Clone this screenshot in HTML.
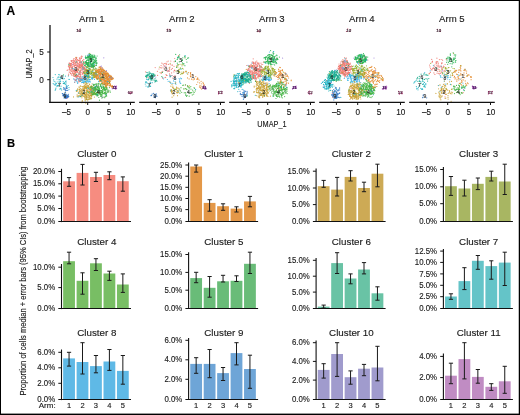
<!DOCTYPE html>
<html><head><meta charset="utf-8"><style>
html,body{margin:0;padding:0;background:#fff;}
svg{display:block;font-family:"Liberation Sans", sans-serif;will-change:transform;}
</style></head><body>
<svg width="520" height="415" viewBox="0 0 520 415">
<rect width="520" height="415" fill="#fff"/>

<text x="6.40" y="14.80" font-size="12" text-anchor="start" font-weight="bold" fill="#000" stroke="#000" stroke-width="0.13" >A</text>
<text x="6.90" y="147.10" font-size="11.2" text-anchor="start" font-weight="bold" fill="#000" stroke="#000" stroke-width="0.13" >B</text>
<path d="M78.2 67.1h0M69.2 72.1h0M73.7 63.4h0M71.1 63.4h0M75.3 59.7h0M76.8 57.7h0M81.7 64.4h0M70.0 72.2h0M79.1 63.1h0M73.1 70.4h0M75.6 73.2h0M73.2 60.4h0M82.9 69.6h0M78.9 67.0h0M79.2 66.4h0M84.1 67.8h0M75.5 75.4h0M80.2 66.1h0M75.1 72.2h0M77.7 75.7h0M78.0 60.3h0M74.2 70.0h0M79.3 64.2h0M73.3 62.4h0M76.3 71.3h0M81.0 62.9h0M82.0 66.7h0M77.4 59.8h0M81.7 62.8h0M82.1 64.0h0M68.0 69.8h0M74.2 63.4h0M79.1 60.8h0M67.1 70.3h0M85.7 69.2h0M70.1 63.5h0M86.4 71.5h0M76.3 70.0h0M68.4 66.5h0M79.6 64.9h0M82.3 65.8h0M76.0 64.2h0M74.8 71.4h0M82.5 65.0h0M80.0 66.7h0M76.1 59.3h0M74.0 63.7h0M72.8 66.4h0M83.3 68.1h0M69.1 67.1h0M76.1 69.0h0M69.9 67.4h0M69.1 63.2h0M69.9 68.0h0M82.0 65.3h0M79.3 65.5h0M84.4 67.9h0M82.0 56.4h0M71.4 63.4h0M75.2 75.7h0M82.6 63.8h0M82.9 68.9h0M74.7 71.2h0M81.3 62.8h0M72.2 64.6h0M81.8 65.3h0M71.9 68.1h0M82.2 66.6h0M73.2 66.1h0M77.1 76.3h0M68.5 65.3h0M82.5 60.3h0M75.5 65.3h0M74.0 61.5h0M76.7 71.8h0M74.0 62.7h0M80.2 62.6h0M68.7 74.1h0M79.5 79.8h0M70.5 73.4h0M75.9 57.4h0M74.9 74.5h0M80.2 65.3h0M75.8 62.5h0M76.2 57.3h0M83.7 71.3h0M76.0 59.0h0M77.8 72.1h0M70.5 66.3h0M83.9 68.7h0M75.6 75.4h0M75.9 72.9h0M77.2 70.5h0M73.5 58.8h0M79.6 62.3h0M79.7 58.4h0M68.5 75.2h0M82.2 73.2h0M79.9 58.5h0M73.0 68.9h0M76.2 64.6h0M71.8 63.9h0M76.9 62.0h0M82.6 78.6h0M86.8 77.9h0M80.3 74.9h0M84.5 76.2h0M83.3 76.0h0M74.4 76.5h0M75.4 80.6h0M75.2 76.6h0M81.7 79.8h0M76.1 77.0h0M81.0 76.8h0M96.0 68.9h0M108.4 91.9h0M92.5 88.8h0M67.7 95.7h0M74.5 65.7h0M101.3 70.4h0M108.7 75.8h0" stroke="#EF776F" stroke-width="1.2" stroke-linecap="round" fill="none" opacity="0.88"/>
<path d="M96.6 78.0h0M99.2 72.2h0M106.9 73.9h0M99.4 69.3h0M107.7 73.9h0M112.9 79.0h0M101.6 68.1h0M102.7 82.5h0M104.3 81.8h0M109.5 75.9h0M96.1 75.7h0M102.3 78.8h0M112.2 79.2h0M105.6 78.5h0M97.5 77.9h0M102.1 73.1h0M99.9 73.7h0M100.9 80.5h0M106.6 82.7h0M107.2 73.2h0M102.3 70.0h0M99.8 70.6h0M96.6 72.0h0M104.6 74.3h0M96.0 76.0h0M108.5 78.9h0M97.1 75.2h0M104.8 78.0h0M108.5 85.0h0M103.1 77.5h0M108.1 78.1h0M96.4 73.0h0M100.1 66.8h0M95.2 76.3h0M101.2 74.2h0M109.1 80.6h0M104.5 73.1h0M95.4 75.5h0M106.9 82.9h0M98.2 78.0h0M99.1 67.4h0M102.1 83.4h0M105.9 71.4h0M100.6 77.3h0M111.0 79.1h0M97.4 70.0h0M99.8 81.4h0M102.2 74.3h0M106.6 75.6h0M104.5 80.2h0M99.2 81.0h0M102.0 78.4h0M106.8 83.5h0M100.8 79.6h0M112.0 77.3h0M95.2 74.3h0M99.9 78.5h0M102.2 73.9h0M102.0 71.5h0M108.2 73.9h0M108.2 79.3h0M108.7 74.7h0M96.8 70.3h0M100.3 79.3h0M109.7 76.4h0M95.2 72.9h0M109.4 79.6h0M107.8 81.0h0M99.6 71.4h0M112.3 77.7h0M105.4 82.0h0M95.9 72.3h0M103.8 77.2h0M111.9 78.1h0M111.3 78.4h0M103.6 78.0h0M113.3 78.3h0M105.1 72.2h0M98.2 76.1h0M105.4 75.0h0M99.6 76.0h0M110.3 76.2h0M106.1 73.4h0M106.3 84.9h0M106.0 73.1h0M104.6 72.0h0M105.5 81.7h0M103.5 70.3h0M95.7 77.6h0M106.4 71.7h0M106.7 77.3h0M107.0 80.1h0M111.0 77.2h0M94.5 75.9h0M104.5 83.8h0M104.2 83.0h0M106.4 77.8h0M94.7 74.4h0M98.3 71.0h0M107.9 74.3h0M108.3 76.2h0M108.4 81.3h0M99.8 80.8h0M108.9 79.9h0M108.0 83.5h0M104.7 70.9h0M109.8 75.2h0M102.1 79.7h0M107.1 85.1h0M95.8 75.2h0M107.7 77.8h0M102.8 71.5h0M111.7 79.6h0M98.5 72.0h0M102.4 78.0h0M111.0 79.6h0M96.5 73.0h0M107.2 78.5h0M108.2 75.3h0M103.5 73.3h0M99.8 80.0h0M107.6 77.0h0M93.7 75.7h0M99.1 67.2h0M100.5 71.7h0M110.9 76.2h0M104.1 77.7h0M104.1 70.6h0M101.6 73.7h0M107.6 76.9h0M109.5 75.4h0M94.5 76.7h0M100.3 68.6h0M110.5 77.0h0M109.6 81.4h0M100.1 71.9h0M96.2 72.3h0M100.7 75.9h0M105.6 71.7h0M108.5 75.7h0M108.1 83.4h0M103.4 79.7h0M105.7 80.9h0M105.5 80.4h0M111.4 86.0h0M106.6 83.3h0M105.7 80.7h0M110.8 85.7h0M103.2 79.3h0M110.7 85.0h0M111.5 86.7h0M106.8 81.6h0M113.5 86.5h0" stroke="#E4892A" stroke-width="1.2" stroke-linecap="round" fill="none" opacity="0.88"/>
<path d="M76.7 91.3h0M76.4 91.3h0M82.2 101.4h0M84.1 86.1h0M81.7 89.6h0M85.8 94.8h0M80.9 95.0h0M85.8 103.2h0M81.5 91.2h0M85.3 99.3h0M84.2 95.8h0M85.0 97.8h0M89.4 84.2h0M85.5 95.3h0M91.3 96.2h0M81.6 92.4h0M89.1 95.3h0M87.6 100.1h0M78.3 92.9h0M90.4 88.5h0M84.2 87.0h0M89.5 91.1h0M85.4 100.8h0M86.5 88.5h0M86.4 94.9h0M80.9 90.8h0M80.7 95.1h0M77.2 96.7h0M80.8 90.8h0M84.1 96.3h0M85.9 87.5h0M85.1 100.7h0M81.7 95.9h0M82.6 93.7h0M78.9 93.5h0M79.3 87.3h0M88.5 86.9h0M86.2 96.6h0M86.9 92.3h0M86.5 96.5h0M86.0 97.2h0M86.2 86.3h0M79.5 90.8h0M80.2 92.0h0M86.0 98.9h0M91.3 91.0h0M85.3 94.3h0M79.4 91.9h0M80.4 93.4h0M79.1 86.9h0M85.0 86.8h0M85.8 95.5h0M89.4 91.9h0M82.3 100.5h0M82.8 95.1h0M82.4 95.7h0M89.9 88.7h0M80.6 96.3h0M90.4 89.4h0M87.7 87.3h0M89.0 98.6h0M85.3 87.5h0M85.1 99.2h0M78.9 87.0h0M88.0 85.9h0M88.9 91.6h0M87.1 86.8h0M77.3 95.9h0M77.6 90.8h0M90.3 89.0h0M85.2 92.1h0M78.5 95.8h0M83.6 90.0h0M77.6 88.9h0M73.5 96.9h0M85.1 84.8h0M87.0 94.5h0M91.7 90.1h0M78.7 96.7h0M91.7 93.1h0M79.2 91.1h0M81.0 86.4h0M91.8 94.1h0M80.4 88.3h0M81.0 96.6h0M91.1 95.5h0M76.9 90.4h0M84.4 85.6h0M87.1 99.1h0M84.8 97.9h0M88.7 94.6h0M79.8 89.6h0M80.6 81.2h0M98.4 69.0h0M103.4 87.5h0M89.7 53.4h0M98.4 74.1h0M94.8 94.1h0M84.5 68.6h0M87.3 79.6h0" stroke="#C9A031" stroke-width="1.2" stroke-linecap="round" fill="none" opacity="0.88"/>
<path d="M96.1 75.4h0M90.8 79.6h0M96.6 74.9h0M94.7 69.2h0M93.4 74.6h0M92.5 72.0h0M86.4 66.7h0M97.0 71.3h0M86.1 80.5h0M93.1 75.9h0M92.4 77.7h0M90.1 69.0h0M90.3 74.0h0M95.1 74.0h0M89.6 68.7h0M86.4 72.9h0M91.6 75.1h0M97.0 75.4h0M94.2 77.4h0M86.8 73.3h0M92.6 70.3h0M85.4 76.5h0M91.3 72.7h0M88.8 69.7h0M90.1 77.5h0M87.7 73.2h0M92.1 72.4h0M86.2 74.7h0M91.5 73.4h0M96.4 75.9h0M93.2 73.4h0M85.0 73.3h0M100.2 74.1h0M86.5 70.7h0M88.9 77.7h0M88.9 72.8h0M93.6 72.5h0M84.5 73.2h0M95.5 76.6h0M87.8 71.0h0M84.5 73.4h0M90.0 77.4h0M88.5 71.3h0M87.9 72.2h0M86.7 72.0h0M93.2 69.0h0M86.7 71.7h0M86.3 70.0h0M87.1 91.4h0M84.2 93.7h0M105.6 83.4h0M107.9 74.6h0M106.4 93.8h0M98.8 72.8h0" stroke="#9DAF2E" stroke-width="1.2" stroke-linecap="round" fill="none" opacity="0.88"/>
<path d="M102.8 85.0h0M105.7 90.9h0M103.8 87.0h0M97.5 92.2h0M106.6 89.0h0M95.0 93.7h0M100.1 94.8h0M93.7 93.5h0M91.1 90.1h0M107.0 88.2h0M105.8 96.5h0M100.7 96.3h0M104.6 88.1h0M106.1 91.0h0M97.7 92.1h0M108.1 90.6h0M101.7 92.7h0M93.1 90.4h0M104.4 93.2h0M107.4 91.8h0M105.2 92.2h0M99.5 100.2h0M102.8 91.8h0M108.6 91.8h0M105.5 96.6h0M94.9 90.8h0M97.0 94.5h0M96.2 89.3h0M104.9 90.7h0M105.8 93.2h0M105.3 94.7h0M110.3 92.2h0M98.5 88.9h0M105.9 89.8h0M107.4 89.8h0M106.6 93.3h0M97.5 94.7h0M104.9 96.8h0M101.9 91.1h0M108.3 90.0h0M101.7 96.4h0M101.5 87.5h0M96.7 94.2h0M97.6 94.9h0M98.4 87.2h0M101.7 98.0h0M105.2 89.4h0M100.0 94.6h0M98.2 93.9h0M99.9 92.6h0M97.1 89.7h0M106.7 93.1h0M105.0 89.7h0M103.3 87.1h0M104.2 87.9h0M105.2 94.2h0M99.0 87.8h0M106.1 88.0h0M106.7 96.0h0M97.4 95.1h0M96.9 92.8h0M94.0 92.1h0M104.7 97.7h0M99.4 90.0h0M100.9 86.4h0M109.9 90.8h0M99.8 92.3h0M105.7 93.7h0M106.0 87.7h0M106.5 94.9h0M103.1 97.2h0M101.8 95.8h0M102.6 97.6h0M93.0 91.8h0M96.5 92.4h0M94.8 88.7h0M97.3 87.1h0M97.8 93.9h0M103.5 88.5h0M101.9 87.6h0M98.0 86.7h0M102.3 92.7h0M106.1 95.6h0M96.4 94.1h0M101.3 87.9h0" stroke="#3DB23D" stroke-width="1.2" stroke-linecap="round" fill="none" opacity="0.88"/>
<path d="M89.3 68.5h0M92.1 65.9h0M92.5 63.2h0M85.2 63.4h0M88.7 68.2h0M93.7 57.6h0M87.5 65.4h0M87.9 57.7h0M93.6 68.1h0M88.8 56.8h0M90.6 61.2h0M85.9 58.2h0M89.0 63.0h0M83.8 64.5h0M90.1 63.8h0M83.7 62.3h0M93.2 65.6h0M92.2 59.4h0M92.5 58.9h0M91.3 65.3h0M93.6 57.9h0M88.1 64.4h0M90.8 63.3h0M85.1 65.9h0M84.7 65.4h0M91.4 59.9h0M92.0 64.2h0M85.7 64.5h0M93.4 63.2h0M88.3 57.1h0M87.0 64.0h0M88.6 62.4h0M90.6 57.5h0M89.9 66.6h0M91.6 64.6h0M93.3 62.1h0M86.0 66.1h0M87.7 60.2h0M92.4 66.9h0M90.4 56.8h0M88.7 68.3h0M93.8 62.3h0M92.8 64.0h0M85.7 61.8h0M83.6 63.1h0M91.9 56.7h0M87.0 67.5h0M94.5 62.3h0M85.8 58.3h0M95.0 63.5h0M87.7 66.8h0M91.0 57.1h0M83.3 63.1h0M91.1 63.3h0M88.9 60.6h0M95.0 60.6h0M86.7 62.3h0M85.8 57.4h0M93.5 63.9h0M87.2 67.7h0M94.8 62.1h0M93.0 57.6h0M90.6 57.3h0M89.1 66.6h0M91.6 60.1h0M87.5 64.2h0M88.2 56.3h0M85.6 56.1h0M90.7 57.5h0M89.6 56.2h0M90.0 56.5h0M87.1 58.0h0M107.7 92.1h0M80.0 81.3h0M76.1 69.6h0M103.1 87.2h0M106.0 86.8h0M110.9 77.0h0M90.8 98.7h0M86.7 99.6h0" stroke="#21B24E" stroke-width="1.2" stroke-linecap="round" fill="none" opacity="0.88"/>
<path d="M87.9 72.3h0M87.4 76.1h0M89.3 73.6h0M86.2 75.0h0M88.3 74.7h0M86.7 72.7h0M94.1 92.8h0M91.1 94.1h0M68.9 64.4h0M88.5 75.9h0M104.2 88.5h0M82.1 93.9h0M94.0 72.6h0" stroke="#12AA8A" stroke-width="1.2" stroke-linecap="round" fill="none" opacity="0.88"/>
<path d="M56.0 84.0h0M55.3 74.6h0M60.1 79.3h0M63.6 76.0h0M55.2 90.2h0M55.1 85.5h0M67.1 86.9h0M58.0 81.9h0M63.2 81.6h0M66.1 82.9h0M59.7 82.1h0M63.3 83.4h0M61.0 88.5h0M65.4 84.6h0M56.5 86.0h0M59.0 79.7h0M61.6 89.9h0M60.0 77.2h0M58.3 76.9h0M55.4 83.9h0M84.9 81.6h0M101.3 80.6h0M85.3 57.3h0M65.5 97.5h0M93.9 92.4h0M89.8 71.2h0M76.3 90.4h0M104.2 84.0h0" stroke="#1DB3C3" stroke-width="1.2" stroke-linecap="round" fill="none" opacity="0.88"/>
<path d="M83.7 82.6h0M73.5 78.9h0M88.1 78.2h0M85.2 81.7h0M90.3 81.9h0M88.9 77.7h0M88.6 82.1h0M80.7 79.3h0M82.3 82.5h0M91.6 78.4h0M81.8 80.2h0M82.3 80.1h0M89.1 79.5h0M87.1 80.9h0M81.5 82.6h0M81.1 79.1h0M85.9 81.3h0M88.2 79.8h0M88.5 79.9h0M85.0 78.3h0M86.2 78.7h0M87.8 77.8h0M75.1 79.8h0M89.7 80.9h0M82.6 82.5h0M88.7 82.2h0M89.6 79.5h0M82.5 79.3h0M86.4 97.7h0M89.0 65.4h0M94.6 73.9h0M103.3 76.4h0M82.1 95.3h0M87.1 76.1h0M85.9 62.6h0M92.6 87.5h0M77.4 65.1h0M93.1 84.2h0M69.0 89.5h0M91.3 90.1h0M66.5 85.2h0M109.7 80.3h0M90.1 66.9h0M102.1 72.5h0" stroke="#36B3E6" stroke-width="1.2" stroke-linecap="round" fill="none" opacity="0.88"/>
<path d="M66.2 87.4h0M67.0 95.4h0M64.7 94.1h0M65.2 92.4h0M65.6 95.8h0M67.0 86.1h0M65.0 88.9h0M67.8 90.3h0M62.4 93.6h0M66.8 90.4h0M66.9 96.0h0M65.0 97.0h0M67.9 96.8h0M66.1 98.0h0M64.3 95.6h0M65.8 98.0h0M65.1 95.8h0M63.0 95.7h0M68.7 96.5h0M66.5 97.2h0M66.3 97.9h0M68.8 96.6h0M68.2 96.9h0M65.3 96.4h0M67.2 95.4h0M67.7 95.9h0M67.2 97.1h0M65.4 97.8h0" stroke="#3478C4" stroke-width="1.2" stroke-linecap="round" fill="none" opacity="0.88"/>
<path d="M109.2 77.9h0M104.9 74.4h0M91.1 93.2h0M91.4 66.0h0M106.4 70.7h0M90.2 65.1h0M80.5 74.0h0M102.4 68.3h0M72.9 64.4h0M83.2 89.4h0" stroke="#9A7ED6" stroke-width="1.2" stroke-linecap="round" fill="none" opacity="0.88"/>
<path d="M116.4 87.2h0M115.6 87.8h0M113.3 87.0h0M114.2 86.4h0M113.8 88.1h0M114.7 86.0h0" stroke="#A345B0" stroke-width="1.2" stroke-linecap="round" fill="none" opacity="0.88"/>
<path d="M129.9 92.8h0M129.1 93.1h0" stroke="#C03A7E" stroke-width="1.2" stroke-linecap="round" fill="none" opacity="0.88"/>
<path d="M78.4 30.8h0M79.7 31.2h0" stroke="#C45A78" stroke-width="1.2" stroke-linecap="round" fill="none" opacity="0.88"/>
<path d="M130.2 93.7h0" stroke="#8A8AA0" stroke-width="1.2" stroke-linecap="round" fill="none" opacity="0.88"/>
<path d="M72.4 69.1h0M74.7 79.1h0M82.8 68.3h0M79.4 59.9h0M81.3 69.6h0M75.2 72.7h0M83.4 68.5h0M82.2 74.4h0M75.4 65.3h0M82.6 73.4h0M77.4 66.6h0M78.2 63.9h0M79.0 68.2h0M82.7 73.3h0M83.0 69.4h0M83.0 73.5h0M78.5 60.4h0M81.2 58.1h0M82.1 64.8h0M79.0 70.5h0M80.0 64.6h0M71.5 71.3h0M88.9 64.6h0M71.9 68.9h0M71.9 69.7h0M72.0 66.0h0M70.0 67.5h0M77.8 69.2h0M71.9 65.9h0M84.7 63.3h0M79.9 67.2h0M81.1 65.4h0M74.2 65.7h0M76.9 65.2h0M83.2 72.2h0M74.9 58.5h0M73.4 73.6h0M80.6 67.1h0M81.5 66.6h0M75.2 67.4h0M76.4 60.7h0M81.6 68.5h0M72.1 68.3h0M82.7 66.1h0M83.1 67.6h0M83.0 60.8h0M79.2 64.9h0M81.5 58.4h0M80.3 68.2h0M77.8 65.6h0M77.5 63.5h0M72.4 60.8h0M77.3 65.0h0M78.7 69.2h0M79.3 72.3h0M74.6 65.9h0M77.3 66.3h0M77.1 62.9h0M76.9 71.8h0M73.4 71.0h0M84.0 68.3h0M71.9 75.5h0M81.1 72.3h0M83.4 73.4h0M70.7 70.8h0M75.6 63.6h0M83.8 59.4h0M80.3 60.8h0M76.5 58.4h0M75.0 74.7h0M78.9 73.3h0M77.9 72.7h0M74.9 60.7h0M77.5 61.9h0M76.6 70.4h0M80.2 76.9h0M84.7 62.7h0M80.4 71.2h0M80.1 61.0h0M81.6 56.0h0M76.6 75.0h0M78.3 65.8h0M77.7 75.4h0M71.5 60.7h0M73.6 64.5h0M77.1 63.2h0M83.7 72.1h0M80.3 70.0h0M75.4 62.3h0M83.0 65.2h0M83.9 71.3h0M79.8 73.2h0M85.1 69.4h0M75.8 71.8h0M80.7 75.1h0M72.3 67.6h0M70.7 65.1h0M69.2 67.1h0M78.4 69.9h0M82.3 70.9h0M79.1 67.4h0M72.3 68.1h0M71.9 67.2h0M80.1 74.4h0M80.7 80.7h0M79.2 74.2h0M76.4 77.9h0M80.7 78.9h0M73.6 74.6h0M81.2 80.6h0M83.6 78.0h0M81.6 78.2h0M75.9 76.2h0M78.6 81.0h0M92.7 57.2h0M74.7 82.4h0M86.0 62.9h0M107.7 81.1h0M71.3 64.0h0M67.4 98.0h0M95.4 70.4h0" stroke="#EF776F" stroke-width="1.2" stroke-linecap="round" fill="none" opacity="0.88"/>
<path d="M104.3 74.5h0M98.4 70.3h0M98.3 73.0h0M105.0 74.0h0M101.8 76.2h0M110.1 77.7h0M103.3 69.0h0M104.2 78.5h0M108.5 75.4h0M106.7 73.7h0M107.9 73.3h0M98.4 78.3h0M100.6 79.2h0M99.2 71.4h0M105.4 76.4h0M92.6 74.9h0M99.5 73.8h0M105.7 81.1h0M98.4 76.2h0M96.9 78.8h0M96.6 70.0h0M102.6 83.1h0M107.5 84.9h0M101.5 71.4h0M103.2 80.4h0M97.7 72.4h0M103.6 79.9h0M104.6 77.4h0M103.5 71.2h0M106.5 76.9h0M107.1 79.4h0M102.9 84.2h0M105.6 73.7h0M99.9 69.6h0M103.7 70.9h0M107.7 82.8h0M108.1 77.9h0M97.3 76.5h0M103.7 78.4h0M94.7 77.0h0M104.9 81.1h0M94.3 73.3h0M106.7 85.9h0M98.2 72.2h0M107.5 84.3h0M107.7 72.9h0M108.9 80.2h0M102.1 67.7h0M96.2 75.8h0M99.9 81.3h0M97.4 75.4h0M100.2 74.7h0M105.5 74.3h0M96.9 76.1h0M98.9 77.8h0M106.6 73.1h0M105.1 81.3h0M95.9 71.2h0M105.1 84.2h0M100.5 77.7h0M106.5 74.7h0M106.3 79.9h0M103.2 75.3h0M106.1 77.7h0M101.9 69.1h0M103.4 75.5h0M105.1 74.8h0M98.9 78.7h0M101.8 76.8h0M101.2 73.4h0M107.5 79.8h0M100.2 67.2h0M107.0 76.8h0M93.9 75.5h0M100.6 67.0h0M99.7 70.7h0M103.6 72.6h0M104.1 84.3h0M106.2 72.9h0M110.5 78.9h0M97.3 70.5h0M101.6 79.8h0M105.1 76.4h0M110.9 78.0h0M102.3 76.4h0M99.4 73.3h0M102.1 70.1h0M103.3 78.3h0M95.2 72.6h0M109.7 81.1h0M100.3 69.6h0M104.8 82.2h0M108.7 76.2h0M105.9 84.4h0M100.0 74.3h0M99.7 72.8h0M105.4 81.6h0M98.1 77.5h0M105.7 76.3h0M100.3 73.2h0M101.0 72.5h0M105.3 86.4h0M104.4 73.7h0M107.5 83.2h0M104.6 78.3h0M107.1 81.1h0M97.0 78.3h0M102.8 80.6h0M101.7 82.8h0M109.9 76.9h0M97.8 70.0h0M103.7 70.8h0M105.9 84.5h0M101.8 79.5h0M103.4 69.5h0M95.1 73.5h0M107.9 83.9h0M109.7 77.5h0M100.6 74.4h0M105.0 83.7h0M105.1 80.8h0M94.5 74.0h0M105.5 82.0h0M99.3 74.0h0M102.9 71.9h0M107.7 79.5h0M101.3 80.8h0M103.1 75.8h0M98.2 75.9h0M100.1 81.4h0M96.7 74.4h0M101.4 72.8h0M102.9 84.2h0M106.2 74.7h0M103.7 82.1h0M94.0 73.0h0M107.2 82.5h0M98.2 71.5h0M101.2 77.7h0M112.4 85.5h0M110.2 83.5h0M111.8 86.9h0M110.0 86.2h0M111.9 86.3h0M110.0 83.3h0M104.9 80.8h0M112.9 86.5h0M107.2 81.4h0M110.4 84.9h0M112.0 86.3h0M106.5 81.1h0M108.9 83.4h0M106.1 80.8h0" stroke="#E4892A" stroke-width="1.2" stroke-linecap="round" fill="none" opacity="0.88"/>
<path d="M86.5 92.6h0M93.5 87.7h0M85.6 81.7h0M87.2 97.2h0M82.4 86.6h0M90.2 89.7h0M86.6 83.5h0M83.9 83.6h0M91.6 95.3h0M89.5 92.3h0M91.2 93.3h0M84.8 92.6h0M91.1 93.4h0M90.4 92.8h0M84.0 88.7h0M90.1 87.2h0M89.0 95.4h0M86.7 90.1h0M91.4 95.2h0M84.7 88.2h0M82.5 93.8h0M83.4 86.3h0M80.9 94.6h0M87.5 90.3h0M79.1 89.0h0M91.7 86.7h0M89.0 91.3h0M89.6 84.7h0M94.5 88.5h0M83.6 89.6h0M87.2 89.5h0M88.9 95.3h0M92.1 94.9h0M89.6 89.4h0M88.1 91.1h0M89.8 96.6h0M89.9 97.4h0M86.8 97.7h0M84.4 89.7h0M86.7 87.9h0M94.9 92.7h0M90.9 98.9h0M84.9 88.7h0M89.2 99.4h0M87.2 94.7h0M84.6 96.8h0M79.9 92.0h0M81.9 95.0h0M82.8 95.1h0M92.9 86.8h0M92.8 93.8h0M90.4 95.3h0M87.3 87.4h0M86.9 84.7h0M83.5 91.0h0M89.0 87.0h0M92.1 83.8h0M89.8 88.7h0M86.5 83.0h0M86.0 92.7h0M84.0 83.2h0M89.1 97.2h0M88.4 93.0h0M93.7 85.7h0M82.5 93.1h0M97.1 92.3h0M88.7 97.3h0M92.0 88.1h0M91.1 94.7h0M91.6 85.8h0M79.8 89.7h0M86.5 96.4h0M87.3 97.2h0M85.9 83.5h0M86.0 87.2h0M89.6 93.6h0M83.9 90.1h0M82.8 87.1h0M84.6 94.0h0M83.0 96.1h0M93.8 88.1h0M83.0 88.7h0M82.9 90.3h0M83.3 93.8h0M86.3 97.8h0M95.1 93.0h0M77.1 94.8h0M93.6 91.7h0M93.7 89.0h0M85.3 82.5h0M93.3 91.4h0M91.9 88.5h0M87.9 66.6h0M76.0 57.6h0M84.5 68.7h0M95.5 65.6h0M86.2 88.7h0M76.0 75.2h0M88.7 88.1h0M64.9 92.8h0" stroke="#C9A031" stroke-width="1.2" stroke-linecap="round" fill="none" opacity="0.88"/>
<path d="M93.2 70.2h0M92.0 72.7h0M96.7 68.8h0M88.0 74.8h0M94.3 74.8h0M87.0 71.2h0M90.1 73.5h0M92.5 69.9h0M87.3 70.5h0M90.1 68.6h0M92.8 66.8h0M90.0 72.1h0M93.3 75.9h0M86.0 70.6h0M94.6 72.3h0M91.0 71.8h0M90.0 70.6h0M88.5 71.0h0M93.4 74.7h0M91.5 67.4h0M94.5 66.5h0M85.6 70.1h0M93.2 65.8h0M93.9 69.6h0M93.5 73.1h0M90.1 73.2h0M87.8 67.4h0M91.5 74.1h0M87.6 71.1h0M96.6 73.0h0M87.8 75.2h0M91.2 66.1h0M85.0 71.0h0M86.9 71.9h0M84.9 71.0h0M89.9 72.5h0M89.9 71.0h0M87.4 74.7h0M87.0 69.7h0M84.3 69.9h0M90.0 69.2h0M92.6 74.8h0M91.1 69.8h0M85.4 71.0h0M91.1 67.0h0M89.8 72.7h0M87.9 73.2h0M93.8 67.7h0M82.8 67.6h0M91.5 59.6h0M104.4 77.2h0M88.4 66.1h0M78.3 70.0h0M88.5 63.6h0" stroke="#9DAF2E" stroke-width="1.2" stroke-linecap="round" fill="none" opacity="0.88"/>
<path d="M92.3 92.4h0M96.1 94.7h0M95.9 94.8h0M103.0 90.8h0M105.0 87.3h0M98.4 84.0h0M103.9 87.9h0M106.4 87.4h0M92.7 94.1h0M97.8 89.4h0M91.3 89.2h0M105.7 85.9h0M102.0 83.6h0M96.2 83.8h0M95.3 88.1h0M109.4 87.6h0M95.3 87.9h0M94.5 93.6h0M99.5 89.8h0M106.0 89.3h0M94.9 87.1h0M95.9 94.4h0M98.9 91.2h0M102.7 93.3h0M100.6 86.2h0M99.4 90.1h0M100.1 92.7h0M97.5 91.6h0M97.9 92.1h0M97.6 87.5h0M92.3 88.8h0M100.5 92.0h0M97.8 86.5h0M96.7 89.3h0M103.9 93.5h0M104.5 92.6h0M106.1 88.5h0M105.0 93.0h0M106.1 85.9h0M93.2 88.7h0M95.0 89.1h0M92.5 88.6h0M92.5 89.8h0M101.1 94.4h0M104.2 90.0h0M98.8 84.2h0M92.4 91.3h0M95.5 94.4h0M96.7 90.0h0M99.3 88.5h0M102.0 86.6h0M95.6 87.1h0M99.5 91.3h0M95.1 89.6h0M101.1 84.8h0M104.8 89.3h0M102.1 93.1h0M95.7 86.8h0M96.2 93.6h0M96.6 85.9h0M98.5 83.6h0M101.9 93.0h0M93.8 87.8h0M100.4 84.7h0M104.1 88.5h0M103.2 84.8h0M92.1 88.0h0M100.9 90.3h0M101.6 83.3h0M93.4 85.3h0M99.0 83.2h0M91.4 88.8h0M96.7 86.1h0M98.1 83.8h0M100.3 92.9h0M97.0 95.8h0M105.7 92.8h0M96.5 88.1h0M99.6 90.0h0M99.9 92.6h0M99.0 86.8h0M99.3 93.1h0M102.8 91.3h0M96.3 94.7h0" stroke="#3DB23D" stroke-width="1.2" stroke-linecap="round" fill="none" opacity="0.88"/>
<path d="M85.0 65.4h0M88.5 60.8h0M90.0 54.8h0M94.4 61.8h0M92.3 56.1h0M91.3 61.7h0M89.2 58.5h0M90.3 54.8h0M90.4 62.2h0M90.2 62.2h0M96.3 65.5h0M91.4 57.2h0M89.0 66.0h0M89.7 55.3h0M91.2 60.7h0M91.0 64.8h0M89.0 53.9h0M93.0 61.2h0M88.3 60.3h0M90.9 54.8h0M90.3 64.0h0M89.1 65.2h0M92.3 56.9h0M91.5 59.7h0M86.4 63.4h0M94.5 56.2h0M90.3 56.7h0M93.3 65.9h0M92.1 56.1h0M93.3 56.7h0M86.3 67.8h0M90.7 66.5h0M93.9 63.9h0M87.3 55.9h0M94.6 56.0h0M91.4 66.6h0M96.8 63.2h0M90.6 59.9h0M94.1 66.4h0M89.2 55.2h0M94.7 62.4h0M86.0 58.6h0M96.1 61.9h0M95.4 61.9h0M92.3 65.6h0M90.7 65.1h0M89.0 58.2h0M89.1 59.1h0M89.1 55.9h0M88.2 56.0h0M87.6 62.7h0M86.8 62.6h0M92.5 66.4h0M90.1 54.8h0M96.2 64.0h0M88.1 56.3h0M89.9 60.2h0M87.5 64.4h0M94.1 55.1h0M88.3 64.0h0M88.5 59.1h0M94.0 56.9h0M93.7 59.7h0M86.0 62.4h0M85.5 61.8h0M86.6 60.4h0M87.4 57.7h0M86.7 57.5h0M89.1 57.5h0M87.4 57.3h0M85.8 57.6h0M64.0 83.6h0M102.0 73.3h0M91.3 73.5h0M90.4 56.3h0M83.9 72.4h0M91.4 95.5h0M63.4 74.8h0M95.5 68.1h0M84.2 78.0h0" stroke="#21B24E" stroke-width="1.2" stroke-linecap="round" fill="none" opacity="0.88"/>
<path d="M89.1 73.5h0M84.8 74.2h0M88.6 75.2h0M86.6 75.6h0M88.4 75.3h0M78.9 74.1h0M104.5 84.5h0M90.5 62.4h0M88.3 88.3h0M58.2 85.5h0M76.3 75.9h0M101.9 81.3h0M79.9 71.7h0" stroke="#12AA8A" stroke-width="1.2" stroke-linecap="round" fill="none" opacity="0.88"/>
<path d="M53.7 79.9h0M63.8 87.5h0M55.6 89.2h0M60.6 77.9h0M55.8 82.0h0M57.5 85.5h0M60.2 80.9h0M63.0 78.9h0M58.0 77.7h0M64.8 82.7h0M56.6 83.5h0M53.0 77.5h0M54.1 84.3h0M60.0 89.2h0M66.2 81.1h0M57.0 79.1h0M53.2 83.5h0M60.6 81.6h0M54.2 81.6h0M58.7 74.6h0M56.0 88.0h0M85.3 74.4h0M72.3 68.2h0M92.5 78.2h0M96.4 71.6h0M95.6 86.4h0M79.8 96.6h0M97.6 90.5h0" stroke="#1DB3C3" stroke-width="1.2" stroke-linecap="round" fill="none" opacity="0.88"/>
<path d="M77.3 81.9h0M79.7 80.9h0M87.5 80.9h0M82.7 80.9h0M79.9 78.0h0M85.7 81.5h0M80.3 80.7h0M76.0 80.8h0M81.8 79.4h0M74.6 82.0h0M82.7 76.9h0M88.1 81.4h0M83.4 82.2h0M84.0 82.4h0M77.6 83.0h0M86.5 78.0h0M89.4 81.5h0M94.5 79.4h0M77.0 77.7h0M86.8 82.4h0M86.6 82.2h0M79.2 78.4h0M80.1 79.2h0M84.1 80.4h0M76.6 81.0h0M78.6 79.2h0M92.3 79.3h0M74.8 69.5h0M112.3 78.1h0M99.6 78.2h0M104.4 75.0h0M103.9 71.9h0M87.8 76.8h0M109.9 77.4h0M91.9 59.3h0M89.4 54.4h0M55.2 84.5h0M73.2 68.8h0M94.0 87.9h0M94.8 87.1h0M106.1 94.6h0M95.5 91.3h0M82.0 95.2h0M90.4 61.5h0" stroke="#36B3E6" stroke-width="1.2" stroke-linecap="round" fill="none" opacity="0.88"/>
<path d="M63.9 94.6h0M64.2 95.3h0M65.2 96.6h0M65.5 92.1h0M64.3 93.9h0M66.6 88.1h0M63.7 89.2h0M64.9 88.6h0M64.6 95.1h0M64.7 93.9h0M68.4 94.3h0M65.1 98.0h0M65.5 95.7h0M64.1 98.0h0M66.8 96.4h0M68.3 95.8h0M67.6 96.4h0M64.3 95.8h0M67.6 97.1h0M64.2 95.9h0M64.9 97.8h0M67.5 96.4h0M67.2 97.5h0M66.6 96.2h0M66.2 96.3h0M65.4 95.9h0M66.2 98.4h0" stroke="#3478C4" stroke-width="1.2" stroke-linecap="round" fill="none" opacity="0.88"/>
<path d="M100.9 66.9h0M89.8 89.8h0M85.2 69.9h0M66.7 98.4h0M92.6 66.4h0M81.1 63.1h0M100.0 72.2h0M102.0 96.9h0M89.1 70.5h0M103.8 57.8h0" stroke="#9A7ED6" stroke-width="1.2" stroke-linecap="round" fill="none" opacity="0.88"/>
<path d="M116.2 86.5h0M116.6 88.6h0M114.8 88.5h0M115.0 86.4h0M115.4 89.1h0" stroke="#A345B0" stroke-width="1.2" stroke-linecap="round" fill="none" opacity="0.88"/>
<path d="M128.2 92.6h0M130.9 92.4h0" stroke="#C03A7E" stroke-width="1.2" stroke-linecap="round" fill="none" opacity="0.88"/>
<path d="M80.2 28.8h0" stroke="#C45A78" stroke-width="1.2" stroke-linecap="round" fill="none" opacity="0.88"/>
<path d="M128.5 92.3h0" stroke="#8A8AA0" stroke-width="1.2" stroke-linecap="round" fill="none" opacity="0.88"/>
<path d="M71.0 60.8h0M78.8 63.9h0M76.3 65.6h0M70.6 64.2h0M80.5 72.8h0M70.7 63.9h0M84.6 67.4h0M80.1 71.0h0M82.6 61.0h0M77.6 71.7h0M74.8 61.1h0M70.7 73.3h0M80.2 72.3h0M74.3 71.4h0M76.9 70.8h0M85.4 66.6h0M74.1 73.8h0M69.6 66.8h0M83.1 67.3h0M81.0 61.4h0M69.4 68.9h0M76.3 61.8h0M70.3 65.4h0M79.2 76.4h0M75.2 70.5h0M83.6 68.6h0M73.7 74.9h0M72.5 67.5h0M71.1 69.8h0M81.4 66.1h0M83.0 63.1h0M73.9 70.4h0M75.0 72.8h0M79.4 57.9h0M79.6 62.1h0M71.6 60.9h0M76.4 74.8h0M75.8 71.8h0M71.4 65.7h0M72.3 71.9h0M73.1 74.0h0M73.3 60.1h0M81.7 66.9h0M71.7 67.6h0M77.3 69.2h0M82.7 67.2h0M79.9 60.8h0M74.4 61.1h0M71.6 61.5h0M73.8 62.1h0M81.2 67.1h0M77.0 75.9h0M75.3 75.4h0M85.9 68.8h0M69.7 63.2h0M78.2 76.7h0M74.9 73.4h0M71.3 74.3h0M76.6 70.6h0M80.5 59.1h0M77.3 59.6h0M82.0 67.0h0M80.1 65.6h0M81.0 70.4h0M73.1 72.0h0M76.1 76.5h0M78.6 66.6h0M77.3 76.6h0M70.3 69.8h0M75.1 65.2h0M69.5 69.8h0M74.1 76.5h0M85.5 69.7h0M83.4 66.5h0M80.5 76.3h0M85.5 71.3h0M81.9 65.6h0M76.9 68.2h0M72.2 73.3h0M84.5 71.0h0M76.5 77.0h0M84.2 68.9h0M82.4 65.0h0M73.9 71.9h0M80.9 64.1h0M72.1 70.9h0M69.8 64.2h0M73.3 75.7h0M81.8 57.1h0M72.5 73.0h0M78.6 74.9h0M76.8 66.8h0M74.5 66.8h0M69.3 64.0h0M84.7 68.0h0M74.3 64.0h0M80.8 57.0h0M75.6 69.2h0M79.9 62.4h0M80.7 64.9h0M72.4 62.5h0M69.5 68.3h0M80.9 78.7h0M75.4 80.1h0M84.3 77.1h0M78.7 79.3h0M80.8 79.8h0M76.4 79.9h0M78.7 80.1h0M78.8 82.1h0M77.8 78.3h0M79.2 78.1h0M79.2 81.4h0M83.4 67.1h0M90.2 59.7h0M75.4 76.6h0M100.5 72.8h0M84.1 74.9h0M79.9 77.3h0M96.0 90.1h0M88.7 72.6h0" stroke="#EF776F" stroke-width="1.2" stroke-linecap="round" fill="none" opacity="0.88"/>
<path d="M104.6 70.4h0M103.9 77.8h0M99.7 69.6h0M103.9 77.5h0M109.0 75.7h0M107.1 84.6h0M105.9 75.9h0M111.3 78.7h0M97.7 78.9h0M110.8 79.6h0M100.2 68.9h0M101.1 79.7h0M94.1 73.6h0M111.5 77.3h0M103.5 75.1h0M95.4 72.4h0M112.9 78.0h0M98.8 77.4h0M104.3 75.3h0M104.8 74.0h0M103.8 74.1h0M100.2 75.3h0M105.5 71.8h0M106.6 78.1h0M112.7 78.5h0M104.8 84.8h0M104.3 70.4h0M95.9 71.1h0M107.7 79.5h0M104.6 81.3h0M96.5 77.7h0M102.5 69.5h0M111.8 78.8h0M108.5 83.6h0M107.3 78.8h0M101.1 71.0h0M109.2 83.2h0M100.1 73.7h0M105.2 84.6h0M96.4 78.2h0M94.1 75.2h0M107.9 76.6h0M100.7 68.6h0M97.7 71.7h0M101.8 71.6h0M105.2 79.2h0M96.8 78.4h0M106.4 75.7h0M110.5 76.0h0M93.4 73.5h0M102.2 74.1h0M101.1 71.0h0M97.9 72.4h0M99.9 78.9h0M99.8 69.7h0M100.0 76.9h0M103.3 72.5h0M95.2 73.0h0M96.6 75.4h0M99.0 75.3h0M110.4 81.2h0M100.9 78.7h0M103.1 75.6h0M96.3 71.3h0M96.9 72.0h0M101.6 80.3h0M101.7 71.4h0M109.1 78.1h0M103.5 72.2h0M105.7 75.3h0M105.9 85.2h0M101.0 81.4h0M101.9 69.8h0M103.8 73.3h0M109.7 78.3h0M105.3 83.3h0M101.9 79.1h0M109.6 82.8h0M102.0 77.2h0M105.6 86.3h0M102.1 70.6h0M108.0 73.6h0M107.9 75.6h0M100.5 68.1h0M105.5 73.9h0M109.2 81.9h0M99.4 73.6h0M110.4 76.1h0M104.8 83.1h0M95.5 73.5h0M96.7 78.8h0M103.9 79.3h0M107.4 84.4h0M107.6 79.6h0M105.4 86.1h0M96.2 76.9h0M109.8 81.1h0M111.1 76.1h0M96.4 76.0h0M108.2 75.1h0M98.4 74.1h0M101.4 69.7h0M100.6 75.1h0M97.7 70.8h0M105.4 78.7h0M99.2 79.3h0M107.6 82.1h0M100.8 73.2h0M107.6 77.1h0M105.9 73.7h0M111.9 79.5h0M100.6 72.5h0M106.3 76.6h0M96.6 77.4h0M108.6 79.2h0M103.0 81.4h0M103.3 83.8h0M107.9 81.3h0M107.2 81.5h0M96.2 74.5h0M106.5 83.0h0M102.1 71.3h0M98.5 69.7h0M110.8 77.3h0M104.3 83.1h0M95.3 73.1h0M106.1 86.7h0M105.9 78.3h0M105.6 74.0h0M103.0 83.2h0M105.9 76.8h0M108.8 81.0h0M108.8 81.4h0M97.5 74.9h0M111.5 76.4h0M102.2 76.3h0M95.8 76.5h0M102.5 79.4h0M104.7 80.4h0M107.1 81.1h0M105.8 81.3h0M112.7 87.4h0M109.8 85.6h0M104.7 80.1h0M104.6 80.0h0M107.4 83.5h0M105.3 81.4h0M110.4 84.8h0M107.9 83.4h0M109.5 85.4h0M109.9 84.5h0M112.9 87.2h0" stroke="#E4892A" stroke-width="1.2" stroke-linecap="round" fill="none" opacity="0.88"/>
<path d="M80.6 90.8h0M84.9 87.5h0M79.3 95.4h0M87.1 93.6h0M93.0 94.9h0M87.6 85.6h0M85.4 94.4h0M90.6 89.7h0M84.9 94.0h0M85.4 84.5h0M85.9 96.2h0M82.0 93.2h0M91.4 95.4h0M84.7 92.7h0M91.5 86.4h0M90.5 90.4h0M91.6 96.8h0M86.7 91.0h0M86.3 85.1h0M95.1 94.2h0M87.8 102.1h0M87.9 95.9h0M91.5 93.0h0M85.5 87.0h0M92.6 94.5h0M93.1 90.5h0M86.5 93.3h0M91.7 96.7h0M82.1 90.1h0M80.3 85.9h0M89.7 98.5h0M91.0 89.3h0M86.4 96.1h0M85.1 86.4h0M87.3 87.4h0M86.5 99.4h0M86.6 91.3h0M93.6 93.1h0M82.2 92.9h0M86.2 88.2h0M84.4 94.4h0M88.5 85.7h0M86.9 95.0h0M85.2 88.2h0M87.2 89.1h0M94.4 97.1h0M82.3 91.7h0M84.0 87.4h0M91.7 90.1h0M84.7 90.3h0M87.8 83.3h0M83.8 93.8h0M79.3 93.6h0M89.6 91.6h0M81.8 102.7h0M94.3 92.8h0M81.9 97.8h0M90.7 88.9h0M86.6 99.3h0M90.9 86.2h0M77.8 89.5h0M90.6 95.1h0M88.6 87.1h0M91.7 87.4h0M88.8 99.6h0M85.5 86.2h0M88.1 99.2h0M85.1 95.5h0M79.4 89.3h0M88.1 97.0h0M91.6 98.4h0M81.6 93.3h0M82.1 88.8h0M90.4 86.5h0M84.8 90.0h0M85.1 97.2h0M83.6 93.6h0M89.5 93.7h0M90.7 97.8h0M81.6 96.0h0M88.6 89.8h0M90.6 95.7h0M83.9 96.3h0M86.4 98.6h0M89.3 96.3h0M86.0 88.2h0M89.0 89.6h0M86.3 90.4h0M82.3 94.3h0M88.7 95.1h0M82.0 89.9h0M98.5 92.6h0M65.0 97.4h0M92.9 93.6h0M103.5 78.5h0M100.5 69.6h0M85.8 73.8h0M87.1 79.8h0M107.1 87.8h0" stroke="#C9A031" stroke-width="1.2" stroke-linecap="round" fill="none" opacity="0.88"/>
<path d="M86.0 70.6h0M95.0 73.5h0M94.6 77.3h0M86.4 69.5h0M85.3 76.0h0M93.5 75.3h0M88.4 75.4h0M90.2 74.5h0M93.1 71.9h0M88.2 71.5h0M95.3 75.0h0M84.5 73.4h0M93.8 77.7h0M91.6 71.4h0M84.4 73.4h0M91.9 70.7h0M94.5 75.7h0M93.4 76.0h0M86.0 76.5h0M88.6 76.1h0M92.1 72.9h0M88.9 73.2h0M96.7 74.4h0M85.4 72.6h0M85.5 72.8h0M90.8 76.8h0M87.7 73.8h0M86.5 71.1h0M89.6 76.1h0M90.2 69.7h0M87.7 70.9h0M89.4 69.4h0M84.9 76.0h0M86.2 76.3h0M89.1 76.8h0M96.5 71.9h0M84.4 71.9h0M95.5 71.8h0M95.5 72.2h0M88.1 77.9h0M95.2 69.9h0M88.4 71.7h0M94.3 73.3h0M87.6 69.8h0M88.3 72.9h0M93.4 77.4h0M89.3 72.5h0M74.1 73.8h0M93.0 94.6h0M87.4 77.2h0M80.0 67.3h0M100.8 83.8h0M69.7 65.4h0M96.1 74.4h0" stroke="#9DAF2E" stroke-width="1.2" stroke-linecap="round" fill="none" opacity="0.88"/>
<path d="M96.6 85.1h0M101.5 87.9h0M92.1 86.6h0M102.1 94.9h0M99.4 91.2h0M96.0 84.0h0M90.2 87.4h0M102.1 94.7h0M101.4 90.7h0M93.7 94.4h0M101.7 88.5h0M98.3 85.3h0M98.2 95.2h0M100.4 94.1h0M101.2 94.7h0M95.5 93.6h0M92.3 94.7h0M103.6 89.2h0M93.5 84.6h0M99.2 89.8h0M100.9 95.7h0M94.9 84.3h0M95.8 88.1h0M93.1 94.2h0M94.6 89.0h0M100.6 85.3h0M91.1 91.6h0M95.3 90.9h0M96.2 86.7h0M100.4 91.0h0M94.4 91.1h0M99.8 90.0h0M102.3 91.8h0M93.9 90.2h0M95.0 84.6h0M96.5 85.6h0M96.6 85.8h0M102.4 90.2h0M91.4 87.2h0M93.5 93.1h0M99.5 93.8h0M93.4 89.9h0M90.8 91.6h0M95.2 87.6h0M93.6 84.8h0M96.7 94.4h0M102.6 89.4h0M90.8 92.6h0M97.3 94.0h0M94.1 87.6h0M90.8 87.0h0M95.0 94.6h0M91.1 87.1h0M98.8 97.3h0M97.5 88.1h0M94.8 91.0h0M93.4 93.3h0M102.7 92.4h0M95.0 93.1h0M92.0 92.9h0M98.8 89.8h0M97.1 95.0h0M95.3 88.6h0M91.7 91.7h0M103.2 93.6h0M94.1 89.7h0M103.5 86.7h0M96.9 92.5h0M99.0 87.0h0M87.6 91.8h0M95.0 84.8h0M97.2 84.0h0M100.4 93.3h0M101.4 92.1h0M97.3 95.8h0M94.2 84.9h0M100.5 93.3h0M94.0 89.4h0M96.0 89.6h0M93.2 93.5h0M99.2 88.6h0M94.4 92.5h0M104.2 89.9h0M95.3 89.9h0" stroke="#3DB23D" stroke-width="1.2" stroke-linecap="round" fill="none" opacity="0.88"/>
<path d="M95.7 61.6h0M93.8 66.0h0M91.5 60.7h0M90.3 57.6h0M88.7 57.5h0M91.4 55.5h0M96.6 60.6h0M92.6 66.2h0M90.7 58.9h0M95.9 57.5h0M92.0 60.1h0M89.0 62.7h0M95.1 56.0h0M94.5 57.6h0M83.9 61.7h0M92.9 67.6h0M88.1 65.9h0M93.8 59.5h0M88.3 56.7h0M91.9 58.6h0M94.5 65.9h0M91.2 58.4h0M93.3 66.7h0M88.1 57.2h0M87.4 63.7h0M86.6 62.8h0M87.2 63.7h0M87.7 64.7h0M96.4 65.1h0M95.8 59.7h0M90.3 62.2h0M94.3 60.1h0M87.9 56.9h0M86.0 62.5h0M91.5 64.7h0M88.5 62.9h0M92.7 55.4h0M91.9 64.8h0M92.7 55.1h0M87.4 63.1h0M86.3 61.3h0M88.0 65.1h0M95.9 59.1h0M88.8 66.1h0M87.7 59.8h0M89.0 57.4h0M97.1 56.0h0M95.8 58.4h0M88.8 62.1h0M92.4 57.3h0M96.2 63.1h0M90.9 60.8h0M90.6 58.9h0M92.7 64.3h0M86.8 62.6h0M90.7 54.4h0M94.0 64.8h0M92.7 55.5h0M95.1 60.7h0M95.6 57.9h0M96.9 62.9h0M96.3 58.2h0M90.2 58.4h0M91.8 59.3h0M93.2 66.1h0M89.0 64.0h0M90.0 56.9h0M89.1 55.0h0M88.4 56.6h0M88.0 57.8h0M89.1 57.0h0M97.6 79.1h0M109.6 82.7h0M98.0 90.4h0M75.2 75.3h0M88.4 92.6h0M101.0 77.9h0M94.9 87.1h0M86.6 64.5h0" stroke="#21B24E" stroke-width="1.2" stroke-linecap="round" fill="none" opacity="0.88"/>
<path d="M87.1 76.4h0M88.6 76.7h0M84.6 75.4h0M85.6 75.8h0M87.9 71.9h0M76.2 61.9h0M86.7 76.1h0M99.8 90.5h0M100.6 80.4h0M80.5 96.6h0M81.2 61.9h0M102.0 77.4h0M76.7 74.3h0" stroke="#12AA8A" stroke-width="1.2" stroke-linecap="round" fill="none" opacity="0.88"/>
<path d="M68.4 76.0h0M61.7 77.7h0M66.3 86.6h0M64.6 83.2h0M60.3 88.3h0M57.5 86.1h0M62.5 78.4h0M59.0 84.0h0M63.7 83.3h0M64.8 83.6h0M64.3 78.6h0M59.7 74.8h0M61.0 86.2h0M59.7 82.0h0M69.0 79.4h0M68.3 85.5h0M69.0 87.6h0M58.9 85.6h0M65.5 81.3h0M65.5 76.1h0M101.1 86.8h0M87.7 72.6h0M97.2 94.7h0M107.9 81.7h0M95.9 73.3h0M83.9 92.5h0M69.4 79.5h0" stroke="#1DB3C3" stroke-width="1.2" stroke-linecap="round" fill="none" opacity="0.88"/>
<path d="M86.1 80.0h0M82.1 80.8h0M77.9 78.5h0M86.0 76.6h0M82.0 77.0h0M84.7 77.5h0M83.8 78.1h0M92.9 78.5h0M86.6 78.9h0M83.4 81.1h0M76.7 79.3h0M88.9 75.1h0M83.1 78.9h0M80.6 79.0h0M85.6 75.8h0M83.0 79.3h0M81.5 79.8h0M76.9 79.7h0M84.9 81.5h0M91.8 77.4h0M79.2 80.5h0M92.2 77.0h0M86.4 79.3h0M92.1 75.6h0M82.2 77.0h0M89.9 79.4h0M88.5 75.7h0M82.7 69.1h0M97.0 74.9h0M94.2 64.6h0M87.9 55.2h0M83.4 69.0h0M92.5 71.3h0M78.5 92.9h0M104.1 78.9h0M82.8 67.2h0M99.6 76.2h0M107.2 81.6h0M78.1 97.0h0M87.8 88.1h0M77.7 83.3h0M98.6 81.4h0M89.3 70.2h0" stroke="#36B3E6" stroke-width="1.2" stroke-linecap="round" fill="none" opacity="0.88"/>
<path d="M67.2 88.3h0M65.3 90.4h0M63.6 94.6h0M65.1 89.4h0M67.9 95.5h0M65.4 94.0h0M66.5 88.4h0M63.8 87.9h0M65.9 90.4h0M62.4 93.6h0M63.1 94.2h0M66.3 97.5h0M63.2 95.4h0M67.2 97.0h0M68.4 96.7h0M64.6 96.8h0M63.7 95.7h0M63.7 96.0h0M66.7 94.3h0M67.2 96.0h0M63.3 95.7h0M64.7 96.7h0M64.3 95.8h0M66.1 95.5h0M67.9 96.1h0M65.2 97.8h0M67.4 97.2h0" stroke="#3478C4" stroke-width="1.2" stroke-linecap="round" fill="none" opacity="0.88"/>
<path d="M111.6 77.9h0M92.6 89.6h0M95.4 73.9h0M97.0 85.9h0M88.5 55.6h0M90.7 91.1h0M109.7 76.3h0M101.3 66.1h0M74.9 79.8h0" stroke="#9A7ED6" stroke-width="1.2" stroke-linecap="round" fill="none" opacity="0.88"/>
<path d="M116.0 88.7h0M112.3 88.7h0M116.4 86.1h0M114.9 88.1h0M115.4 87.8h0" stroke="#A345B0" stroke-width="1.2" stroke-linecap="round" fill="none" opacity="0.88"/>
<path d="M132.1 92.5h0M130.5 93.7h0" stroke="#C03A7E" stroke-width="1.2" stroke-linecap="round" fill="none" opacity="0.88"/>
<path d="M77.5 29.5h0" stroke="#C45A78" stroke-width="1.2" stroke-linecap="round" fill="none" opacity="0.88"/>
<text x="76.0" y="71.0" font-size="5" text-anchor="middle" fill="#222" fill-opacity="0.85" stroke="#222" stroke-width="0.2" stroke-opacity="0.7">0</text>
<text x="91.0" y="61.5" font-size="5" text-anchor="middle" fill="#222" fill-opacity="0.85" stroke="#222" stroke-width="0.2" stroke-opacity="0.7">5</text>
<text x="103.0" y="78.0" font-size="5" text-anchor="middle" fill="#222" fill-opacity="0.85" stroke="#222" stroke-width="0.2" stroke-opacity="0.7">1</text>
<text x="84.0" y="94.0" font-size="5" text-anchor="middle" fill="#222" fill-opacity="0.85" stroke="#222" stroke-width="0.2" stroke-opacity="0.7">2</text>
<text x="98.5" y="93.5" font-size="5" text-anchor="middle" fill="#222" fill-opacity="0.85" stroke="#222" stroke-width="0.2" stroke-opacity="0.7">4</text>
<text x="88.0" y="74.0" font-size="5" text-anchor="middle" fill="#222" fill-opacity="0.85" stroke="#222" stroke-width="0.2" stroke-opacity="0.7">3</text>
<text x="59.5" y="86.5" font-size="5" text-anchor="middle" fill="#222" fill-opacity="0.85" stroke="#222" stroke-width="0.2" stroke-opacity="0.7">7</text>
<text x="65.0" y="97.5" font-size="5" text-anchor="middle" fill="#222" fill-opacity="0.85" stroke="#222" stroke-width="0.2" stroke-opacity="0.7">9</text>
<text x="62.0" y="79.0" font-size="5" text-anchor="middle" fill="#222" fill-opacity="0.85" stroke="#222" stroke-width="0.2" stroke-opacity="0.7">6</text>
<text x="85.0" y="80.0" font-size="5" text-anchor="middle" fill="#222" fill-opacity="0.85" stroke="#222" stroke-width="0.2" stroke-opacity="0.7">8</text>
<text x="78.7" y="31.9" font-size="4.4" text-anchor="middle" fill="#3A2030" stroke="#3A2030" stroke-width="0.2">10</text>
<text x="114.5" y="89.1" font-size="4.4" text-anchor="middle" fill="#3A1850" stroke="#3A1850" stroke-width="0.2">11</text>
<text x="130.3" y="94.1" font-size="4.4" text-anchor="middle" fill="#4A1A35" stroke="#4A1A35" stroke-width="0.2">12</text>
<path d="M161.2 73.4h0M169.5 73.8h0M168.2 61.1h0M165.6 77.4h0M166.0 66.5h0M165.0 77.6h0M166.9 75.4h0M173.9 71.9h0M174.0 66.3h0M162.8 71.3h0M161.7 72.1h0M170.8 61.0h0M174.7 58.5h0M175.0 75.7h0M168.7 70.9h0M170.2 77.0h0M173.7 76.5h0M170.0 67.0h0M176.9 65.7h0M161.6 72.3h0M148.2 77.5h0M185.6 85.0h0" stroke="#EF776F" stroke-width="1.2" stroke-linecap="round" fill="none" opacity="0.88"/>
<path d="M191.6 79.2h0M191.8 79.2h0M188.6 72.6h0M191.1 76.2h0M197.6 78.7h0M197.7 77.8h0M201.6 89.1h0M194.4 79.2h0M202.4 87.8h0M199.5 86.9h0M197.0 79.3h0M190.9 74.4h0M203.5 83.6h0M185.7 71.7h0M190.5 73.4h0" stroke="#E4892A" stroke-width="1.2" stroke-linecap="round" fill="none" opacity="0.88"/>
<path d="M178.2 92.0h0M178.1 88.2h0M177.7 92.9h0M173.3 90.7h0M176.4 89.6h0M175.9 91.3h0M177.3 90.6h0M170.8 90.1h0M171.1 91.5h0M171.3 89.5h0M174.2 93.9h0M172.1 97.2h0M176.6 92.7h0M178.3 90.2h0M172.7 91.6h0M160.1 72.6h0M189.4 85.8h0" stroke="#C9A031" stroke-width="1.2" stroke-linecap="round" fill="none" opacity="0.88"/>
<path d="M178.4 64.6h0M182.4 68.4h0M178.8 69.7h0M180.7 74.3h0M183.2 64.8h0M178.2 65.1h0M182.4 73.7h0M183.0 73.3h0M183.7 71.9h0M202.9 86.9h0M159.4 67.0h0M184.9 88.8h0" stroke="#9DAF2E" stroke-width="1.2" stroke-linecap="round" fill="none" opacity="0.88"/>
<path d="M191.6 92.7h0M188.4 92.2h0M183.7 85.1h0M194.4 88.5h0M189.2 96.2h0M188.6 87.1h0M191.0 89.1h0M194.3 92.5h0M179.9 93.2h0M190.8 86.5h0M180.4 90.9h0M189.8 87.6h0M181.7 92.3h0" stroke="#3DB23D" stroke-width="1.2" stroke-linecap="round" fill="none" opacity="0.88"/>
<path d="M182.8 57.8h0M177.5 57.8h0M179.2 56.9h0M186.9 62.1h0M177.7 64.8h0M175.5 61.4h0M182.3 60.4h0M180.5 68.8h0M179.0 58.0h0M178.3 56.3h0M146.4 76.9h0M162.4 72.4h0" stroke="#21B24E" stroke-width="1.2" stroke-linecap="round" fill="none" opacity="0.88"/>
<path d="M149.0 74.0h0M149.5 76.5h0M150.2 78.3h0M147.6 74.6h0M150.9 79.9h0M151.3 79.2h0M149.4 74.2h0M152.7 75.1h0M152.9 75.2h0M153.3 74.7h0M150.9 73.5h0M150.6 73.2h0M146.8 72.5h0M146.7 75.5h0M145.7 76.0h0M149.2 71.9h0M153.5 75.0h0M151.5 78.4h0M147.9 72.8h0M153.2 76.1h0M146.8 77.5h0M146.3 75.0h0M156.2 80.6h0M153.9 80.0h0M155.3 81.5h0M178.1 57.3h0" stroke="#12AA8A" stroke-width="1.2" stroke-linecap="round" fill="none" opacity="0.88"/>
<path d="M150.2 82.2h0M146.0 86.1h0M148.7 87.0h0M147.7 86.9h0M150.6 86.2h0M148.1 79.9h0" stroke="#1DB3C3" stroke-width="1.2" stroke-linecap="round" fill="none" opacity="0.88"/>
<path d="M163.6 78.8h0M171.0 83.2h0M175.9 84.2h0M175.1 81.5h0M169.8 81.3h0M162.7 77.4h0M171.9 75.6h0M180.6 78.1h0M185.2 55.7h0M151.1 95.3h0M173.8 90.2h0" stroke="#36B3E6" stroke-width="1.2" stroke-linecap="round" fill="none" opacity="0.88"/>
<path d="M155.1 96.2h0M152.1 94.1h0M155.2 96.8h0M154.9 95.1h0M153.9 96.9h0M156.0 94.8h0" stroke="#3478C4" stroke-width="1.2" stroke-linecap="round" fill="none" opacity="0.88"/>
<path d="M168.6 71.1h0M155.7 77.0h0" stroke="#9A7ED6" stroke-width="1.2" stroke-linecap="round" fill="none" opacity="0.88"/>
<path d="M204.6 88.9h0M203.6 87.5h0M202.9 87.6h0M203.8 86.0h0M205.9 87.8h0M206.0 88.9h0" stroke="#A345B0" stroke-width="1.2" stroke-linecap="round" fill="none" opacity="0.88"/>
<path d="M218.5 91.8h0M218.5 93.9h0" stroke="#C03A7E" stroke-width="1.2" stroke-linecap="round" fill="none" opacity="0.88"/>
<path d="M170.7 30.4h0M169.3 29.4h0" stroke="#C45A78" stroke-width="1.2" stroke-linecap="round" fill="none" opacity="0.88"/>
<path d="M221.3 91.1h0" stroke="#8A8AA0" stroke-width="1.2" stroke-linecap="round" fill="none" opacity="0.88"/>
<path d="M165.8 63.3h0M166.0 74.6h0M161.8 63.1h0M174.3 70.5h0M161.1 65.6h0M172.0 75.5h0M171.4 69.3h0M163.0 63.8h0M174.9 70.5h0M160.3 67.7h0M166.2 64.7h0M163.1 67.1h0M170.2 64.6h0M164.6 63.5h0M167.3 71.6h0M169.3 71.2h0M161.7 67.9h0M157.6 75.4h0M172.2 65.2h0M159.0 69.0h0M145.7 71.9h0M178.5 55.7h0" stroke="#EF776F" stroke-width="1.2" stroke-linecap="round" fill="none" opacity="0.88"/>
<path d="M186.3 71.7h0M203.0 82.3h0M194.1 78.5h0M198.1 79.2h0M204.1 84.9h0M197.0 79.0h0M190.4 75.9h0M187.7 74.2h0M190.7 72.5h0M200.3 87.3h0M183.7 72.4h0M200.0 85.3h0M183.4 72.8h0M190.5 72.8h0M201.8 83.8h0" stroke="#E4892A" stroke-width="1.2" stroke-linecap="round" fill="none" opacity="0.88"/>
<path d="M174.3 90.3h0M175.7 82.3h0M171.6 92.7h0M175.4 83.5h0M172.8 86.1h0M176.5 88.1h0M175.1 89.2h0M174.4 89.1h0M172.5 87.7h0M177.6 92.2h0M172.0 84.3h0M172.3 93.9h0M172.3 93.4h0M176.5 87.1h0M171.5 90.8h0M187.8 86.4h0" stroke="#C9A031" stroke-width="1.2" stroke-linecap="round" fill="none" opacity="0.88"/>
<path d="M181.5 73.6h0M178.6 71.7h0M186.0 71.0h0M179.1 72.6h0M179.8 72.2h0M180.0 64.3h0M179.3 71.3h0M181.9 72.0h0M182.0 65.8h0M154.7 75.4h0M170.2 63.3h0M203.1 88.3h0" stroke="#9DAF2E" stroke-width="1.2" stroke-linecap="round" fill="none" opacity="0.88"/>
<path d="M179.7 89.8h0M194.1 87.6h0M185.2 92.5h0M187.6 85.7h0M183.7 88.9h0M192.3 94.9h0M190.0 93.4h0M193.7 94.1h0M181.0 87.7h0M182.8 85.4h0M190.6 92.5h0M195.2 90.9h0M193.2 91.9h0" stroke="#3DB23D" stroke-width="1.2" stroke-linecap="round" fill="none" opacity="0.88"/>
<path d="M183.2 63.7h0M186.3 59.5h0M182.4 62.8h0M188.6 57.8h0M175.7 54.4h0M184.8 56.2h0M177.1 59.3h0M177.4 59.2h0M179.6 54.8h0M181.6 60.6h0M170.6 76.3h0M161.8 76.6h0" stroke="#21B24E" stroke-width="1.2" stroke-linecap="round" fill="none" opacity="0.88"/>
<path d="M150.1 78.5h0M152.2 73.6h0M146.5 79.1h0M145.7 76.5h0M147.0 76.1h0M152.3 75.9h0M147.5 76.0h0M151.6 74.7h0M151.1 77.3h0M146.2 76.3h0M149.1 75.5h0M151.0 75.6h0M147.3 75.3h0M151.3 74.9h0M149.5 73.2h0M153.0 75.0h0M155.0 78.5h0M150.4 78.7h0M148.8 79.0h0M150.0 77.2h0M152.3 77.2h0M148.7 74.3h0M154.8 80.2h0M155.6 81.1h0M154.9 82.0h0M187.0 73.0h0" stroke="#12AA8A" stroke-width="1.2" stroke-linecap="round" fill="none" opacity="0.88"/>
<path d="M152.2 82.7h0M145.6 82.5h0M150.3 86.3h0M146.6 82.2h0M149.1 84.4h0M181.4 69.0h0" stroke="#1DB3C3" stroke-width="1.2" stroke-linecap="round" fill="none" opacity="0.88"/>
<path d="M174.4 78.2h0M180.7 83.4h0M172.9 83.4h0M169.6 75.2h0M170.4 82.8h0M179.9 82.7h0M179.7 79.9h0M173.5 80.9h0M147.2 79.4h0M152.3 75.6h0M170.5 75.8h0" stroke="#36B3E6" stroke-width="1.2" stroke-linecap="round" fill="none" opacity="0.88"/>
<path d="M154.9 94.1h0M153.4 93.4h0M154.7 97.5h0M156.3 93.9h0M156.0 95.9h0" stroke="#3478C4" stroke-width="1.2" stroke-linecap="round" fill="none" opacity="0.88"/>
<path d="M154.4 76.3h0" stroke="#9A7ED6" stroke-width="1.2" stroke-linecap="round" fill="none" opacity="0.88"/>
<path d="M203.6 87.4h0M203.0 87.0h0M204.2 87.7h0M202.7 88.3h0M205.1 88.5h0" stroke="#A345B0" stroke-width="1.2" stroke-linecap="round" fill="none" opacity="0.88"/>
<path d="M221.9 91.7h0M218.5 92.8h0" stroke="#C03A7E" stroke-width="1.2" stroke-linecap="round" fill="none" opacity="0.88"/>
<path d="M167.2 29.9h0" stroke="#C45A78" stroke-width="1.2" stroke-linecap="round" fill="none" opacity="0.88"/>
<path d="M220.0 91.6h0" stroke="#8A8AA0" stroke-width="1.2" stroke-linecap="round" fill="none" opacity="0.88"/>
<path d="M163.6 64.9h0M167.9 70.4h0M169.2 67.9h0M172.1 65.0h0M167.0 61.8h0M174.2 61.7h0M166.7 75.4h0M166.3 68.5h0M171.6 72.9h0M166.6 63.9h0M162.6 78.2h0M155.2 67.6h0M164.9 66.2h0M174.5 70.2h0M169.6 69.7h0M172.4 68.4h0M157.4 71.3h0M172.8 78.1h0M164.0 68.8h0M168.4 64.4h0M170.1 75.1h0" stroke="#EF776F" stroke-width="1.2" stroke-linecap="round" fill="none" opacity="0.88"/>
<path d="M187.5 77.9h0M193.2 79.8h0M203.9 85.2h0M199.7 82.9h0M190.5 76.7h0M199.2 80.0h0M193.0 75.4h0M200.8 88.1h0M195.8 76.6h0M197.8 82.1h0M196.7 84.5h0M201.2 86.2h0M189.1 78.9h0M201.1 81.3h0" stroke="#E4892A" stroke-width="1.2" stroke-linecap="round" fill="none" opacity="0.88"/>
<path d="M173.7 95.7h0M174.1 90.0h0M173.5 88.4h0M170.8 90.1h0M170.9 86.2h0M177.5 95.7h0M175.4 83.5h0M171.3 91.0h0M176.3 89.0h0M177.1 87.8h0M173.2 87.3h0M178.6 91.9h0M171.7 90.1h0M179.1 88.5h0M171.9 91.9h0M170.0 82.4h0" stroke="#C9A031" stroke-width="1.2" stroke-linecap="round" fill="none" opacity="0.88"/>
<path d="M183.2 69.0h0M178.9 71.5h0M179.3 69.2h0M177.6 70.8h0M176.8 66.7h0M180.4 67.8h0M182.1 64.4h0M177.9 67.0h0M176.1 71.3h0M185.0 58.0h0M169.6 68.0h0" stroke="#9DAF2E" stroke-width="1.2" stroke-linecap="round" fill="none" opacity="0.88"/>
<path d="M186.9 89.6h0M186.5 96.5h0M189.1 88.8h0M185.5 84.8h0M192.7 90.2h0M185.6 94.8h0M184.2 92.8h0M185.8 93.1h0M186.3 89.1h0M187.2 95.6h0M185.6 88.5h0M187.9 86.8h0" stroke="#3DB23D" stroke-width="1.2" stroke-linecap="round" fill="none" opacity="0.88"/>
<path d="M184.8 56.9h0M176.5 67.5h0M187.6 58.2h0M182.5 59.8h0M184.0 63.8h0M185.1 57.1h0M175.3 60.8h0M177.3 63.2h0M184.9 65.7h0M179.3 61.8h0M186.1 95.4h0M175.2 89.4h0" stroke="#21B24E" stroke-width="1.2" stroke-linecap="round" fill="none" opacity="0.88"/>
<path d="M150.1 76.4h0M151.5 79.9h0M147.7 75.7h0M149.5 76.7h0M150.3 77.7h0M153.9 74.2h0M151.2 75.8h0M148.4 75.8h0M154.1 75.0h0M151.0 75.5h0M152.7 79.8h0M152.8 77.9h0M153.9 76.3h0M153.4 73.9h0M152.4 75.7h0M153.0 77.3h0M148.5 79.2h0M151.0 79.0h0M151.7 74.2h0M155.1 75.2h0M153.8 76.4h0M150.6 76.4h0M156.9 81.2h0M156.0 80.2h0M178.0 57.5h0" stroke="#12AA8A" stroke-width="1.2" stroke-linecap="round" fill="none" opacity="0.88"/>
<path d="M147.2 83.2h0M145.3 84.0h0M145.9 81.5h0M148.6 85.8h0M150.6 82.9h0M195.6 89.4h0" stroke="#1DB3C3" stroke-width="1.2" stroke-linecap="round" fill="none" opacity="0.88"/>
<path d="M175.2 83.1h0M179.1 78.6h0M167.4 79.5h0M181.5 78.7h0M179.7 81.4h0M168.2 81.3h0M169.9 76.6h0M176.0 79.0h0M177.8 91.3h0M170.5 90.8h0" stroke="#36B3E6" stroke-width="1.2" stroke-linecap="round" fill="none" opacity="0.88"/>
<path d="M157.0 96.3h0M151.1 95.7h0M151.6 95.3h0M155.4 97.7h0M156.8 96.2h0" stroke="#3478C4" stroke-width="1.2" stroke-linecap="round" fill="none" opacity="0.88"/>
<path d="M164.7 66.1h0" stroke="#9A7ED6" stroke-width="1.2" stroke-linecap="round" fill="none" opacity="0.88"/>
<path d="M203.8 86.2h0M204.9 87.3h0M205.2 89.1h0M204.1 86.2h0M205.6 88.3h0" stroke="#A345B0" stroke-width="1.2" stroke-linecap="round" fill="none" opacity="0.88"/>
<path d="M221.9 93.6h0M218.6 93.1h0" stroke="#C03A7E" stroke-width="1.2" stroke-linecap="round" fill="none" opacity="0.88"/>
<path d="M167.7 29.0h0" stroke="#C45A78" stroke-width="1.2" stroke-linecap="round" fill="none" opacity="0.88"/>
<text x="166.0" y="71.0" font-size="5" text-anchor="middle" fill="#222" fill-opacity="0.85" stroke="#222" stroke-width="0.2" stroke-opacity="0.7">0</text>
<text x="181.0" y="61.5" font-size="5" text-anchor="middle" fill="#222" fill-opacity="0.85" stroke="#222" stroke-width="0.2" stroke-opacity="0.7">5</text>
<text x="193.0" y="78.0" font-size="5" text-anchor="middle" fill="#222" fill-opacity="0.85" stroke="#222" stroke-width="0.2" stroke-opacity="0.7">1</text>
<text x="174.0" y="94.0" font-size="5" text-anchor="middle" fill="#222" fill-opacity="0.85" stroke="#222" stroke-width="0.2" stroke-opacity="0.7">2</text>
<text x="188.5" y="93.5" font-size="5" text-anchor="middle" fill="#222" fill-opacity="0.85" stroke="#222" stroke-width="0.2" stroke-opacity="0.7">4</text>
<text x="178.0" y="74.0" font-size="5" text-anchor="middle" fill="#222" fill-opacity="0.85" stroke="#222" stroke-width="0.2" stroke-opacity="0.7">3</text>
<text x="149.5" y="86.5" font-size="5" text-anchor="middle" fill="#222" fill-opacity="0.85" stroke="#222" stroke-width="0.2" stroke-opacity="0.7">7</text>
<text x="155.0" y="97.5" font-size="5" text-anchor="middle" fill="#222" fill-opacity="0.85" stroke="#222" stroke-width="0.2" stroke-opacity="0.7">9</text>
<text x="152.0" y="79.0" font-size="5" text-anchor="middle" fill="#222" fill-opacity="0.85" stroke="#222" stroke-width="0.2" stroke-opacity="0.7">6</text>
<text x="175.0" y="80.0" font-size="5" text-anchor="middle" fill="#222" fill-opacity="0.85" stroke="#222" stroke-width="0.2" stroke-opacity="0.7">8</text>
<text x="168.7" y="31.9" font-size="4.4" text-anchor="middle" fill="#3A2030" stroke="#3A2030" stroke-width="0.2">10</text>
<text x="204.5" y="89.1" font-size="4.4" text-anchor="middle" fill="#3A1850" stroke="#3A1850" stroke-width="0.2">11</text>
<text x="220.3" y="94.1" font-size="4.4" text-anchor="middle" fill="#4A1A35" stroke="#4A1A35" stroke-width="0.2">12</text>
<path d="M247.7 69.7h0M259.4 75.8h0M251.8 74.3h0M248.5 72.9h0M253.6 70.0h0M249.4 67.6h0M249.0 65.6h0M256.3 72.4h0M251.4 73.0h0M258.6 69.4h0M249.5 75.1h0M256.2 69.7h0M258.2 69.1h0M257.6 63.7h0M250.8 72.9h0M247.7 70.6h0M254.6 66.3h0M251.2 65.9h0M254.5 78.8h0M261.5 74.0h0M260.1 77.0h0M251.7 68.1h0M256.7 74.7h0M260.7 69.9h0M255.9 78.0h0M260.4 66.2h0M250.1 67.3h0M249.4 65.9h0M253.8 72.1h0M250.9 65.3h0M257.2 69.8h0M261.4 69.8h0M254.2 68.6h0M254.6 71.7h0M258.2 71.9h0M258.3 70.6h0M257.4 73.5h0M255.5 68.4h0M253.7 70.1h0M260.4 67.8h0M249.6 70.9h0M258.7 63.9h0M257.3 74.7h0M259.0 71.5h0M250.6 75.8h0M258.7 74.1h0M257.3 77.6h0M259.3 75.4h0M259.6 67.6h0M252.6 74.5h0M254.8 66.0h0M257.4 69.3h0M257.4 65.6h0M260.1 71.3h0M253.5 78.4h0M256.9 74.3h0M254.6 65.1h0M252.3 65.6h0M253.5 63.2h0M256.7 72.2h0M254.5 73.5h0M250.0 74.2h0M258.1 76.5h0M253.4 68.8h0M253.0 65.8h0M250.1 71.2h0M253.1 76.9h0M256.3 72.7h0M250.0 69.0h0M250.2 67.1h0M251.7 67.1h0M256.9 65.8h0M251.9 71.0h0M257.3 68.4h0M256.8 69.8h0M251.9 72.8h0M255.0 73.5h0M253.2 58.8h0M254.2 71.9h0M253.5 67.1h0M248.7 66.2h0M246.4 73.5h0M271.2 59.5h0M259.5 71.5h0M268.4 79.4h0M253.4 72.5h0M272.8 56.3h0M256.2 81.5h0" stroke="#EF776F" stroke-width="1.2" stroke-linecap="round" fill="none" opacity="0.88"/>
<path d="M281.7 75.2h0M275.8 73.4h0M282.5 69.9h0M280.0 78.6h0M283.6 82.4h0M275.8 72.3h0M278.8 76.9h0M276.7 72.5h0M286.2 83.5h0M286.2 80.8h0M288.5 83.2h0M282.0 82.1h0M280.5 75.0h0M286.2 74.2h0M287.2 75.7h0M282.5 75.4h0M285.2 85.8h0M276.5 76.4h0M276.1 76.6h0M278.4 76.3h0M282.2 84.0h0M285.4 73.1h0M280.5 82.6h0M281.4 83.9h0M286.7 80.1h0M278.7 69.2h0M275.0 71.4h0M280.2 67.6h0M281.0 80.7h0M285.9 79.7h0M286.4 79.2h0M285.0 81.6h0M287.3 75.1h0" stroke="#E4892A" stroke-width="1.2" stroke-linecap="round" fill="none" opacity="0.88"/>
<path d="M264.0 82.0h0M257.7 83.6h0M262.7 81.7h0M259.5 88.9h0M259.2 95.9h0M260.0 89.7h0M263.1 93.4h0M262.5 97.1h0M265.5 89.3h0M265.0 89.0h0M265.9 82.9h0M256.2 89.6h0M264.8 94.0h0M262.6 93.7h0M257.6 88.6h0M259.3 97.1h0M267.0 86.3h0M263.5 85.4h0M267.1 89.7h0M262.6 84.8h0M260.9 90.0h0M259.5 89.3h0M263.9 88.8h0M256.2 86.2h0M259.1 87.5h0M257.1 89.8h0M267.0 87.2h0M259.1 84.1h0M265.9 92.8h0M260.6 81.9h0M257.4 92.6h0M258.8 97.5h0M262.5 92.8h0M258.3 96.2h0M256.9 84.4h0M267.4 92.8h0M260.7 87.6h0M262.4 95.6h0M265.3 85.3h0M263.9 87.5h0M266.2 87.9h0M266.8 96.0h0M256.7 95.6h0M266.9 93.8h0M258.7 87.1h0M264.5 96.0h0M264.9 93.8h0M259.8 89.2h0M253.7 92.2h0M260.5 94.9h0M258.5 86.4h0M261.0 94.2h0M264.1 96.1h0M268.2 89.2h0M259.7 97.8h0M256.5 88.5h0M266.4 90.7h0M257.4 85.1h0M258.8 85.8h0M261.6 90.6h0M258.9 86.1h0M261.9 87.6h0M266.8 93.9h0M266.9 95.2h0M268.3 86.5h0M256.3 83.9h0M269.9 85.9h0M256.5 92.3h0M267.0 85.3h0M261.8 84.0h0M258.8 90.6h0M260.2 87.7h0M259.5 94.1h0M261.9 82.7h0M261.1 74.7h0M247.3 76.4h0M234.2 74.7h0M266.8 61.4h0" stroke="#C9A031" stroke-width="1.2" stroke-linecap="round" fill="none" opacity="0.88"/>
<path d="M268.8 69.0h0M270.7 70.3h0M265.6 66.3h0M265.4 66.5h0M270.7 72.5h0M261.8 70.9h0M264.2 74.1h0M265.1 72.7h0M265.8 69.0h0M270.7 72.9h0M272.5 68.2h0M268.5 67.0h0M274.6 71.6h0M270.8 65.8h0M264.3 69.3h0M262.6 71.7h0M263.0 71.0h0M272.6 69.2h0M263.3 68.9h0M262.0 72.2h0M268.5 70.3h0M268.7 72.1h0M265.2 66.6h0M262.9 71.9h0M272.8 70.4h0M269.3 75.2h0M262.2 70.4h0M264.4 73.5h0M266.8 73.8h0M273.3 68.7h0M266.6 74.1h0M266.9 75.2h0M263.3 70.1h0M270.2 70.8h0M271.0 74.9h0M271.5 74.7h0M266.9 66.1h0M268.6 66.1h0M269.8 70.0h0M275.0 69.5h0M270.5 73.8h0M266.5 73.7h0M264.1 71.7h0M268.6 75.5h0M254.9 70.9h0M241.4 80.9h0M237.8 80.8h0M271.8 58.2h0M286.2 81.0h0M284.7 78.1h0" stroke="#9DAF2E" stroke-width="1.2" stroke-linecap="round" fill="none" opacity="0.88"/>
<path d="M280.5 82.1h0M284.6 89.7h0M284.6 96.6h0M272.5 86.1h0M277.8 81.9h0M287.1 91.1h0M272.5 89.1h0M277.5 88.3h0M286.3 89.7h0M273.0 85.1h0M276.5 84.1h0M283.9 93.8h0M276.0 94.8h0M276.4 85.9h0M273.6 86.1h0M281.3 90.0h0M285.4 90.6h0M284.2 85.8h0M274.6 85.8h0M274.0 92.7h0M281.0 81.4h0M280.0 90.6h0M279.5 92.0h0M279.1 91.7h0M275.5 91.2h0M278.6 85.7h0M284.0 86.3h0M272.5 86.4h0M285.4 89.0h0M281.8 88.9h0M279.7 97.2h0M281.5 85.9h0M276.1 95.2h0M284.9 88.6h0M276.2 86.7h0M285.0 84.6h0M280.4 86.9h0M269.1 87.1h0M286.8 87.4h0M283.2 89.7h0M280.4 92.8h0M273.4 88.1h0M279.4 85.3h0M279.0 93.2h0M282.6 89.5h0M276.9 83.5h0M275.1 86.2h0M279.5 83.9h0M277.0 91.5h0M274.7 92.8h0M278.6 93.2h0M276.2 90.8h0M284.1 87.2h0M283.5 87.7h0M280.9 88.8h0M279.2 91.2h0M281.5 82.3h0M279.5 83.6h0M283.1 89.4h0M279.9 83.7h0M282.1 90.4h0M282.4 82.5h0M281.9 95.6h0M282.2 93.3h0M276.5 89.7h0M285.9 93.0h0" stroke="#3DB23D" stroke-width="1.2" stroke-linecap="round" fill="none" opacity="0.88"/>
<path d="M269.5 54.7h0M266.1 56.8h0M271.2 54.7h0M269.4 58.5h0M272.8 62.1h0M265.8 62.3h0M268.2 57.8h0M270.5 55.0h0M268.4 64.1h0M265.4 57.4h0M265.6 57.9h0M272.5 55.3h0M268.1 56.9h0M272.3 61.7h0M272.6 58.2h0M272.3 58.5h0M271.6 57.4h0M266.2 56.8h0M272.5 55.4h0M265.4 59.0h0M265.7 59.6h0M271.8 58.3h0M274.3 59.1h0M267.6 60.1h0M271.0 61.0h0M272.2 61.5h0M271.5 55.5h0M266.4 57.0h0M264.0 57.9h0M267.9 59.5h0M268.5 63.3h0M266.1 63.0h0M271.0 58.6h0M265.5 62.9h0M265.9 57.2h0M268.9 61.6h0M264.8 62.3h0M270.9 64.4h0M274.9 60.0h0M269.7 54.7h0M268.3 57.9h0M265.5 61.9h0M269.2 58.6h0M265.4 62.4h0M273.5 59.3h0M266.4 61.6h0M267.5 63.0h0M269.6 55.1h0M276.7 55.0h0M234.6 81.5h0M252.4 66.6h0M248.8 72.6h0M255.5 81.4h0M285.0 78.4h0M247.4 95.8h0" stroke="#21B24E" stroke-width="1.2" stroke-linecap="round" fill="none" opacity="0.88"/>
<path d="M242.5 82.4h0M247.7 74.4h0M246.4 80.3h0M247.4 79.9h0M242.3 80.2h0M240.9 78.5h0M249.4 79.6h0M244.0 79.5h0M246.4 75.1h0M250.4 82.0h0M247.0 80.4h0M245.9 82.9h0M241.8 78.5h0M246.3 74.4h0M248.1 78.9h0M241.6 80.8h0M246.7 73.7h0M243.9 83.4h0M241.1 79.3h0M240.5 77.0h0M245.2 78.8h0M242.6 77.1h0M248.9 78.3h0M248.9 75.9h0M241.7 78.0h0M241.1 77.9h0M243.4 82.2h0M245.4 78.9h0M244.5 74.3h0M243.0 80.5h0M248.6 80.1h0M247.9 75.5h0M241.5 82.2h0M245.4 75.0h0M248.3 74.7h0M240.1 80.1h0M242.0 74.8h0M242.3 75.3h0M246.1 79.8h0M250.2 77.6h0M248.9 78.9h0M242.8 76.9h0M249.0 76.3h0M240.7 80.8h0M248.5 82.2h0M240.9 82.6h0M245.4 80.7h0M245.1 74.7h0M242.6 81.2h0M244.6 78.9h0M247.9 75.0h0M244.0 76.6h0M279.2 78.0h0M253.7 78.0h0M253.2 77.2h0M259.8 82.9h0M259.7 81.8h0" stroke="#12AA8A" stroke-width="1.2" stroke-linecap="round" fill="none" opacity="0.88"/>
<path d="M236.3 85.6h0M236.5 78.9h0M233.4 81.7h0M236.9 85.3h0M243.8 77.3h0M239.4 81.3h0M233.8 77.8h0M240.8 79.4h0M238.4 76.4h0M239.0 78.0h0M239.4 73.5h0M239.9 80.0h0M237.8 77.4h0M240.8 77.5h0M238.0 75.0h0M236.8 84.8h0M242.3 75.0h0M240.1 75.3h0M244.0 81.7h0M240.1 82.0h0M238.3 73.6h0M237.8 75.6h0M243.4 75.7h0M235.8 80.4h0M234.5 83.1h0M234.6 84.0h0M239.6 84.8h0M241.7 83.5h0M241.4 78.9h0M239.1 82.3h0M236.4 80.5h0M239.1 81.4h0M235.5 77.7h0M238.3 86.9h0M234.8 80.9h0M234.0 82.0h0M234.5 75.5h0M239.5 73.3h0M241.7 81.4h0M236.4 83.1h0M241.3 81.2h0M236.3 75.3h0M237.3 73.6h0M238.3 79.1h0M237.0 83.4h0M233.9 81.0h0M238.2 76.2h0M242.3 77.2h0M282.2 75.5h0M264.6 93.1h0M282.1 83.6h0M270.0 76.8h0M242.9 74.4h0" stroke="#1DB3C3" stroke-width="1.2" stroke-linecap="round" fill="none" opacity="0.88"/>
<path d="M270.7 80.3h0M267.0 77.1h0M263.7 79.3h0M263.4 79.5h0M264.8 78.7h0M269.7 77.1h0M269.8 77.8h0M269.1 80.3h0M266.4 77.4h0M268.1 79.1h0M264.6 76.6h0M269.5 80.6h0M262.7 80.5h0M271.2 79.6h0M267.6 77.5h0M265.0 76.9h0M270.2 77.2h0M266.5 70.0h0M260.0 84.7h0M269.1 83.6h0M268.4 80.5h0M265.3 63.0h0M251.4 67.3h0M261.6 94.6h0M254.0 74.9h0M269.3 85.5h0M248.0 65.3h0M263.8 85.2h0M237.7 85.0h0" stroke="#36B3E6" stroke-width="1.2" stroke-linecap="round" fill="none" opacity="0.88"/>
<path d="M244.6 92.7h0M242.0 96.5h0M245.0 96.7h0M245.4 91.4h0M243.4 92.0h0M241.6 94.6h0M243.4 90.0h0M242.6 94.3h0M243.1 93.5h0M243.4 99.3h0M243.8 96.2h0" stroke="#3478C4" stroke-width="1.2" stroke-linecap="round" fill="none" opacity="0.88"/>
<path d="M245.4 79.3h0M265.3 67.8h0M272.8 89.3h0M285.4 91.8h0M241.7 77.6h0M285.9 73.5h0" stroke="#9A7ED6" stroke-width="1.2" stroke-linecap="round" fill="none" opacity="0.88"/>
<path d="M295.7 86.7h0M295.8 86.6h0M296.1 86.2h0M292.6 88.8h0M294.9 86.8h0M294.7 86.9h0" stroke="#A345B0" stroke-width="1.2" stroke-linecap="round" fill="none" opacity="0.88"/>
<path d="M309.3 94.0h0M309.6 94.2h0" stroke="#C03A7E" stroke-width="1.2" stroke-linecap="round" fill="none" opacity="0.88"/>
<path d="M257.6 31.6h0M258.8 30.7h0" stroke="#C45A78" stroke-width="1.2" stroke-linecap="round" fill="none" opacity="0.88"/>
<path d="M308.6 93.2h0" stroke="#8A8AA0" stroke-width="1.2" stroke-linecap="round" fill="none" opacity="0.88"/>
<path d="M260.4 70.2h0M249.8 66.5h0M246.7 65.5h0M252.4 66.8h0M250.8 70.2h0M248.6 69.8h0M251.0 66.3h0M249.3 66.3h0M261.8 69.7h0M254.7 66.3h0M258.3 75.9h0M259.5 71.8h0M253.0 75.6h0M252.3 61.9h0M252.0 74.3h0M255.8 77.4h0M249.2 74.8h0M251.1 64.4h0M254.5 67.9h0M252.4 78.9h0M250.5 75.4h0M248.9 68.5h0M259.5 65.0h0M247.8 70.4h0M249.0 69.6h0M259.9 74.2h0M258.2 75.4h0M252.5 78.0h0M253.7 62.2h0M248.7 69.0h0M254.6 66.6h0M255.2 76.7h0M249.8 65.6h0M254.8 76.4h0M257.9 74.2h0M254.9 72.3h0M260.3 74.9h0M254.1 69.0h0M252.2 74.7h0M255.5 78.5h0M259.9 66.4h0M254.5 75.6h0M261.1 67.8h0M253.2 66.8h0M249.4 66.0h0M252.9 63.1h0M252.6 73.4h0M254.8 63.4h0M251.7 74.4h0M250.5 80.3h0M250.5 72.2h0M248.3 72.9h0M259.2 68.4h0M255.4 72.2h0M253.8 65.4h0M249.6 71.5h0M253.5 64.1h0M254.3 74.0h0M259.6 76.3h0M260.2 66.4h0M258.5 69.3h0M255.5 76.6h0M252.7 71.7h0M258.8 71.2h0M254.3 69.4h0M258.3 73.0h0M253.5 73.8h0M252.0 77.7h0M252.4 66.5h0M259.5 74.9h0M250.6 67.0h0M260.3 70.0h0M260.3 73.3h0M257.5 71.1h0M258.2 72.9h0M253.5 62.8h0M254.4 67.6h0M251.0 77.2h0M260.8 70.6h0M249.3 73.6h0M256.3 66.7h0M269.1 81.1h0M266.2 90.0h0M256.5 78.5h0M244.8 97.6h0M277.5 77.4h0M270.1 58.1h0M259.7 92.9h0" stroke="#EF776F" stroke-width="1.2" stroke-linecap="round" fill="none" opacity="0.88"/>
<path d="M285.2 78.1h0M280.5 79.4h0M280.4 81.5h0M274.9 73.7h0M285.3 79.2h0M291.2 80.0h0M283.7 75.4h0M282.5 74.1h0M285.8 84.9h0M286.0 76.3h0M278.9 77.7h0M279.9 82.2h0M278.1 79.5h0M286.2 79.1h0M282.6 84.8h0M282.4 70.8h0M281.6 73.7h0M278.6 69.8h0M284.0 75.8h0M283.5 86.3h0M281.0 70.4h0M291.2 80.7h0M279.9 71.6h0M280.4 72.9h0M284.8 72.9h0M274.6 73.0h0M287.2 76.2h0M286.8 82.8h0M274.4 74.9h0M287.6 80.5h0M285.4 74.8h0M275.5 74.7h0M280.7 80.1h0" stroke="#E4892A" stroke-width="1.2" stroke-linecap="round" fill="none" opacity="0.88"/>
<path d="M261.0 90.5h0M268.0 93.2h0M269.8 89.2h0M261.9 82.5h0M266.6 87.5h0M264.6 83.6h0M265.1 84.0h0M259.6 93.0h0M263.4 86.1h0M258.5 87.0h0M268.3 87.2h0M260.6 83.7h0M266.7 94.2h0M269.9 85.9h0M266.4 84.9h0M264.2 91.2h0M263.6 94.7h0M268.0 92.4h0M254.2 86.2h0M260.6 83.9h0M260.4 95.3h0M264.9 94.6h0M259.4 82.2h0M265.3 92.6h0M260.1 93.2h0M254.2 87.1h0M259.7 84.6h0M257.9 81.9h0M269.1 87.0h0M258.7 93.8h0M262.8 86.8h0M261.2 86.5h0M258.3 83.0h0M261.3 95.3h0M265.9 92.0h0M262.3 89.2h0M256.8 90.9h0M256.9 81.4h0M269.3 86.5h0M261.9 93.6h0M258.4 92.4h0M256.3 91.1h0M262.6 84.4h0M266.4 85.6h0M267.0 84.1h0M266.4 88.8h0M261.8 79.4h0M260.2 81.3h0M261.3 90.7h0M263.3 90.4h0M260.9 90.1h0M263.5 83.7h0M263.8 86.7h0M269.8 85.3h0M258.4 88.6h0M259.2 81.3h0M266.7 86.8h0M261.8 82.5h0M262.2 90.6h0M257.3 87.5h0M264.6 95.5h0M264.8 85.7h0M262.9 89.4h0M264.8 93.1h0M263.1 87.3h0M264.6 86.8h0M263.4 89.1h0M256.6 82.5h0M262.4 93.8h0M255.6 80.6h0M267.8 84.7h0M266.9 84.9h0M267.8 83.0h0M240.0 82.1h0M244.1 77.3h0M278.3 87.9h0M236.1 78.4h0M258.3 77.9h0" stroke="#C9A031" stroke-width="1.2" stroke-linecap="round" fill="none" opacity="0.88"/>
<path d="M271.9 69.8h0M261.3 74.1h0M269.9 72.4h0M261.5 66.6h0M269.1 70.0h0M264.9 67.9h0M264.5 71.9h0M261.1 70.7h0M272.9 74.7h0M267.6 73.6h0M270.1 75.8h0M268.7 74.2h0M268.6 73.2h0M268.3 69.5h0M265.2 76.0h0M260.8 72.5h0M264.6 74.6h0M266.8 72.5h0M271.2 74.0h0M273.7 72.1h0M269.0 68.8h0M267.3 69.3h0M265.1 68.6h0M264.3 71.4h0M270.4 75.7h0M264.4 69.0h0M276.2 73.8h0M265.0 70.0h0M273.1 71.8h0M267.5 67.3h0M270.7 71.7h0M270.7 76.3h0M266.1 73.3h0M264.3 72.3h0M262.0 67.6h0M268.2 70.3h0M267.9 69.3h0M268.5 72.7h0M260.9 69.7h0M268.7 71.6h0M265.7 76.3h0M262.9 75.7h0M272.7 70.2h0M263.3 75.9h0M283.4 72.2h0M256.7 70.5h0M233.6 76.2h0M252.3 65.5h0M265.0 74.7h0" stroke="#9DAF2E" stroke-width="1.2" stroke-linecap="round" fill="none" opacity="0.88"/>
<path d="M276.4 92.3h0M283.8 84.2h0M275.0 85.8h0M278.0 94.3h0M273.1 91.0h0M273.3 94.9h0M282.5 93.8h0M274.0 89.2h0M274.8 87.3h0M282.3 91.9h0M275.7 92.8h0M280.6 90.3h0M271.3 86.8h0M281.4 89.1h0M273.9 85.8h0M278.8 88.8h0M274.6 85.5h0M269.3 88.6h0M269.7 88.8h0M281.4 87.7h0M275.9 88.3h0M276.5 83.4h0M277.9 88.4h0M276.8 86.0h0M279.5 91.2h0M277.1 92.6h0M282.9 84.3h0M280.6 87.1h0M270.5 90.2h0M270.9 87.8h0M267.9 90.2h0M277.1 91.6h0M276.0 86.7h0M278.7 83.1h0M280.2 89.9h0M277.8 85.2h0M273.8 95.1h0M271.5 92.8h0M283.9 88.8h0M271.8 89.5h0M278.4 92.3h0M272.4 88.3h0M276.2 94.7h0M277.2 92.1h0M276.2 95.2h0M272.3 87.9h0M281.1 88.2h0M280.2 94.4h0M276.2 84.6h0M279.0 85.7h0M277.9 83.7h0M278.8 87.6h0M281.6 89.1h0M270.1 86.0h0M280.9 84.1h0M277.9 92.7h0M273.7 91.1h0M278.3 86.1h0M282.8 92.5h0M281.2 86.8h0M276.0 88.1h0M277.2 95.8h0M268.4 86.3h0M272.8 86.7h0M278.9 82.1h0M270.5 84.9h0" stroke="#3DB23D" stroke-width="1.2" stroke-linecap="round" fill="none" opacity="0.88"/>
<path d="M274.5 56.5h0M273.2 59.7h0M272.1 61.2h0M268.1 55.3h0M274.5 58.1h0M271.9 61.3h0M268.4 57.6h0M265.5 57.8h0M270.5 56.9h0M270.5 58.5h0M269.0 59.5h0M273.2 61.2h0M270.2 61.1h0M269.1 61.9h0M277.0 58.8h0M273.3 52.8h0M270.6 50.6h0M268.8 54.7h0M276.9 55.7h0M266.9 57.1h0M270.7 62.6h0M276.8 60.1h0M272.3 59.4h0M272.6 56.8h0M269.6 56.5h0M269.7 62.2h0M272.2 57.7h0M275.3 61.7h0M273.0 56.4h0M273.2 62.7h0M264.6 57.6h0M270.6 63.0h0M274.2 62.1h0M273.5 56.0h0M271.4 58.9h0M273.3 54.2h0M276.0 59.1h0M275.5 56.0h0M275.0 59.3h0M268.7 61.2h0M270.7 62.1h0M274.4 57.1h0M272.6 59.7h0M273.8 53.3h0M272.9 52.8h0M273.9 60.1h0M267.7 55.4h0M268.8 57.7h0M247.0 80.1h0M243.8 74.2h0M246.3 79.3h0M244.7 75.4h0M272.7 59.7h0M273.4 51.5h0" stroke="#21B24E" stroke-width="1.2" stroke-linecap="round" fill="none" opacity="0.88"/>
<path d="M249.0 76.8h0M250.7 80.5h0M247.7 74.7h0M246.7 76.9h0M253.2 76.8h0M244.1 74.2h0M251.5 82.0h0M248.8 72.6h0M247.8 81.7h0M243.5 74.7h0M243.1 80.2h0M244.4 81.9h0M242.6 79.7h0M242.5 74.1h0M250.1 80.5h0M245.5 74.0h0M245.4 79.4h0M243.9 79.3h0M247.4 81.7h0M245.3 72.3h0M241.9 76.7h0M247.3 77.7h0M251.5 76.0h0M243.6 78.6h0M250.0 75.4h0M245.1 78.5h0M251.4 78.7h0M245.2 75.2h0M241.7 75.8h0M249.4 76.3h0M246.4 82.0h0M243.0 78.8h0M243.2 74.4h0M242.9 77.1h0M244.7 74.7h0M246.6 76.6h0M245.9 82.2h0M242.4 76.3h0M242.4 76.0h0M249.6 78.9h0M248.5 81.7h0M247.2 79.7h0M244.2 78.3h0M249.4 82.7h0M247.7 76.4h0M244.9 73.1h0M240.8 77.0h0M247.1 80.4h0M248.9 81.0h0M246.2 81.5h0M248.5 79.0h0M264.5 95.5h0M259.7 65.8h0M270.7 75.0h0M263.7 80.0h0M274.1 58.8h0M235.4 83.8h0" stroke="#12AA8A" stroke-width="1.2" stroke-linecap="round" fill="none" opacity="0.88"/>
<path d="M240.8 85.4h0M241.3 83.4h0M232.6 85.0h0M241.8 84.0h0M234.5 88.7h0M234.4 78.2h0M239.2 85.6h0M239.0 80.7h0M231.8 86.8h0M233.0 83.5h0M234.7 88.6h0M236.3 77.2h0M240.0 83.2h0M233.9 88.7h0M238.6 84.3h0M238.8 89.3h0M233.6 85.6h0M240.0 85.0h0M235.1 81.6h0M231.6 84.8h0M238.5 77.3h0M234.8 87.0h0M233.8 88.6h0M234.6 81.5h0M241.4 81.7h0M242.1 84.1h0M235.0 85.4h0M231.1 81.4h0M234.0 84.8h0M233.9 79.2h0M239.4 85.4h0M236.3 87.2h0M233.5 83.7h0M236.2 84.4h0M233.5 81.0h0M236.9 81.1h0M231.8 85.5h0M235.5 78.4h0M233.8 82.4h0M237.8 91.6h0M240.6 82.9h0M236.7 83.6h0M236.2 81.7h0M231.9 86.0h0M241.3 84.2h0M234.2 76.9h0M233.9 83.1h0M234.0 85.0h0M260.6 76.0h0M253.0 69.0h0M234.5 85.6h0M255.3 95.3h0M231.7 85.5h0" stroke="#1DB3C3" stroke-width="1.2" stroke-linecap="round" fill="none" opacity="0.88"/>
<path d="M271.1 79.4h0M263.0 76.8h0M267.7 79.5h0M267.9 79.3h0M265.8 78.0h0M265.6 75.3h0M266.5 76.1h0M268.4 79.4h0M266.7 78.8h0M266.9 79.6h0M264.1 79.8h0M270.4 77.9h0M264.4 79.5h0M265.5 80.1h0M270.8 78.0h0M268.6 77.1h0M238.8 79.5h0M273.7 51.6h0M249.7 76.7h0M245.2 82.6h0M263.4 93.7h0M247.2 94.8h0M255.3 79.0h0M286.5 87.5h0M260.9 67.0h0M274.8 74.5h0M260.0 92.8h0M287.2 80.1h0M256.3 74.7h0" stroke="#36B3E6" stroke-width="1.2" stroke-linecap="round" fill="none" opacity="0.88"/>
<path d="M247.0 91.3h0M247.2 92.2h0M247.0 93.5h0M240.0 91.3h0M246.1 95.0h0M240.3 94.6h0M240.4 93.4h0M243.8 98.1h0M246.4 94.9h0M246.9 93.7h0M241.3 94.6h0" stroke="#3478C4" stroke-width="1.2" stroke-linecap="round" fill="none" opacity="0.88"/>
<path d="M265.5 83.7h0M255.9 64.1h0M235.5 84.1h0M241.5 79.3h0M259.0 71.0h0M235.6 81.6h0" stroke="#9A7ED6" stroke-width="1.2" stroke-linecap="round" fill="none" opacity="0.88"/>
<path d="M292.5 88.6h0M296.2 88.0h0M293.0 87.8h0M292.6 88.8h0M293.7 86.8h0" stroke="#A345B0" stroke-width="1.2" stroke-linecap="round" fill="none" opacity="0.88"/>
<path d="M309.9 91.8h0M309.4 91.1h0" stroke="#C03A7E" stroke-width="1.2" stroke-linecap="round" fill="none" opacity="0.88"/>
<path d="M258.5 31.3h0" stroke="#C45A78" stroke-width="1.2" stroke-linecap="round" fill="none" opacity="0.88"/>
<path d="M309.7 93.3h0" stroke="#8A8AA0" stroke-width="1.2" stroke-linecap="round" fill="none" opacity="0.88"/>
<path d="M262.7 69.1h0M255.3 78.4h0M261.7 76.4h0M255.3 63.5h0M263.5 69.7h0M263.4 62.2h0M254.7 70.8h0M257.0 64.7h0M259.7 76.4h0M258.1 76.5h0M255.7 64.2h0M253.0 73.3h0M254.9 76.0h0M252.4 72.5h0M254.2 77.9h0M259.2 65.5h0M257.3 70.3h0M258.4 63.0h0M260.2 71.2h0M262.7 64.5h0M255.3 63.5h0M249.3 71.8h0M259.5 69.9h0M260.2 71.0h0M258.7 71.7h0M261.0 63.2h0M256.2 79.7h0M255.6 75.4h0M258.6 68.8h0M261.5 64.8h0M261.9 75.5h0M258.8 76.1h0M255.1 69.5h0M256.7 69.0h0M254.9 69.0h0M260.3 69.3h0M261.1 69.4h0M261.1 70.6h0M255.3 73.7h0M261.8 67.4h0M263.6 70.5h0M248.3 68.5h0M257.2 62.7h0M258.9 69.2h0M257.9 66.3h0M258.6 75.4h0M250.8 74.4h0M252.5 77.0h0M257.6 66.7h0M257.3 66.5h0M253.0 67.5h0M255.0 77.0h0M257.4 70.6h0M263.9 70.2h0M255.2 70.1h0M256.5 71.1h0M260.2 71.8h0M259.6 71.6h0M253.1 63.2h0M254.9 71.1h0M252.1 70.8h0M260.9 76.3h0M255.8 61.9h0M255.2 62.6h0M257.1 65.0h0M256.7 73.6h0M258.7 69.5h0M255.7 67.5h0M256.2 69.5h0M254.6 75.4h0M255.1 72.8h0M249.9 71.2h0M251.1 71.5h0M255.1 77.9h0M251.9 66.5h0M258.9 64.1h0M252.4 75.9h0M259.2 74.2h0M259.0 63.0h0M255.3 65.9h0M256.8 61.0h0M255.5 68.6h0M257.9 88.5h0M270.7 58.3h0M279.5 88.4h0M276.9 58.4h0M249.4 83.5h0M242.7 76.0h0" stroke="#EF776F" stroke-width="1.2" stroke-linecap="round" fill="none" opacity="0.88"/>
<path d="M279.4 73.3h0M278.9 75.7h0M280.3 70.9h0M280.4 72.2h0M282.3 75.9h0M280.1 83.2h0M280.7 73.9h0M288.6 78.0h0M283.5 77.3h0M279.7 74.9h0M278.1 77.4h0M279.6 75.7h0M279.9 67.4h0M277.6 75.5h0M274.8 71.5h0M273.9 75.2h0M278.6 74.5h0M282.9 77.2h0M283.2 82.0h0M286.4 83.0h0M279.9 74.4h0M282.4 70.2h0M285.7 84.9h0M278.6 71.5h0M281.0 76.1h0M281.4 77.4h0M288.0 76.6h0M280.9 72.3h0M280.9 74.8h0M284.4 79.6h0M279.4 71.2h0M282.2 78.9h0M285.3 73.9h0" stroke="#E4892A" stroke-width="1.2" stroke-linecap="round" fill="none" opacity="0.88"/>
<path d="M263.6 95.7h0M268.3 92.8h0M267.8 86.7h0M261.4 84.2h0M264.7 92.4h0M269.4 91.0h0M256.7 88.3h0M261.2 86.1h0M264.4 86.6h0M257.6 88.8h0M265.9 90.5h0M256.4 88.2h0M267.1 91.2h0M256.8 88.4h0M261.6 93.4h0M257.1 85.4h0M261.0 83.7h0M259.2 90.1h0M260.8 88.3h0M259.6 95.9h0M266.4 95.6h0M260.7 90.4h0M257.1 92.8h0M261.5 85.0h0M259.8 81.7h0M260.7 93.8h0M258.9 91.3h0M267.4 89.2h0M263.9 83.0h0M267.4 91.1h0M260.2 92.0h0M258.4 88.6h0M260.2 88.4h0M256.5 82.4h0M267.9 96.4h0M266.2 94.1h0M264.5 88.4h0M261.0 95.4h0M261.8 94.7h0M264.6 96.3h0M266.6 89.0h0M258.5 92.0h0M263.0 91.2h0M262.6 86.9h0M260.9 80.7h0M264.6 90.3h0M266.4 87.3h0M263.7 85.5h0M264.4 91.2h0M263.2 92.9h0M262.5 84.9h0M259.9 86.7h0M267.9 92.1h0M266.7 87.9h0M254.2 91.6h0M261.1 88.9h0M262.8 96.9h0M263.9 94.6h0M263.7 93.7h0M262.2 91.1h0M263.0 92.3h0M258.9 88.1h0M266.9 95.7h0M257.1 88.5h0M263.5 82.8h0M270.4 96.2h0M266.7 91.4h0M259.0 85.7h0M263.1 89.7h0M266.7 83.1h0M260.2 87.9h0M263.4 81.0h0M261.3 83.2h0M246.3 69.4h0M238.7 82.5h0M272.2 68.6h0M276.8 89.8h0M254.6 91.8h0" stroke="#C9A031" stroke-width="1.2" stroke-linecap="round" fill="none" opacity="0.88"/>
<path d="M263.2 69.2h0M271.9 68.5h0M272.8 68.4h0M265.5 75.2h0M275.4 71.9h0M274.5 69.7h0M271.0 77.5h0M265.1 69.8h0M274.5 70.0h0M270.3 73.5h0M265.1 68.3h0M271.2 72.1h0M269.6 69.0h0M265.0 67.8h0M267.7 68.2h0M266.7 72.1h0M265.5 72.3h0M261.2 71.3h0M268.2 66.6h0M273.0 71.7h0M267.7 66.9h0M274.3 76.0h0M268.8 74.8h0M265.0 67.7h0M272.1 73.2h0M269.1 76.6h0M266.2 68.2h0M274.0 70.8h0M265.8 71.8h0M273.0 72.8h0M269.0 76.0h0M274.2 73.0h0M273.5 68.9h0M271.0 67.1h0M274.1 70.7h0M271.2 67.0h0M272.0 73.7h0M262.5 73.5h0M268.4 68.0h0M262.5 70.2h0M269.5 74.8h0M265.7 66.7h0M268.5 76.2h0M261.6 72.5h0M271.3 78.5h0M242.7 82.6h0M281.7 88.7h0M244.5 80.6h0M250.1 76.9h0" stroke="#9DAF2E" stroke-width="1.2" stroke-linecap="round" fill="none" opacity="0.88"/>
<path d="M271.9 91.2h0M278.3 96.3h0M277.3 94.0h0M287.1 87.8h0M274.8 93.7h0M287.2 93.6h0M281.3 85.5h0M282.3 93.0h0M278.7 89.6h0M278.4 85.1h0M279.0 91.6h0M272.7 87.9h0M273.9 94.1h0M281.6 87.3h0M279.6 89.9h0M281.2 95.0h0M286.1 91.1h0M275.4 91.5h0M284.5 90.0h0M281.8 93.9h0M277.6 96.7h0M280.8 94.0h0M273.0 93.7h0M283.5 92.3h0M278.5 94.8h0M283.6 87.7h0M285.3 92.8h0M283.7 89.0h0M278.3 92.6h0M271.1 88.1h0M283.4 93.9h0M281.4 87.6h0M284.3 89.8h0M277.7 88.4h0M280.4 86.8h0M276.7 90.8h0M276.3 85.7h0M279.5 96.1h0M274.2 86.6h0M276.4 95.7h0M281.5 85.9h0M284.6 91.7h0M281.9 95.2h0M281.5 95.6h0M281.6 90.9h0M275.4 84.9h0M282.3 97.8h0M278.6 87.0h0M274.4 91.7h0M273.6 96.2h0M285.7 88.4h0M277.6 88.3h0M279.7 87.0h0M286.9 89.1h0M287.0 89.4h0M286.1 92.7h0M273.4 89.5h0M273.8 90.4h0M285.0 89.2h0M273.1 88.1h0M281.5 96.8h0M277.5 96.8h0M277.9 86.4h0M275.2 92.8h0M276.5 96.5h0M276.0 98.5h0" stroke="#3DB23D" stroke-width="1.2" stroke-linecap="round" fill="none" opacity="0.88"/>
<path d="M269.2 63.7h0M267.3 61.2h0M272.9 64.5h0M273.9 58.2h0M272.7 58.7h0M277.0 57.9h0M275.3 63.0h0M277.4 59.5h0M274.6 64.9h0M268.1 62.2h0M273.8 62.0h0M271.9 61.7h0M271.2 64.6h0M275.0 61.7h0M267.2 61.6h0M267.3 59.0h0M276.1 62.8h0M267.6 58.3h0M269.1 57.0h0M269.6 57.1h0M277.2 58.7h0M276.8 59.0h0M279.4 57.1h0M273.6 57.8h0M271.9 58.8h0M274.6 57.8h0M276.8 63.6h0M277.6 58.9h0M273.2 60.8h0M276.5 62.3h0M271.3 64.0h0M270.8 59.5h0M270.8 64.5h0M273.2 59.8h0M273.6 59.8h0M275.2 61.7h0M267.5 60.7h0M273.1 60.9h0M277.9 59.4h0M276.3 63.0h0M268.3 62.1h0M270.4 63.5h0M268.7 63.0h0M269.5 58.4h0M267.7 60.3h0M275.4 60.1h0M268.8 62.9h0M249.0 66.7h0M264.1 61.8h0M266.4 78.0h0M243.1 84.6h0M253.4 75.1h0M265.9 68.2h0M268.3 76.7h0" stroke="#21B24E" stroke-width="1.2" stroke-linecap="round" fill="none" opacity="0.88"/>
<path d="M240.9 76.7h0M243.4 77.1h0M245.7 74.2h0M244.2 73.3h0M243.6 79.2h0M248.5 80.9h0M245.7 78.6h0M244.0 75.0h0M241.9 75.2h0M247.0 71.9h0M241.1 76.3h0M246.0 80.8h0M246.6 73.8h0M245.5 74.2h0M245.6 81.6h0M250.4 79.2h0M240.9 78.1h0M250.4 77.8h0M243.9 75.3h0M249.4 73.8h0M246.1 73.4h0M247.5 80.9h0M241.7 73.8h0M243.6 73.8h0M246.2 78.0h0M243.4 79.9h0M241.7 79.6h0M246.5 80.9h0M250.5 75.5h0M247.0 77.9h0M250.8 78.0h0M242.7 76.6h0M245.9 80.1h0M247.5 76.8h0M245.2 76.0h0M250.5 78.1h0M247.3 72.5h0M251.6 79.6h0M250.5 76.6h0M241.8 78.9h0M244.5 74.6h0M243.5 81.1h0M247.7 72.3h0M250.0 74.9h0M246.5 79.5h0M249.2 79.5h0M245.7 80.1h0M248.7 80.9h0M241.4 76.5h0M246.7 72.3h0M244.8 72.8h0M245.8 77.8h0M248.9 81.0h0M273.8 60.4h0M272.8 96.0h0M259.9 70.7h0" stroke="#12AA8A" stroke-width="1.2" stroke-linecap="round" fill="none" opacity="0.88"/>
<path d="M235.3 76.1h0M242.3 84.9h0M234.7 83.5h0M240.8 82.7h0M236.4 81.7h0M236.3 86.6h0M242.7 78.1h0M244.7 79.1h0M236.3 77.8h0M237.0 82.0h0M242.8 82.0h0M243.6 81.0h0M239.8 79.8h0M235.7 75.1h0M236.1 85.5h0M236.3 75.3h0M236.4 75.2h0M233.2 80.6h0M234.3 79.1h0M238.3 81.5h0M241.5 82.1h0M241.1 83.6h0M235.3 85.1h0M236.6 80.0h0M241.1 78.1h0M241.5 85.8h0M237.0 87.3h0M234.8 81.3h0M239.4 80.5h0M241.1 87.2h0M238.8 86.4h0M240.4 86.6h0M238.0 80.0h0M245.1 76.3h0M234.5 81.4h0M242.4 82.0h0M235.4 76.8h0M239.1 75.4h0M238.8 74.6h0M242.8 77.8h0M234.2 75.2h0M242.2 89.4h0M241.3 85.0h0M243.3 76.8h0M240.9 85.6h0M240.0 81.6h0M239.5 83.8h0M268.8 72.7h0M281.7 87.2h0M285.9 86.1h0M260.6 76.0h0M245.0 79.5h0" stroke="#1DB3C3" stroke-width="1.2" stroke-linecap="round" fill="none" opacity="0.88"/>
<path d="M268.9 80.1h0M262.4 80.4h0M263.9 77.8h0M262.1 79.4h0M265.3 80.1h0M265.1 75.7h0M264.0 77.8h0M269.6 79.4h0M265.0 79.6h0M267.0 78.8h0M262.7 77.9h0M265.9 80.3h0M259.9 79.1h0M266.2 79.7h0M269.0 78.7h0M264.1 78.6h0M238.6 87.0h0M285.9 74.1h0M237.2 78.2h0M259.6 80.8h0M269.4 52.0h0M247.1 74.1h0M252.0 68.2h0M278.0 84.6h0M249.6 75.0h0M249.2 74.0h0M243.3 92.6h0M251.8 63.0h0" stroke="#36B3E6" stroke-width="1.2" stroke-linecap="round" fill="none" opacity="0.88"/>
<path d="M244.4 93.5h0M242.9 92.5h0M246.5 96.2h0M243.2 96.7h0M243.2 95.6h0M245.5 97.4h0M244.4 91.2h0M244.9 97.5h0M243.5 94.3h0M244.7 90.9h0M244.6 95.9h0" stroke="#3478C4" stroke-width="1.2" stroke-linecap="round" fill="none" opacity="0.88"/>
<path d="M286.2 84.7h0M248.8 70.6h0M281.1 75.1h0M274.7 59.7h0M272.1 58.6h0M282.6 58.1h0" stroke="#9A7ED6" stroke-width="1.2" stroke-linecap="round" fill="none" opacity="0.88"/>
<path d="M295.4 88.4h0M296.5 87.8h0M295.2 87.2h0M293.3 88.3h0M294.6 86.9h0" stroke="#A345B0" stroke-width="1.2" stroke-linecap="round" fill="none" opacity="0.88"/>
<path d="M311.3 93.9h0M308.1 92.7h0" stroke="#C03A7E" stroke-width="1.2" stroke-linecap="round" fill="none" opacity="0.88"/>
<path d="M259.7 31.9h0" stroke="#C45A78" stroke-width="1.2" stroke-linecap="round" fill="none" opacity="0.88"/>
<text x="256.0" y="71.0" font-size="5" text-anchor="middle" fill="#222" fill-opacity="0.85" stroke="#222" stroke-width="0.2" stroke-opacity="0.7">0</text>
<text x="271.0" y="61.5" font-size="5" text-anchor="middle" fill="#222" fill-opacity="0.85" stroke="#222" stroke-width="0.2" stroke-opacity="0.7">5</text>
<text x="283.0" y="78.0" font-size="5" text-anchor="middle" fill="#222" fill-opacity="0.85" stroke="#222" stroke-width="0.2" stroke-opacity="0.7">1</text>
<text x="264.0" y="94.0" font-size="5" text-anchor="middle" fill="#222" fill-opacity="0.85" stroke="#222" stroke-width="0.2" stroke-opacity="0.7">2</text>
<text x="278.5" y="93.5" font-size="5" text-anchor="middle" fill="#222" fill-opacity="0.85" stroke="#222" stroke-width="0.2" stroke-opacity="0.7">4</text>
<text x="268.0" y="74.0" font-size="5" text-anchor="middle" fill="#222" fill-opacity="0.85" stroke="#222" stroke-width="0.2" stroke-opacity="0.7">3</text>
<text x="239.5" y="86.5" font-size="5" text-anchor="middle" fill="#222" fill-opacity="0.85" stroke="#222" stroke-width="0.2" stroke-opacity="0.7">7</text>
<text x="245.0" y="97.5" font-size="5" text-anchor="middle" fill="#222" fill-opacity="0.85" stroke="#222" stroke-width="0.2" stroke-opacity="0.7">9</text>
<text x="242.0" y="79.0" font-size="5" text-anchor="middle" fill="#222" fill-opacity="0.85" stroke="#222" stroke-width="0.2" stroke-opacity="0.7">6</text>
<text x="265.0" y="80.0" font-size="5" text-anchor="middle" fill="#222" fill-opacity="0.85" stroke="#222" stroke-width="0.2" stroke-opacity="0.7">8</text>
<text x="258.7" y="31.9" font-size="4.4" text-anchor="middle" fill="#3A2030" stroke="#3A2030" stroke-width="0.2">10</text>
<text x="294.5" y="89.1" font-size="4.4" text-anchor="middle" fill="#3A1850" stroke="#3A1850" stroke-width="0.2">11</text>
<text x="310.3" y="94.1" font-size="4.4" text-anchor="middle" fill="#4A1A35" stroke="#4A1A35" stroke-width="0.2">12</text>
<path d="M350.0 69.0h0M340.7 67.7h0M349.5 72.7h0M343.6 74.7h0M340.0 68.9h0M347.8 72.9h0M351.4 68.2h0M343.8 61.2h0M351.0 68.4h0M348.6 68.2h0M347.3 69.5h0M343.5 63.4h0M342.5 70.3h0M351.1 67.9h0M343.8 65.9h0M347.9 68.8h0M344.6 76.9h0M346.9 63.1h0M345.4 72.8h0M343.9 62.8h0M351.3 69.5h0M347.5 75.2h0M343.1 70.3h0M344.3 60.4h0M342.2 68.4h0M346.5 61.0h0M340.3 67.1h0M345.6 75.1h0M351.4 65.8h0M347.5 65.1h0M343.7 69.5h0M345.4 67.8h0M340.5 65.0h0M345.2 72.7h0M348.3 65.3h0M341.1 72.0h0M343.8 65.0h0M345.2 68.1h0M342.4 73.7h0M343.1 60.8h0M346.9 73.2h0M339.9 70.7h0M339.4 67.4h0M339.5 68.6h0M343.6 68.3h0M345.2 66.7h0M341.3 71.8h0M344.4 71.7h0M344.6 62.5h0M350.6 66.6h0M342.7 68.0h0M351.8 68.9h0M344.8 75.1h0M343.1 69.0h0M347.8 68.2h0M344.4 75.4h0M348.6 64.9h0M342.9 59.6h0M344.8 68.5h0M347.4 61.8h0M348.9 74.2h0M350.4 66.7h0M343.7 61.8h0M347.4 64.7h0M344.9 64.9h0M345.7 60.0h0M342.4 68.0h0M350.2 63.2h0M347.2 60.5h0M344.6 62.5h0M342.4 62.2h0M346.0 61.1h0M341.4 72.7h0M339.8 69.5h0M345.0 70.6h0M346.0 70.8h0M344.2 66.4h0M343.9 67.6h0M351.5 66.3h0M351.0 68.1h0M350.1 63.8h0M347.7 70.4h0M345.9 59.0h0M349.6 70.5h0M345.5 71.8h0M343.8 73.0h0M348.5 63.6h0M350.7 71.8h0M332.8 97.5h0M336.8 72.3h0M332.7 93.4h0M346.9 64.2h0M355.2 94.8h0M339.9 75.2h0" stroke="#EF776F" stroke-width="1.2" stroke-linecap="round" fill="none" opacity="0.88"/>
<path d="M373.3 71.2h0M376.8 73.1h0M374.3 70.7h0M374.8 87.1h0M378.7 77.8h0M372.3 78.4h0M365.3 76.5h0M376.6 84.3h0M382.5 77.7h0M373.2 82.5h0M370.1 76.5h0M367.6 78.2h0M366.6 77.9h0M373.1 75.9h0M375.8 72.5h0M373.0 82.3h0M375.9 84.2h0M372.4 71.7h0M372.9 80.6h0M372.1 69.3h0M368.5 76.3h0M372.2 79.0h0M368.3 74.8h0M363.9 73.5h0M367.8 70.7h0M378.2 81.4h0M369.0 73.2h0M370.6 67.3h0M381.7 76.2h0M382.8 80.5h0M374.4 87.0h0M378.0 77.7h0M375.6 68.9h0M373.5 83.3h0M377.9 72.9h0M372.5 73.2h0M370.4 78.3h0M368.6 80.7h0M363.6 76.7h0M373.7 78.6h0M377.9 75.6h0M368.3 70.8h0M364.9 77.2h0M364.2 72.2h0M373.7 73.9h0M371.8 80.7h0M381.8 79.0h0M383.0 79.5h0M366.3 79.5h0M364.0 77.5h0M364.2 74.8h0M379.6 82.4h0" stroke="#E4892A" stroke-width="1.2" stroke-linecap="round" fill="none" opacity="0.88"/>
<path d="M354.2 85.8h0M357.9 95.3h0M352.7 94.0h0M351.2 86.7h0M360.1 91.9h0M356.6 99.1h0M357.7 86.0h0M357.0 97.5h0M354.3 84.7h0M354.1 97.2h0M350.0 93.7h0M350.4 96.7h0M352.8 88.2h0M357.1 87.9h0M355.9 99.0h0M359.3 85.9h0M349.4 92.2h0M350.6 92.2h0M350.8 86.2h0M356.1 97.3h0M348.2 94.4h0M359.3 95.4h0M357.4 96.5h0M352.8 95.8h0M358.9 90.4h0M360.7 89.6h0M350.3 90.4h0M356.2 99.1h0M352.7 98.9h0M359.0 95.9h0M354.0 93.0h0M349.0 89.1h0M352.1 91.6h0M348.9 90.5h0M349.0 94.3h0M359.3 89.9h0M360.1 95.2h0M353.7 88.9h0M351.1 94.5h0M356.6 87.4h0M357.0 85.6h0M357.6 85.8h0M359.7 95.3h0M360.0 95.0h0M357.2 86.8h0M353.9 92.3h0M349.5 92.2h0M356.0 93.7h0M360.0 97.6h0M355.8 87.6h0M358.3 90.9h0M355.7 95.7h0M358.7 93.9h0M357.5 86.4h0M350.9 85.6h0M361.3 95.6h0M355.9 87.4h0M353.4 96.3h0M352.3 87.4h0M353.9 96.8h0M357.2 84.1h0M353.0 85.8h0M351.2 98.1h0M358.4 97.9h0M351.8 97.1h0M361.3 95.7h0M354.5 91.2h0M358.4 98.2h0M355.0 92.8h0M354.9 92.7h0M350.3 92.1h0M353.3 92.6h0M352.4 85.0h0M359.1 92.9h0M361.8 89.8h0M351.4 97.8h0M357.2 84.9h0M361.2 88.8h0M350.0 99.5h0M354.4 96.4h0M354.8 89.7h0M351.9 85.1h0M352.6 95.2h0M354.2 98.6h0M353.7 86.9h0M356.3 98.7h0M357.7 93.3h0M355.7 93.8h0M351.4 92.6h0M373.0 87.1h0M359.4 58.9h0M350.0 86.5h0M332.7 91.3h0M340.3 73.0h0M362.6 65.9h0" stroke="#C9A031" stroke-width="1.2" stroke-linecap="round" fill="none" opacity="0.88"/>
<path d="M357.8 70.4h0M359.0 75.9h0M358.6 76.3h0M358.8 71.9h0M355.1 70.6h0M358.6 75.2h0M356.2 68.3h0M361.2 66.9h0M357.7 75.7h0M364.0 76.7h0M358.0 78.9h0M362.3 71.3h0M360.7 67.0h0M361.7 67.0h0M356.2 76.6h0M354.6 70.1h0M356.1 67.5h0M356.1 76.1h0M354.0 70.9h0M364.9 73.4h0M365.9 68.1h0M361.2 71.7h0M360.3 74.8h0M356.7 67.1h0M362.4 74.0h0M355.2 72.7h0M356.9 69.2h0M357.2 76.9h0M356.5 67.5h0M356.4 70.1h0M364.6 67.4h0M364.3 74.7h0M359.2 72.9h0M364.2 69.8h0M364.5 72.9h0M357.5 72.6h0M360.8 71.4h0M358.0 70.3h0M358.7 77.6h0M361.6 77.7h0M362.9 74.9h0M362.4 73.4h0M366.4 70.0h0M362.4 73.0h0M357.1 72.5h0M362.1 67.0h0M356.1 75.9h0M361.8 77.1h0M363.6 68.4h0M360.9 71.1h0M360.4 77.0h0M360.0 74.6h0M358.3 59.7h0M336.1 81.3h0M352.7 70.8h0M356.1 84.7h0M359.4 76.1h0" stroke="#9DAF2E" stroke-width="1.2" stroke-linecap="round" fill="none" opacity="0.88"/>
<path d="M368.8 95.2h0M374.2 90.6h0M368.2 85.4h0M372.5 93.6h0M360.6 94.5h0M363.7 95.8h0M366.7 85.2h0M371.1 97.6h0M370.0 86.3h0M371.0 90.8h0M364.0 90.5h0M368.0 95.6h0M366.8 90.3h0M364.8 85.9h0M367.7 85.1h0M362.9 87.8h0M363.9 96.0h0M373.1 87.9h0M366.0 88.9h0M373.9 93.4h0M363.8 95.1h0M370.4 89.5h0M369.8 88.2h0M372.6 92.8h0M361.3 94.7h0M372.3 91.2h0M371.1 89.3h0M374.0 93.1h0M367.8 93.7h0M369.9 90.8h0M361.9 93.0h0M370.1 91.9h0M362.6 95.9h0M365.3 89.9h0M370.5 93.5h0M369.9 97.2h0M362.6 86.3h0M367.9 96.6h0M362.6 89.9h0M361.8 90.0h0M368.1 89.4h0M368.9 86.3h0M373.9 92.8h0M370.1 92.7h0M362.8 86.2h0M371.0 90.4h0M372.2 88.5h0M362.8 93.9h0M360.7 89.1h0M373.4 92.2h0M363.6 91.2h0M369.3 93.6h0M361.4 93.4h0M365.1 86.8h0M364.1 92.5h0M367.0 91.4h0M365.3 96.1h0M367.7 84.7h0M365.1 95.6h0M372.2 96.6h0M360.9 93.6h0M370.4 86.5h0M362.2 93.6h0M361.6 93.1h0M366.3 93.7h0M371.8 89.0h0M361.5 90.7h0M366.1 89.2h0M364.1 85.6h0M365.0 91.7h0M371.4 90.7h0M371.7 91.9h0M362.0 93.5h0M366.4 86.6h0" stroke="#3DB23D" stroke-width="1.2" stroke-linecap="round" fill="none" opacity="0.88"/>
<path d="M360.3 63.6h0M362.4 60.7h0M364.5 60.1h0M360.4 56.9h0M366.6 59.9h0M359.2 61.7h0M365.0 60.6h0M360.0 62.5h0M359.0 61.2h0M362.9 56.0h0M364.6 57.8h0M357.4 58.2h0M355.1 58.1h0M363.1 59.4h0M355.1 56.8h0M360.7 57.3h0M354.5 59.5h0M364.3 60.9h0M362.1 57.1h0M362.6 61.1h0M360.4 62.8h0M360.1 56.1h0M361.0 60.2h0M365.2 57.7h0M362.0 62.8h0M365.4 59.4h0M365.0 59.0h0M363.4 60.0h0M366.0 57.2h0M355.8 58.0h0M355.5 59.3h0M360.3 56.2h0M362.2 58.0h0M365.5 59.7h0M355.6 57.2h0M362.7 56.3h0M364.6 62.0h0M365.2 61.6h0M361.2 63.4h0M358.9 55.9h0M356.9 62.0h0M362.2 63.3h0M358.1 62.1h0M364.3 56.1h0M365.5 61.2h0M361.9 63.7h0M362.8 57.6h0M358.4 55.1h0M354.6 90.9h0M335.7 80.1h0M371.1 76.6h0M338.1 80.6h0M367.0 69.4h0M358.0 66.9h0M368.7 96.1h0M362.4 75.7h0" stroke="#21B24E" stroke-width="1.2" stroke-linecap="round" fill="none" opacity="0.88"/>
<path d="M339.9 72.0h0M327.2 77.2h0M336.6 78.4h0M331.4 80.3h0M332.2 76.5h0M334.8 73.2h0M334.5 80.5h0M338.1 77.9h0M334.6 73.1h0M337.6 78.5h0M335.6 74.1h0M332.0 74.7h0M340.0 79.1h0M332.0 77.3h0M331.9 75.8h0M335.9 74.5h0M335.6 75.1h0M337.7 72.1h0M335.1 72.8h0M333.7 74.7h0M338.3 79.0h0M334.4 72.4h0M330.2 74.8h0M334.4 76.7h0M336.5 81.0h0M329.8 75.1h0M338.8 76.1h0M332.6 72.7h0M340.7 76.7h0M337.2 75.9h0M333.4 76.3h0M333.4 80.7h0M333.8 76.3h0M331.0 76.8h0M339.1 75.1h0M337.4 79.9h0M329.5 78.3h0M336.5 74.9h0M336.2 79.6h0M335.9 74.6h0M332.3 75.5h0M338.5 79.4h0M334.4 73.8h0M337.3 80.0h0M334.1 79.3h0M339.5 78.0h0M330.8 73.7h0M331.3 76.4h0M334.6 77.4h0M333.0 76.2h0M335.7 70.9h0M333.9 74.5h0M332.5 78.7h0M330.7 74.5h0M332.6 79.4h0M338.8 79.2h0M332.2 71.8h0M330.8 73.7h0M329.9 75.3h0M336.8 97.8h0M361.4 74.8h0M375.1 75.9h0M362.1 57.3h0M352.2 69.1h0M362.0 85.6h0M349.7 73.9h0M362.0 66.0h0M340.2 70.5h0M336.9 97.1h0" stroke="#12AA8A" stroke-width="1.2" stroke-linecap="round" fill="none" opacity="0.88"/>
<path d="M328.9 82.5h0M328.4 84.1h0M327.0 85.5h0M324.7 82.5h0M330.8 85.5h0M328.6 81.3h0M326.1 84.4h0M328.0 78.5h0M326.2 84.3h0M327.6 78.7h0M330.3 80.5h0M329.8 82.4h0M329.0 86.1h0M326.5 86.1h0M325.6 83.7h0M326.6 84.7h0M325.5 79.5h0M329.2 84.9h0M324.4 80.4h0M328.7 82.3h0M329.1 84.7h0M329.3 80.7h0M325.5 83.8h0M327.8 83.1h0M328.2 79.2h0M328.0 84.1h0M325.8 81.8h0M331.0 85.3h0M329.7 79.0h0M328.2 80.0h0M328.7 82.6h0M324.5 87.1h0M323.1 87.1h0M329.6 84.0h0M330.7 84.3h0M331.0 81.1h0M328.2 79.5h0M330.0 84.2h0M325.7 81.6h0M331.4 81.9h0M327.4 83.8h0M353.9 81.0h0M364.9 89.5h0M345.1 58.6h0M361.6 87.8h0M365.2 60.0h0M338.9 75.2h0M358.2 76.3h0M351.3 91.8h0" stroke="#1DB3C3" stroke-width="1.2" stroke-linecap="round" fill="none" opacity="0.88"/>
<path d="M358.6 76.4h0M349.4 75.3h0M355.7 74.2h0M354.4 76.6h0M355.9 75.8h0M356.4 75.0h0M354.2 82.4h0M361.2 78.7h0M351.2 78.8h0M351.3 79.7h0M348.0 78.5h0M351.4 75.3h0M356.1 82.1h0M355.9 79.1h0M360.9 77.8h0M359.5 81.3h0M361.6 78.2h0M353.0 76.9h0M346.7 76.8h0M350.8 78.9h0M355.8 75.5h0M346.6 76.9h0M356.8 77.4h0M356.3 81.4h0M353.8 80.6h0M360.7 82.5h0M354.3 79.6h0M357.7 75.1h0M347.8 78.2h0M354.5 76.3h0M364.5 60.9h0M365.5 92.8h0M370.6 86.9h0M334.6 70.4h0M330.9 86.2h0M321.4 83.4h0M348.9 91.6h0M342.6 73.4h0M338.3 89.4h0M345.0 61.3h0M366.9 59.8h0M343.4 62.7h0M361.9 69.3h0" stroke="#36B3E6" stroke-width="1.2" stroke-linecap="round" fill="none" opacity="0.88"/>
<path d="M337.2 93.7h0M334.7 90.8h0M334.6 91.0h0M331.8 94.4h0M332.4 92.3h0M337.6 90.3h0M333.7 89.5h0M333.8 99.9h0M336.5 89.3h0M336.1 97.5h0M333.0 96.9h0M337.0 91.8h0M332.7 95.9h0M331.9 95.4h0M333.9 92.1h0M336.7 98.3h0M333.8 94.9h0M333.3 93.8h0M335.1 98.4h0M336.9 96.9h0M336.9 94.5h0M334.8 96.4h0M336.8 96.5h0M335.6 94.4h0M336.7 96.7h0M336.1 96.6h0M336.1 98.1h0M332.9 94.3h0" stroke="#3478C4" stroke-width="1.2" stroke-linecap="round" fill="none" opacity="0.88"/>
<path d="M375.6 70.7h0M356.9 80.4h0M372.2 90.6h0M336.3 69.9h0M359.6 94.8h0M374.0 58.0h0" stroke="#9A7ED6" stroke-width="1.2" stroke-linecap="round" fill="none" opacity="0.88"/>
<path d="M383.0 89.1h0M384.0 86.4h0M385.6 88.1h0M386.4 88.9h0M385.6 89.1h0M386.2 87.6h0" stroke="#A345B0" stroke-width="1.2" stroke-linecap="round" fill="none" opacity="0.88"/>
<path d="M402.1 93.7h0M398.7 91.3h0" stroke="#C03A7E" stroke-width="1.2" stroke-linecap="round" fill="none" opacity="0.88"/>
<path d="M347.7 28.9h0M349.7 31.3h0" stroke="#C45A78" stroke-width="1.2" stroke-linecap="round" fill="none" opacity="0.88"/>
<path d="M401.3 92.6h0" stroke="#8A8AA0" stroke-width="1.2" stroke-linecap="round" fill="none" opacity="0.88"/>
<path d="M338.9 69.7h0M343.1 69.6h0M346.1 74.3h0M345.5 71.2h0M350.7 69.4h0M343.7 63.7h0M348.0 73.6h0M343.4 70.8h0M347.5 74.8h0M344.6 64.2h0M342.5 67.2h0M345.4 65.6h0M345.5 75.3h0M349.8 72.7h0M342.1 64.8h0M342.4 66.6h0M340.7 63.9h0M344.7 68.6h0M347.7 66.5h0M339.5 72.7h0M345.0 69.1h0M345.9 73.2h0M349.4 66.6h0M340.7 73.6h0M339.4 65.7h0M342.9 69.1h0M343.4 73.2h0M348.6 67.3h0M345.7 67.9h0M342.5 66.1h0M344.6 63.2h0M349.1 63.8h0M341.4 71.7h0M342.3 73.2h0M348.5 74.0h0M345.0 64.7h0M345.4 76.2h0M349.7 72.5h0M343.9 73.7h0M343.3 71.7h0M340.8 70.3h0M345.7 71.8h0M340.8 64.8h0M347.9 69.8h0M348.5 72.4h0M348.3 70.8h0M348.0 70.8h0M347.1 62.9h0M343.2 73.9h0M348.5 62.9h0M346.2 72.5h0M350.0 66.6h0M344.2 74.6h0M342.7 63.0h0M339.7 72.7h0M340.8 69.6h0M338.7 68.7h0M342.5 69.4h0M343.4 72.4h0M349.9 69.6h0M341.3 73.6h0M339.8 68.7h0M342.8 61.5h0M340.9 65.2h0M341.7 61.2h0M342.9 62.5h0M345.9 70.5h0M343.3 73.3h0M347.2 63.9h0M345.4 71.6h0M342.9 65.5h0M343.9 61.4h0M346.4 74.7h0M338.7 66.5h0M345.9 70.2h0M342.8 63.9h0M343.3 73.0h0M341.4 66.0h0M349.0 65.2h0M351.8 73.0h0M341.1 70.2h0M343.5 64.8h0M340.0 67.3h0M346.5 67.6h0M342.8 72.1h0M347.4 67.4h0M352.7 69.6h0M348.8 74.2h0M354.2 76.2h0M341.7 71.9h0M370.5 87.1h0M350.5 98.0h0M358.6 75.2h0M367.9 60.0h0" stroke="#EF776F" stroke-width="1.2" stroke-linecap="round" fill="none" opacity="0.88"/>
<path d="M374.0 71.3h0M371.7 74.9h0M370.4 81.3h0M368.5 72.5h0M372.0 81.2h0M369.3 67.7h0M367.7 74.4h0M373.8 72.9h0M363.6 76.8h0M365.0 73.9h0M374.5 76.1h0M369.0 80.8h0M373.9 81.5h0M374.4 76.6h0M367.9 80.6h0M378.1 72.8h0M375.9 77.5h0M373.1 79.5h0M377.5 80.5h0M369.2 71.1h0M371.9 66.3h0M371.3 85.5h0M362.1 74.9h0M370.9 71.2h0M369.9 82.4h0M378.5 74.2h0M374.9 73.1h0M365.7 79.5h0M369.3 76.8h0M374.9 72.2h0M376.0 86.6h0M366.2 72.1h0M379.4 77.0h0M371.2 75.0h0M380.1 77.9h0M367.8 81.2h0M376.2 76.2h0M371.3 70.1h0M370.4 67.5h0M381.4 76.1h0M377.5 84.0h0M364.3 76.9h0M374.5 67.7h0M375.6 79.6h0M382.0 79.9h0M373.4 81.8h0M374.9 84.5h0M371.2 77.5h0M369.9 81.7h0M366.0 76.1h0M373.1 71.8h0" stroke="#E4892A" stroke-width="1.2" stroke-linecap="round" fill="none" opacity="0.88"/>
<path d="M353.6 90.4h0M356.5 93.3h0M357.9 88.7h0M352.5 85.2h0M359.6 84.4h0M350.8 83.8h0M356.0 88.3h0M360.1 83.1h0M354.6 88.1h0M352.1 88.2h0M352.3 93.0h0M359.4 87.7h0M357.7 85.1h0M353.5 86.4h0M349.6 94.5h0M353.5 93.8h0M354.5 81.5h0M349.9 93.6h0M360.5 88.7h0M354.5 87.5h0M360.5 87.1h0M358.6 87.6h0M359.6 91.4h0M355.9 96.8h0M349.4 89.8h0M358.4 94.9h0M358.5 92.1h0M360.8 92.4h0M360.4 88.5h0M349.7 87.6h0M359.9 84.3h0M350.1 88.5h0M354.7 86.3h0M350.1 94.8h0M359.4 82.9h0M358.8 96.5h0M356.1 96.5h0M360.0 87.9h0M358.9 90.3h0M355.3 96.7h0M355.6 97.3h0M355.1 97.1h0M357.5 86.7h0M353.9 81.1h0M351.3 86.7h0M356.2 92.7h0M353.5 88.3h0M356.9 86.3h0M357.8 83.4h0M354.0 83.8h0M361.6 86.1h0M350.5 92.2h0M355.0 94.9h0M355.4 91.8h0M358.1 86.9h0M357.2 88.8h0M361.0 91.5h0M353.9 86.8h0M357.0 96.8h0M362.7 90.8h0M359.4 94.3h0M351.1 85.5h0M356.5 85.6h0M360.0 84.9h0M357.4 93.7h0M356.4 83.9h0M352.8 83.5h0M357.5 83.7h0M356.7 95.9h0M354.8 86.0h0M351.9 90.9h0M356.9 89.5h0M360.6 92.5h0M361.4 88.0h0M350.4 86.7h0M350.6 96.5h0M357.2 88.6h0M354.8 82.2h0M352.8 95.2h0M352.3 93.0h0M354.0 95.8h0M358.1 87.0h0M356.7 95.0h0M348.5 90.9h0M356.2 94.9h0M359.6 92.1h0M358.5 84.6h0M361.7 92.3h0M337.0 79.1h0M350.7 76.9h0M373.9 74.9h0M332.2 73.8h0M329.9 87.9h0M365.2 56.9h0" stroke="#C9A031" stroke-width="1.2" stroke-linecap="round" fill="none" opacity="0.88"/>
<path d="M364.9 70.0h0M355.0 72.3h0M353.5 72.6h0M362.8 69.7h0M361.9 71.1h0M361.7 66.4h0M359.0 73.8h0M356.4 67.7h0M361.5 69.2h0M361.4 65.6h0M352.5 69.8h0M354.7 68.7h0M362.6 74.5h0M363.8 73.9h0M365.4 70.2h0M356.7 65.6h0M359.0 67.9h0M360.9 73.7h0M362.0 69.2h0M364.7 74.3h0M367.4 68.3h0M359.0 69.4h0M353.4 66.0h0M364.5 72.6h0M360.3 70.0h0M362.7 75.0h0M360.5 76.3h0M352.8 70.9h0M360.7 72.1h0M356.1 65.0h0M357.9 72.4h0M362.6 74.5h0M366.5 65.8h0M353.3 72.4h0M355.8 76.0h0M363.9 69.6h0M361.6 69.4h0M361.9 69.4h0M353.3 73.4h0M353.6 68.8h0M359.6 76.3h0M360.1 74.4h0M355.9 68.3h0M353.6 70.2h0M360.1 73.1h0M363.9 67.3h0M356.5 65.0h0M359.8 73.4h0M353.6 72.0h0M364.3 67.6h0M364.6 70.7h0M344.8 69.3h0M350.3 82.5h0M359.8 94.5h0M362.4 75.0h0M360.4 97.1h0" stroke="#9DAF2E" stroke-width="1.2" stroke-linecap="round" fill="none" opacity="0.88"/>
<path d="M363.7 92.5h0M371.3 84.8h0M366.7 87.6h0M370.4 89.0h0M371.8 87.4h0M365.2 87.5h0M369.5 88.3h0M371.3 94.5h0M365.7 92.0h0M364.3 91.8h0M363.7 86.3h0M368.3 82.8h0M363.6 85.2h0M373.8 90.0h0M365.7 86.8h0M371.0 94.2h0M365.0 89.1h0M364.6 92.7h0M370.5 94.6h0M369.4 93.5h0M369.5 83.9h0M367.3 92.0h0M366.8 86.9h0M366.9 94.3h0M372.0 86.0h0M365.7 84.5h0M366.4 93.3h0M368.8 87.7h0M364.0 95.1h0M368.2 89.7h0M366.0 94.0h0M369.4 83.0h0M371.3 90.4h0M368.5 92.7h0M371.4 85.8h0M365.7 84.0h0M374.2 87.7h0M366.7 92.8h0M369.2 88.4h0M372.7 92.0h0M365.6 94.5h0M367.0 89.9h0M363.8 92.7h0M368.2 82.2h0M366.7 87.9h0M371.8 88.4h0M369.1 89.4h0M365.2 92.7h0M366.4 89.6h0M364.4 83.8h0M370.4 86.6h0M367.6 97.1h0M364.3 91.4h0M366.6 93.3h0M367.4 88.6h0M372.9 93.6h0M366.2 91.8h0M366.9 85.0h0M364.5 83.5h0M374.8 90.7h0M371.4 93.7h0M369.8 84.9h0M369.5 87.0h0M374.4 89.3h0M368.1 94.2h0M369.7 83.1h0M375.3 87.7h0M366.6 83.6h0M366.5 93.0h0M370.7 84.1h0M369.2 86.7h0M363.5 88.7h0M363.5 84.3h0" stroke="#3DB23D" stroke-width="1.2" stroke-linecap="round" fill="none" opacity="0.88"/>
<path d="M362.5 57.7h0M361.0 54.3h0M355.3 58.2h0M365.7 59.1h0M365.3 58.7h0M359.5 59.4h0M362.4 62.3h0M357.7 61.8h0M361.5 60.1h0M362.0 54.3h0M359.6 55.5h0M360.0 59.4h0M359.6 54.6h0M362.4 62.9h0M361.8 55.6h0M362.9 62.8h0M357.0 61.5h0M364.8 58.8h0M356.5 61.8h0M360.8 62.0h0M355.8 57.3h0M363.4 62.0h0M362.2 55.6h0M357.6 62.6h0M364.7 60.0h0M360.4 61.5h0M359.0 55.9h0M363.6 60.5h0M359.3 59.8h0M358.5 61.8h0M359.0 56.2h0M357.8 58.9h0M357.2 55.9h0M356.2 59.9h0M362.2 62.5h0M356.7 58.2h0M359.9 63.3h0M361.5 55.9h0M357.2 61.7h0M360.6 56.7h0M362.9 56.0h0M357.5 62.4h0M363.7 55.3h0M363.1 60.2h0M361.1 57.0h0M356.1 59.0h0M361.7 54.8h0M359.2 55.5h0M367.0 80.8h0M353.6 95.9h0M338.1 79.8h0M352.0 75.1h0M344.9 74.3h0M361.4 70.2h0M343.1 61.6h0M349.0 89.9h0" stroke="#21B24E" stroke-width="1.2" stroke-linecap="round" fill="none" opacity="0.88"/>
<path d="M332.8 77.7h0M333.6 79.4h0M331.7 73.2h0M330.0 72.1h0M329.7 75.1h0M329.4 71.6h0M330.8 78.2h0M336.3 71.6h0M329.7 77.0h0M337.0 72.2h0M337.6 72.2h0M334.7 74.3h0M334.7 77.2h0M331.0 76.3h0M331.2 71.9h0M332.4 76.3h0M334.4 76.6h0M337.0 78.5h0M329.1 78.6h0M334.5 75.7h0M329.1 77.0h0M335.0 77.0h0M328.7 76.2h0M337.8 77.4h0M337.4 76.1h0M336.4 74.7h0M339.4 71.1h0M336.9 74.0h0M335.1 75.7h0M328.5 76.7h0M331.4 75.1h0M335.2 76.1h0M330.3 72.5h0M333.7 72.1h0M329.6 74.9h0M331.1 77.6h0M328.8 73.9h0M333.1 75.4h0M331.6 72.5h0M328.8 77.2h0M332.0 70.6h0M332.1 71.8h0M329.8 77.1h0M328.3 75.3h0M328.9 76.8h0M329.7 75.7h0M332.8 76.8h0M327.8 74.9h0M331.9 71.2h0M335.6 72.5h0M339.3 72.7h0M337.8 76.8h0M331.5 72.1h0M336.0 74.6h0M330.7 74.8h0M334.2 75.9h0M331.8 73.1h0M337.5 70.4h0M330.2 78.2h0M332.5 70.5h0M371.9 84.6h0M373.3 94.7h0M342.3 69.5h0M335.2 91.5h0M346.7 61.8h0M359.4 95.3h0M361.5 93.3h0M361.6 88.2h0M349.1 74.7h0" stroke="#12AA8A" stroke-width="1.2" stroke-linecap="round" fill="none" opacity="0.88"/>
<path d="M325.6 82.5h0M332.0 86.4h0M326.8 86.5h0M331.7 78.0h0M327.5 81.2h0M333.0 84.3h0M329.9 83.4h0M328.6 89.0h0M327.4 82.3h0M329.8 85.0h0M328.8 88.5h0M331.9 80.3h0M325.4 84.5h0M326.9 82.6h0M327.5 80.5h0M325.9 88.0h0M330.3 84.3h0M327.3 88.1h0M328.7 91.0h0M332.2 84.7h0M332.2 85.2h0M325.8 83.6h0M328.5 88.9h0M326.4 88.8h0M327.0 84.1h0M326.7 89.2h0M328.3 87.3h0M332.1 86.6h0M323.9 84.9h0M331.4 81.8h0M328.9 83.4h0M329.9 82.4h0M334.0 86.0h0M330.6 85.6h0M326.3 80.6h0M326.1 84.5h0M332.3 87.3h0M330.3 87.3h0M326.9 87.7h0M330.7 90.4h0M361.3 85.6h0M355.1 80.2h0M336.2 88.9h0M344.1 69.1h0M359.1 94.5h0M370.2 90.4h0M357.9 61.8h0M360.5 91.3h0" stroke="#1DB3C3" stroke-width="1.2" stroke-linecap="round" fill="none" opacity="0.88"/>
<path d="M351.5 81.3h0M348.7 77.0h0M357.9 81.6h0M361.0 76.5h0M363.6 79.0h0M357.0 79.8h0M350.7 75.9h0M351.7 80.9h0M352.6 82.2h0M357.3 81.9h0M359.8 78.7h0M356.3 75.2h0M358.9 79.7h0M347.5 75.9h0M348.8 78.7h0M357.1 78.6h0M352.7 75.1h0M347.4 78.9h0M352.1 75.7h0M357.7 77.3h0M350.4 74.8h0M347.9 80.4h0M359.6 75.6h0M351.1 75.8h0M349.6 74.9h0M356.8 77.2h0M357.0 75.3h0M359.3 77.5h0M350.4 77.2h0M358.5 86.3h0M368.3 77.7h0M360.2 94.4h0M357.7 63.2h0M365.0 60.2h0M345.3 62.1h0M360.0 76.4h0M361.3 56.6h0M358.5 64.1h0M362.1 92.1h0M370.3 85.3h0M350.6 76.5h0M355.7 80.1h0M344.8 60.4h0" stroke="#36B3E6" stroke-width="1.2" stroke-linecap="round" fill="none" opacity="0.88"/>
<path d="M336.3 95.8h0M335.3 88.2h0M334.5 94.1h0M336.5 92.3h0M337.1 94.3h0M338.6 93.8h0M339.6 87.8h0M334.0 91.8h0M339.5 93.4h0M339.6 88.2h0M339.7 92.9h0M336.0 90.9h0M339.0 93.3h0M335.7 87.4h0M334.9 90.3h0M333.5 94.7h0M337.0 95.6h0M334.2 98.1h0M336.6 94.8h0M335.4 96.6h0M333.0 96.5h0M334.6 94.3h0M338.0 97.2h0M333.4 95.2h0M335.9 98.0h0M336.1 98.0h0M335.4 94.2h0" stroke="#3478C4" stroke-width="1.2" stroke-linecap="round" fill="none" opacity="0.88"/>
<path d="M355.8 96.1h0M354.0 58.2h0M370.2 88.3h0M358.3 75.9h0M361.0 62.5h0" stroke="#9A7ED6" stroke-width="1.2" stroke-linecap="round" fill="none" opacity="0.88"/>
<path d="M386.2 86.2h0M382.4 88.9h0M386.7 86.9h0M385.7 87.7h0M383.5 87.5h0" stroke="#A345B0" stroke-width="1.2" stroke-linecap="round" fill="none" opacity="0.88"/>
<path d="M399.4 94.2h0M399.7 93.0h0" stroke="#C03A7E" stroke-width="1.2" stroke-linecap="round" fill="none" opacity="0.88"/>
<path d="M346.5 31.4h0" stroke="#C45A78" stroke-width="1.2" stroke-linecap="round" fill="none" opacity="0.88"/>
<path d="M401.1 92.4h0" stroke="#8A8AA0" stroke-width="1.2" stroke-linecap="round" fill="none" opacity="0.88"/>
<path d="M342.1 69.6h0M343.5 71.9h0M338.4 69.0h0M345.5 74.3h0M348.2 64.9h0M343.5 68.1h0M350.0 64.6h0M347.6 69.8h0M338.5 66.4h0M342.7 71.8h0M341.7 67.1h0M342.0 73.4h0M347.9 63.0h0M339.4 67.3h0M340.1 70.9h0M339.0 64.0h0M348.8 72.1h0M349.8 69.0h0M345.6 62.8h0M348.3 68.2h0M339.3 65.6h0M343.1 74.9h0M343.2 69.1h0M349.9 67.2h0M338.0 68.2h0M347.6 62.1h0M344.5 70.9h0M347.2 68.9h0M347.6 73.5h0M346.8 64.4h0M346.5 58.1h0M345.3 65.4h0M343.3 63.4h0M341.7 72.3h0M344.6 65.2h0M346.1 68.7h0M346.0 68.0h0M346.8 67.2h0M348.0 66.9h0M345.1 74.6h0M348.8 73.2h0M340.9 70.3h0M341.9 64.9h0M348.8 66.4h0M345.1 64.8h0M339.3 65.9h0M339.2 66.1h0M346.1 67.9h0M341.7 64.9h0M343.1 62.4h0M350.2 70.2h0M344.7 73.6h0M344.8 69.8h0M347.5 62.7h0M349.7 64.5h0M348.5 65.0h0M345.7 63.5h0M341.3 68.7h0M340.2 70.2h0M347.2 73.2h0M340.4 67.0h0M341.0 66.2h0M347.0 60.8h0M344.4 73.4h0M341.0 67.7h0M345.5 67.9h0M347.2 70.5h0M340.8 70.8h0M344.7 57.7h0M339.9 72.0h0M339.5 72.1h0M342.5 71.0h0M340.7 62.0h0M346.7 63.0h0M340.6 69.4h0M343.0 69.6h0M346.8 61.0h0M342.6 68.9h0M339.9 68.6h0M348.0 72.8h0M339.1 67.0h0M346.8 67.0h0M342.2 68.3h0M347.5 75.8h0M343.9 61.5h0M349.1 69.2h0M349.4 64.5h0M348.1 70.6h0M358.5 62.6h0M326.7 80.6h0M358.7 69.4h0M365.8 91.0h0M351.3 88.2h0" stroke="#EF776F" stroke-width="1.2" stroke-linecap="round" fill="none" opacity="0.88"/>
<path d="M382.5 77.5h0M373.7 86.9h0M371.4 67.2h0M366.3 75.6h0M378.1 78.3h0M375.5 73.0h0M375.0 85.1h0M379.2 75.4h0M369.4 71.4h0M364.5 73.2h0M368.3 79.3h0M383.0 80.7h0M380.9 79.0h0M376.2 76.2h0M361.8 74.2h0M365.1 78.3h0M377.9 76.6h0M377.4 80.7h0M367.6 76.5h0M376.9 86.5h0M367.3 78.0h0M373.4 87.7h0M376.4 81.7h0M373.1 73.2h0M377.7 79.9h0M382.3 79.6h0M374.8 73.2h0M374.8 80.5h0M375.2 71.8h0M380.9 75.3h0M363.7 72.5h0M371.2 74.8h0M370.2 77.8h0M377.5 75.0h0M366.3 73.6h0M369.5 75.5h0M366.5 75.8h0M375.4 76.0h0M372.0 77.2h0M373.6 88.2h0M368.0 69.2h0M379.8 80.6h0M372.3 77.8h0M371.0 70.3h0M365.4 72.4h0M362.9 75.3h0M383.5 78.8h0M378.5 72.9h0M373.0 87.3h0M378.8 81.2h0M369.2 79.5h0" stroke="#E4892A" stroke-width="1.2" stroke-linecap="round" fill="none" opacity="0.88"/>
<path d="M351.5 97.3h0M352.5 98.8h0M362.4 89.3h0M362.8 90.4h0M352.2 96.6h0M358.4 87.1h0M355.3 96.1h0M358.5 96.1h0M353.0 84.9h0M353.4 95.7h0M355.1 93.4h0M359.8 95.5h0M358.6 94.1h0M360.8 99.0h0M353.8 95.0h0M351.4 97.8h0M353.2 96.2h0M361.9 93.3h0M357.7 99.2h0M361.0 91.7h0M350.7 96.4h0M353.7 91.6h0M348.6 91.9h0M360.9 91.1h0M349.4 90.7h0M358.7 93.2h0M350.0 95.9h0M352.4 91.6h0M355.9 93.3h0M355.7 96.5h0M356.7 94.2h0M351.6 92.2h0M355.3 96.6h0M355.7 91.0h0M353.1 89.5h0M359.1 89.2h0M356.1 97.9h0M352.8 88.1h0M354.9 86.4h0M351.8 92.3h0M353.0 84.8h0M355.7 84.8h0M348.8 93.9h0M351.6 90.1h0M363.5 93.1h0M349.5 95.6h0M360.7 95.8h0M349.9 91.8h0M360.3 95.0h0M356.1 96.3h0M354.3 92.1h0M358.5 98.8h0M351.2 97.9h0M356.2 95.4h0M354.8 86.0h0M359.6 88.9h0M351.3 91.1h0M358.3 88.7h0M354.7 97.2h0M358.2 85.0h0M352.5 91.9h0M353.6 92.8h0M354.6 89.4h0M358.4 89.9h0M350.9 90.7h0M361.9 91.4h0M353.6 96.8h0M357.9 84.9h0M354.7 86.1h0M349.3 93.8h0M357.3 84.9h0M358.3 97.9h0M352.9 94.2h0M359.4 90.0h0M352.4 91.7h0M349.6 96.4h0M356.9 97.9h0M348.4 92.2h0M360.6 93.2h0M361.5 89.8h0M357.7 85.3h0M352.4 97.2h0M361.0 95.5h0M356.3 87.2h0M354.3 98.5h0M350.8 97.9h0M355.5 87.6h0M353.0 88.9h0M363.7 87.3h0M379.1 72.9h0M377.6 77.5h0M363.5 75.2h0M366.4 90.7h0M342.4 72.4h0" stroke="#C9A031" stroke-width="1.2" stroke-linecap="round" fill="none" opacity="0.88"/>
<path d="M352.7 70.4h0M363.0 70.9h0M362.6 70.8h0M354.2 73.2h0M357.5 66.5h0M364.5 73.1h0M353.8 75.3h0M355.0 68.6h0M358.4 77.9h0M357.5 75.2h0M353.3 68.7h0M358.8 75.3h0M361.5 63.3h0M356.8 68.4h0M357.2 71.6h0M359.8 71.9h0M354.7 72.9h0M361.8 74.2h0M361.9 69.2h0M359.6 65.2h0M352.5 66.4h0M357.2 75.0h0M356.7 76.5h0M363.0 68.8h0M355.8 74.2h0M363.5 71.4h0M352.2 68.1h0M357.9 76.5h0M353.6 74.8h0M358.7 76.5h0M359.8 67.9h0M353.8 70.0h0M354.4 68.2h0M356.5 77.1h0M357.8 75.1h0M355.4 66.6h0M352.3 68.4h0M361.0 73.6h0M363.5 76.1h0M353.5 69.7h0M360.1 75.9h0M358.7 76.3h0M352.2 73.8h0M353.5 72.4h0M363.2 68.6h0M353.6 75.5h0M356.7 75.0h0M360.6 72.2h0M358.7 71.0h0M367.8 70.4h0M355.4 76.4h0M341.2 80.4h0M342.1 64.5h0M334.6 94.4h0M381.9 78.6h0M329.7 73.4h0" stroke="#9DAF2E" stroke-width="1.2" stroke-linecap="round" fill="none" opacity="0.88"/>
<path d="M367.5 83.0h0M370.0 87.8h0M362.7 86.4h0M364.2 91.6h0M373.5 90.5h0M361.1 88.8h0M361.7 88.6h0M363.5 87.3h0M371.4 88.6h0M370.6 93.3h0M368.9 94.5h0M367.2 92.5h0M366.1 93.5h0M360.8 84.6h0M369.5 85.4h0M360.1 92.1h0M371.1 89.8h0M362.2 89.7h0M365.2 89.3h0M368.6 86.6h0M370.2 87.9h0M364.0 82.7h0M367.2 92.7h0M371.7 86.0h0M372.5 86.3h0M366.8 93.8h0M371.6 92.0h0M366.9 86.3h0M360.9 94.0h0M361.0 86.5h0M366.1 79.7h0M365.7 83.2h0M373.3 88.6h0M365.3 89.2h0M362.7 85.9h0M371.3 89.6h0M362.3 84.2h0M371.4 87.1h0M366.1 95.7h0M373.4 89.5h0M371.7 93.6h0M367.4 87.0h0M365.2 89.2h0M359.5 90.2h0M367.5 94.3h0M363.7 88.5h0M370.6 93.1h0M368.9 89.8h0M360.2 87.9h0M362.0 94.6h0M363.6 88.8h0M363.8 84.6h0M370.1 91.7h0M363.7 89.5h0M362.7 85.9h0M366.9 92.0h0M369.0 86.4h0M373.6 89.6h0M361.6 93.5h0M370.8 84.3h0M366.8 89.4h0M359.9 88.4h0M366.1 85.6h0M367.1 87.4h0M369.9 85.8h0M366.4 91.7h0M362.2 92.8h0M359.7 88.8h0M365.8 88.1h0M360.6 88.5h0M370.4 93.7h0M366.4 80.9h0M367.5 94.1h0" stroke="#3DB23D" stroke-width="1.2" stroke-linecap="round" fill="none" opacity="0.88"/>
<path d="M365.2 60.3h0M360.4 58.1h0M359.7 59.9h0M363.2 59.0h0M364.7 56.2h0M363.5 53.6h0M365.7 57.5h0M358.8 60.6h0M365.1 58.7h0M366.2 56.8h0M366.3 58.3h0M360.8 56.0h0M363.8 56.5h0M361.3 60.3h0M362.0 60.9h0M360.5 60.3h0M358.2 57.3h0M367.7 57.1h0M363.8 61.8h0M366.4 59.7h0M360.5 56.4h0M360.0 58.1h0M362.3 57.7h0M364.7 59.6h0M360.5 60.1h0M361.3 60.4h0M356.4 59.6h0M359.5 62.2h0M362.7 57.7h0M362.8 63.2h0M360.1 60.0h0M362.8 59.3h0M360.7 54.9h0M357.1 57.7h0M365.7 62.0h0M364.6 56.4h0M363.5 62.5h0M364.9 61.3h0M360.2 57.3h0M360.4 55.4h0M360.0 60.9h0M358.3 56.1h0M364.5 55.2h0M359.8 58.3h0M366.1 59.6h0M363.7 55.0h0M358.4 58.4h0M360.5 63.0h0M361.2 91.8h0M348.7 65.6h0M360.5 56.8h0M355.9 93.9h0M334.3 80.5h0M355.3 66.2h0M365.4 60.3h0" stroke="#21B24E" stroke-width="1.2" stroke-linecap="round" fill="none" opacity="0.88"/>
<path d="M334.1 76.4h0M332.7 78.8h0M339.6 74.8h0M338.8 77.2h0M332.1 79.0h0M334.1 72.0h0M337.4 75.6h0M333.6 73.9h0M338.7 76.6h0M336.5 74.2h0M336.3 80.3h0M333.1 79.3h0M332.5 73.2h0M329.2 75.2h0M336.2 75.5h0M339.8 80.2h0M334.6 78.6h0M331.0 73.7h0M330.6 76.0h0M336.2 78.9h0M332.2 71.9h0M330.1 78.7h0M340.3 75.8h0M333.8 80.1h0M336.4 79.2h0M334.5 79.0h0M334.0 79.9h0M337.7 77.1h0M336.2 80.1h0M337.0 77.1h0M337.0 73.5h0M336.1 79.0h0M332.7 80.4h0M329.8 74.9h0M333.4 80.1h0M332.5 76.3h0M331.1 80.0h0M337.9 77.4h0M332.0 79.7h0M335.7 76.7h0M334.4 71.4h0M340.0 77.9h0M331.1 76.5h0M339.0 76.0h0M333.4 76.3h0M333.8 71.5h0M330.2 75.7h0M331.0 77.8h0M336.3 75.4h0M330.4 77.3h0M338.8 73.5h0M334.8 75.1h0M335.9 71.0h0M334.7 73.6h0M340.6 75.5h0M338.9 74.2h0M336.7 71.8h0M332.6 78.3h0M330.0 90.3h0M358.0 84.0h0M372.0 91.7h0M330.0 83.1h0M340.6 65.7h0M346.4 65.3h0M347.5 62.1h0M357.8 73.4h0M328.4 77.3h0M357.9 57.1h0M333.7 77.6h0" stroke="#12AA8A" stroke-width="1.2" stroke-linecap="round" fill="none" opacity="0.88"/>
<path d="M330.6 81.0h0M327.9 83.6h0M328.6 76.7h0M330.3 85.3h0M329.2 82.2h0M323.5 87.5h0M329.9 86.7h0M328.4 88.1h0M328.3 87.9h0M326.9 88.7h0M329.0 80.2h0M328.2 84.9h0M329.9 87.6h0M328.6 86.5h0M327.0 86.1h0M329.0 79.2h0M324.9 89.0h0M323.1 81.7h0M323.5 84.4h0M326.9 80.9h0M329.4 86.0h0M324.8 80.2h0M329.5 84.5h0M327.2 82.0h0M326.8 86.6h0M322.5 82.4h0M324.5 82.4h0M331.2 84.4h0M325.2 86.1h0M328.9 86.4h0M325.3 79.7h0M327.2 88.8h0M327.0 81.4h0M328.7 79.6h0M324.4 87.9h0M328.5 80.2h0M324.6 86.0h0M329.6 85.4h0M325.7 88.9h0M325.9 83.6h0M377.1 74.3h0M351.0 82.7h0M356.7 78.7h0M354.2 94.4h0M328.9 87.3h0M340.8 97.4h0M360.4 68.8h0M359.5 72.4h0" stroke="#1DB3C3" stroke-width="1.2" stroke-linecap="round" fill="none" opacity="0.88"/>
<path d="M355.7 79.3h0M353.6 76.4h0M350.4 76.1h0M356.5 81.6h0M357.7 80.1h0M351.2 78.0h0M354.0 76.0h0M357.8 79.2h0M355.1 76.7h0M347.9 80.4h0M364.1 78.2h0M344.3 78.4h0M357.7 74.9h0M352.1 78.6h0M357.9 76.7h0M351.3 80.2h0M356.6 74.5h0M349.3 76.3h0M354.2 78.1h0M360.0 76.9h0M357.2 77.3h0M361.1 76.5h0M357.0 79.3h0M350.8 81.7h0M352.4 81.3h0M350.3 77.9h0M349.9 74.4h0M350.8 76.8h0M359.4 80.2h0M354.5 80.5h0M366.7 60.2h0M343.7 67.8h0M327.8 82.1h0M375.5 77.3h0M342.1 67.5h0M348.1 67.4h0M362.4 71.0h0M333.9 72.8h0M361.3 54.8h0M357.6 77.7h0M353.8 76.7h0M343.6 69.0h0" stroke="#36B3E6" stroke-width="1.2" stroke-linecap="round" fill="none" opacity="0.88"/>
<path d="M336.2 87.9h0M334.7 91.6h0M339.6 89.9h0M336.1 92.2h0M338.4 90.7h0M333.9 93.0h0M333.5 94.0h0M337.6 94.5h0M335.5 95.1h0M333.9 92.5h0M333.7 95.6h0M332.6 90.7h0M338.0 94.7h0M336.9 95.2h0M337.3 93.3h0M336.5 96.3h0M339.7 97.6h0M335.2 95.1h0M334.1 98.0h0M338.4 97.3h0M333.9 96.7h0M336.6 97.4h0M334.1 98.1h0M333.7 96.0h0M335.7 96.9h0M336.5 93.1h0M336.8 95.8h0" stroke="#3478C4" stroke-width="1.2" stroke-linecap="round" fill="none" opacity="0.88"/>
<path d="M345.0 61.7h0M364.9 56.9h0M324.0 86.3h0M331.1 82.6h0M342.3 68.4h0" stroke="#9A7ED6" stroke-width="1.2" stroke-linecap="round" fill="none" opacity="0.88"/>
<path d="M383.4 88.3h0M386.4 87.4h0M384.4 87.9h0M383.8 89.1h0M384.3 87.3h0" stroke="#A345B0" stroke-width="1.2" stroke-linecap="round" fill="none" opacity="0.88"/>
<path d="M401.9 93.6h0M401.9 92.2h0" stroke="#C03A7E" stroke-width="1.2" stroke-linecap="round" fill="none" opacity="0.88"/>
<path d="M350.7 29.6h0" stroke="#C45A78" stroke-width="1.2" stroke-linecap="round" fill="none" opacity="0.88"/>
<text x="346.0" y="71.0" font-size="5" text-anchor="middle" fill="#222" fill-opacity="0.85" stroke="#222" stroke-width="0.2" stroke-opacity="0.7">0</text>
<text x="361.0" y="61.5" font-size="5" text-anchor="middle" fill="#222" fill-opacity="0.85" stroke="#222" stroke-width="0.2" stroke-opacity="0.7">5</text>
<text x="373.0" y="78.0" font-size="5" text-anchor="middle" fill="#222" fill-opacity="0.85" stroke="#222" stroke-width="0.2" stroke-opacity="0.7">1</text>
<text x="354.0" y="94.0" font-size="5" text-anchor="middle" fill="#222" fill-opacity="0.85" stroke="#222" stroke-width="0.2" stroke-opacity="0.7">2</text>
<text x="368.5" y="93.5" font-size="5" text-anchor="middle" fill="#222" fill-opacity="0.85" stroke="#222" stroke-width="0.2" stroke-opacity="0.7">4</text>
<text x="358.0" y="74.0" font-size="5" text-anchor="middle" fill="#222" fill-opacity="0.85" stroke="#222" stroke-width="0.2" stroke-opacity="0.7">3</text>
<text x="329.5" y="86.5" font-size="5" text-anchor="middle" fill="#222" fill-opacity="0.85" stroke="#222" stroke-width="0.2" stroke-opacity="0.7">7</text>
<text x="335.0" y="97.5" font-size="5" text-anchor="middle" fill="#222" fill-opacity="0.85" stroke="#222" stroke-width="0.2" stroke-opacity="0.7">9</text>
<text x="332.0" y="79.0" font-size="5" text-anchor="middle" fill="#222" fill-opacity="0.85" stroke="#222" stroke-width="0.2" stroke-opacity="0.7">6</text>
<text x="355.0" y="80.0" font-size="5" text-anchor="middle" fill="#222" fill-opacity="0.85" stroke="#222" stroke-width="0.2" stroke-opacity="0.7">8</text>
<text x="348.7" y="31.9" font-size="4.4" text-anchor="middle" fill="#3A2030" stroke="#3A2030" stroke-width="0.2">10</text>
<text x="384.5" y="89.1" font-size="4.4" text-anchor="middle" fill="#3A1850" stroke="#3A1850" stroke-width="0.2">11</text>
<text x="400.3" y="94.1" font-size="4.4" text-anchor="middle" fill="#4A1A35" stroke="#4A1A35" stroke-width="0.2">12</text>
<path d="M441.7 68.9h0M438.3 66.1h0M437.7 61.6h0M436.8 65.7h0M445.1 64.5h0M437.1 73.2h0M440.3 73.4h0M439.1 69.7h0M434.9 74.4h0M432.0 69.9h0M433.5 68.5h0M442.6 60.2h0M432.4 61.4h0M429.6 65.1h0M442.3 73.9h0M441.3 66.7h0M441.9 63.1h0M438.4 63.2h0M438.1 64.9h0M445.1 70.1h0M443.4 66.2h0M441.2 59.5h0M445.4 94.5h0M456.5 92.6h0" stroke="#EF776F" stroke-width="1.2" stroke-linecap="round" fill="none" opacity="0.88"/>
<path d="M460.9 70.9h0M458.7 72.3h0M461.6 80.6h0M463.9 70.3h0M462.6 75.0h0M465.0 70.3h0M455.7 77.9h0M455.8 71.4h0M460.3 69.8h0M457.0 79.7h0M466.2 84.6h0M464.6 77.6h0M461.2 82.4h0M460.7 65.9h0M465.1 70.7h0M457.5 74.5h0M462.0 75.1h0M452.9 75.2h0M460.1 75.0h0M458.4 76.9h0M467.6 75.2h0M470.9 76.7h0M458.3 78.3h0M456.8 81.2h0" stroke="#E4892A" stroke-width="1.2" stroke-linecap="round" fill="none" opacity="0.88"/>
<path d="M449.9 92.7h0M441.7 93.5h0M446.3 88.8h0M448.1 93.5h0M439.1 91.8h0M451.2 84.7h0M441.5 89.7h0M451.5 81.4h0M442.0 89.7h0M443.7 88.5h0M442.1 95.9h0M442.0 87.8h0M441.8 92.8h0M449.6 91.6h0M451.5 89.5h0M443.6 89.3h0M444.0 91.8h0M450.6 93.6h0M442.3 86.5h0M438.6 88.8h0M444.1 90.4h0M449.6 81.8h0M447.2 83.8h0M441.3 92.3h0M443.4 84.6h0M451.7 92.1h0M440.7 90.5h0M445.6 90.3h0M459.8 75.6h0" stroke="#C9A031" stroke-width="1.2" stroke-linecap="round" fill="none" opacity="0.88"/>
<path d="M440.0 70.9h0M452.5 75.2h0M452.5 73.7h0M450.6 70.8h0M450.5 75.0h0M448.7 67.6h0M445.7 68.4h0M444.1 73.0h0M449.1 72.5h0M445.1 68.0h0M446.9 68.0h0M430.7 63.4h0M467.1 75.7h0" stroke="#9DAF2E" stroke-width="1.2" stroke-linecap="round" fill="none" opacity="0.88"/>
<path d="M453.9 85.9h0M455.5 90.3h0M459.4 85.6h0M456.4 89.7h0M459.2 89.4h0M460.2 83.7h0M456.0 89.8h0M456.5 85.4h0M457.6 91.5h0M456.6 92.4h0M454.5 89.8h0M454.5 86.8h0M459.7 89.5h0M463.3 87.1h0M454.9 89.4h0" stroke="#3DB23D" stroke-width="1.2" stroke-linecap="round" fill="none" opacity="0.88"/>
<path d="M453.4 58.2h0M449.3 60.7h0M449.3 61.4h0M448.5 62.6h0M446.4 58.3h0M449.1 61.5h0M455.6 62.2h0M450.4 55.5h0M446.7 62.5h0M449.6 59.0h0M451.9 60.0h0M450.3 60.0h0M447.7 64.3h0M450.4 54.1h0M451.8 66.8h0M463.3 85.3h0" stroke="#21B24E" stroke-width="1.2" stroke-linecap="round" fill="none" opacity="0.88"/>
<path d="M422.6 84.5h0M426.0 74.3h0M417.9 81.4h0M419.8 81.2h0M422.8 79.3h0M427.3 79.1h0M422.3 78.5h0M426.2 75.0h0M416.8 78.9h0M449.1 59.1h0" stroke="#12AA8A" stroke-width="1.2" stroke-linecap="round" fill="none" opacity="0.88"/>
<path d="M424.3 85.9h0M425.8 84.7h0M423.3 84.5h0M416.4 86.7h0M416.5 88.8h0M424.8 86.6h0M422.2 88.6h0M424.6 85.0h0M420.8 88.3h0M465.1 69.5h0M461.7 88.0h0" stroke="#1DB3C3" stroke-width="1.2" stroke-linecap="round" fill="none" opacity="0.88"/>
<path d="M447.4 75.8h0M444.3 81.2h0M446.1 75.2h0M444.2 75.1h0M447.2 75.9h0M444.5 77.3h0M430.2 70.8h0M440.2 75.5h0M446.8 70.4h0M433.4 65.7h0M461.4 87.6h0" stroke="#36B3E6" stroke-width="1.2" stroke-linecap="round" fill="none" opacity="0.88"/>
<path d="M422.9 97.6h0M422.5 97.6h0" stroke="#3478C4" stroke-width="1.2" stroke-linecap="round" fill="none" opacity="0.88"/>
<path d="M449.1 71.6h0M445.0 92.6h0" stroke="#9A7ED6" stroke-width="1.2" stroke-linecap="round" fill="none" opacity="0.88"/>
<path d="M472.4 86.1h0M472.7 88.2h0M474.7 87.5h0M473.3 87.1h0M474.3 88.1h0M474.7 86.7h0" stroke="#A345B0" stroke-width="1.2" stroke-linecap="round" fill="none" opacity="0.88"/>
<path d="M492.3 91.4h0M491.9 93.8h0" stroke="#C03A7E" stroke-width="1.2" stroke-linecap="round" fill="none" opacity="0.88"/>
<path d="M440.2 29.5h0M437.4 29.3h0" stroke="#C45A78" stroke-width="1.2" stroke-linecap="round" fill="none" opacity="0.88"/>
<path d="M488.3 92.0h0" stroke="#8A8AA0" stroke-width="1.2" stroke-linecap="round" fill="none" opacity="0.88"/>
<path d="M444.7 70.9h0M434.2 65.1h0M444.0 66.5h0M435.8 69.9h0M432.5 68.6h0M442.8 67.7h0M434.7 68.8h0M440.8 66.1h0M441.6 63.7h0M437.3 71.3h0M434.7 70.5h0M443.7 71.0h0M437.8 66.8h0M434.8 66.5h0M441.5 71.0h0M438.8 73.4h0M444.2 75.1h0M439.2 67.3h0M436.9 58.2h0M437.0 62.8h0M439.4 59.6h0M436.7 61.7h0M463.2 92.7h0M445.0 96.8h0" stroke="#EF776F" stroke-width="1.2" stroke-linecap="round" fill="none" opacity="0.88"/>
<path d="M464.0 72.9h0M459.4 83.4h0M454.1 77.6h0M458.8 79.9h0M465.2 80.9h0M460.7 68.3h0M459.0 78.5h0M467.5 82.8h0M454.5 76.4h0M465.7 83.4h0M460.2 67.3h0M460.6 65.7h0M470.8 77.0h0M456.5 74.2h0M465.0 69.0h0M468.1 83.7h0M461.9 85.3h0M464.1 75.1h0M468.4 74.9h0M455.3 70.4h0M455.0 79.0h0M471.1 79.7h0M461.1 84.4h0M471.4 77.2h0" stroke="#E4892A" stroke-width="1.2" stroke-linecap="round" fill="none" opacity="0.88"/>
<path d="M445.0 86.1h0M448.9 92.9h0M444.6 87.7h0M438.3 85.6h0M444.1 92.3h0M445.4 90.7h0M438.8 92.8h0M442.8 91.8h0M445.0 92.4h0M438.7 96.0h0M441.3 89.4h0M445.7 86.0h0M440.6 95.0h0M444.4 81.1h0M440.7 97.6h0M447.5 83.8h0M439.9 84.9h0M445.1 98.5h0M444.1 84.1h0M439.4 97.2h0M440.9 99.8h0M442.0 88.7h0M439.6 95.8h0M440.3 85.0h0M445.4 85.5h0M445.0 91.3h0M435.9 93.4h0M453.6 53.3h0M429.1 73.8h0" stroke="#C9A031" stroke-width="1.2" stroke-linecap="round" fill="none" opacity="0.88"/>
<path d="M442.5 69.2h0M454.4 71.3h0M445.8 74.6h0M442.2 72.7h0M452.0 72.8h0M447.0 72.6h0M445.6 68.8h0M446.9 76.5h0M447.7 70.6h0M444.0 75.4h0M448.8 67.6h0M461.7 92.7h0M461.0 65.8h0" stroke="#9DAF2E" stroke-width="1.2" stroke-linecap="round" fill="none" opacity="0.88"/>
<path d="M462.3 93.1h0M459.5 86.4h0M452.8 89.0h0M454.5 93.6h0M461.8 88.2h0M457.3 87.8h0M458.0 89.6h0M465.9 85.8h0M462.0 93.3h0M453.5 86.7h0M458.8 91.9h0M460.1 94.6h0M461.3 92.7h0M464.8 88.2h0M459.6 93.4h0" stroke="#3DB23D" stroke-width="1.2" stroke-linecap="round" fill="none" opacity="0.88"/>
<path d="M453.8 62.7h0M454.3 59.4h0M453.4 59.3h0M452.5 62.0h0M449.9 57.5h0M446.9 58.9h0M455.3 56.1h0M447.8 57.2h0M453.2 60.2h0M451.5 59.6h0M449.0 57.1h0M449.6 57.5h0M450.3 54.0h0M447.0 60.8h0M452.7 61.9h0M456.7 89.2h0" stroke="#21B24E" stroke-width="1.2" stroke-linecap="round" fill="none" opacity="0.88"/>
<path d="M421.0 83.2h0M419.6 81.3h0M427.8 75.4h0M427.8 75.1h0M426.1 75.0h0M423.9 74.9h0M424.1 73.7h0M424.5 79.4h0M417.5 77.3h0M423.9 86.6h0" stroke="#12AA8A" stroke-width="1.2" stroke-linecap="round" fill="none" opacity="0.88"/>
<path d="M422.6 89.4h0M416.1 80.7h0M421.7 89.4h0M415.0 81.7h0M418.0 89.8h0M413.8 83.0h0M418.4 87.7h0M420.8 81.7h0M424.5 82.4h0M463.8 90.1h0" stroke="#1DB3C3" stroke-width="1.2" stroke-linecap="round" fill="none" opacity="0.88"/>
<path d="M448.2 75.7h0M440.8 76.0h0M442.1 77.5h0M440.5 77.1h0M447.7 79.0h0M462.9 83.1h0M460.1 79.3h0M441.2 66.2h0M464.9 87.3h0M458.3 75.2h0M440.0 91.6h0" stroke="#36B3E6" stroke-width="1.2" stroke-linecap="round" fill="none" opacity="0.88"/>
<path d="M423.3 94.9h0M426.7 97.8h0" stroke="#3478C4" stroke-width="1.2" stroke-linecap="round" fill="none" opacity="0.88"/>
<path d="M442.4 70.8h0M463.6 89.3h0" stroke="#9A7ED6" stroke-width="1.2" stroke-linecap="round" fill="none" opacity="0.88"/>
<path d="M473.9 89.0h0M473.5 87.5h0M475.6 87.9h0M473.3 88.8h0M474.3 88.7h0" stroke="#A345B0" stroke-width="1.2" stroke-linecap="round" fill="none" opacity="0.88"/>
<path d="M488.4 93.9h0M488.5 91.5h0" stroke="#C03A7E" stroke-width="1.2" stroke-linecap="round" fill="none" opacity="0.88"/>
<path d="M440.3 31.4h0" stroke="#C45A78" stroke-width="1.2" stroke-linecap="round" fill="none" opacity="0.88"/>
<path d="M490.9 92.2h0" stroke="#8A8AA0" stroke-width="1.2" stroke-linecap="round" fill="none" opacity="0.88"/>
<path d="M436.1 69.9h0M431.7 59.4h0M430.0 66.9h0M441.2 72.3h0M439.3 74.1h0M431.7 69.6h0M442.0 62.8h0M441.2 67.2h0M439.3 66.1h0M433.3 67.6h0M430.6 68.7h0M441.8 69.1h0M436.0 62.2h0M429.4 73.3h0M436.4 63.2h0M432.1 62.4h0M433.9 72.9h0M439.2 71.6h0M430.4 72.4h0M432.4 61.3h0M438.1 69.2h0M436.0 63.9h0M446.3 59.3h0" stroke="#EF776F" stroke-width="1.2" stroke-linecap="round" fill="none" opacity="0.88"/>
<path d="M464.8 69.5h0M466.5 73.2h0M461.0 74.5h0M466.6 71.0h0M455.0 72.3h0M452.2 75.6h0M463.1 80.1h0M466.9 76.3h0M459.3 69.9h0M469.2 75.0h0M454.8 71.9h0M466.7 85.5h0M462.0 81.5h0M457.8 76.9h0M461.1 78.8h0M467.2 76.2h0M456.6 70.4h0M463.1 79.7h0M470.7 77.0h0M458.4 70.0h0M461.9 81.9h0M460.8 73.3h0M453.4 72.4h0" stroke="#E4892A" stroke-width="1.2" stroke-linecap="round" fill="none" opacity="0.88"/>
<path d="M446.0 94.2h0M441.5 91.0h0M439.7 93.5h0M441.3 88.4h0M451.8 93.8h0M451.6 89.2h0M446.2 89.3h0M444.6 85.7h0M451.1 101.3h0M441.7 90.3h0M445.6 90.8h0M448.0 97.3h0M445.8 98.1h0M441.7 96.8h0M448.0 95.7h0M452.3 92.6h0M440.7 96.1h0M448.1 99.1h0M440.2 90.7h0M442.8 86.4h0M444.3 93.1h0M446.4 94.5h0M446.7 89.5h0M447.7 90.2h0M449.4 90.6h0M441.1 88.0h0M439.4 94.5h0M458.5 88.0h0M440.2 98.8h0" stroke="#C9A031" stroke-width="1.2" stroke-linecap="round" fill="none" opacity="0.88"/>
<path d="M447.4 73.9h0M445.2 71.5h0M445.5 67.6h0M453.0 68.5h0M450.1 77.3h0M443.7 67.6h0M446.8 69.0h0M454.4 68.7h0M447.8 71.0h0M448.9 70.5h0M446.2 74.5h0M446.0 88.4h0" stroke="#9DAF2E" stroke-width="1.2" stroke-linecap="round" fill="none" opacity="0.88"/>
<path d="M464.3 90.6h0M463.1 86.6h0M459.5 87.9h0M458.5 88.1h0M457.9 89.3h0M458.7 89.4h0M462.7 87.7h0M465.1 86.4h0M461.8 86.9h0M458.5 92.0h0M458.6 85.2h0M464.2 87.3h0M454.1 88.4h0M455.1 86.9h0" stroke="#3DB23D" stroke-width="1.2" stroke-linecap="round" fill="none" opacity="0.88"/>
<path d="M453.2 52.8h0M452.1 63.6h0M450.5 57.9h0M454.3 54.9h0M455.3 60.9h0M447.9 58.6h0M450.1 63.6h0M454.4 58.2h0M455.4 58.2h0M455.7 54.9h0M452.2 64.0h0M450.1 58.1h0M456.0 60.5h0M451.9 61.4h0M442.7 73.1h0M436.7 68.3h0" stroke="#21B24E" stroke-width="1.2" stroke-linecap="round" fill="none" opacity="0.88"/>
<path d="M422.7 79.1h0M419.3 76.4h0M423.0 81.4h0M419.8 78.3h0M426.0 78.7h0M428.8 78.6h0M421.1 74.2h0M417.9 78.3h0M427.6 81.1h0" stroke="#12AA8A" stroke-width="1.2" stroke-linecap="round" fill="none" opacity="0.88"/>
<path d="M419.3 80.1h0M423.3 83.3h0M425.8 83.7h0M419.3 85.9h0M414.4 82.1h0M422.6 80.8h0M417.3 88.5h0M425.2 87.2h0M419.8 85.7h0M450.4 84.4h0" stroke="#1DB3C3" stroke-width="1.2" stroke-linecap="round" fill="none" opacity="0.88"/>
<path d="M449.8 79.7h0M445.3 77.2h0M448.2 77.3h0M450.7 77.1h0M444.6 74.7h0M441.4 87.2h0M445.8 84.2h0M447.2 77.5h0M424.7 72.5h0M438.6 85.5h0" stroke="#36B3E6" stroke-width="1.2" stroke-linecap="round" fill="none" opacity="0.88"/>
<path d="M423.1 95.8h0" stroke="#3478C4" stroke-width="1.2" stroke-linecap="round" fill="none" opacity="0.88"/>
<path d="M443.9 91.1h0" stroke="#9A7ED6" stroke-width="1.2" stroke-linecap="round" fill="none" opacity="0.88"/>
<path d="M475.2 88.0h0M476.7 87.3h0M472.9 87.4h0M472.5 86.4h0M473.8 88.0h0" stroke="#A345B0" stroke-width="1.2" stroke-linecap="round" fill="none" opacity="0.88"/>
<path d="M489.7 91.3h0M488.8 92.6h0" stroke="#C03A7E" stroke-width="1.2" stroke-linecap="round" fill="none" opacity="0.88"/>
<path d="M440.0 31.1h0" stroke="#C45A78" stroke-width="1.2" stroke-linecap="round" fill="none" opacity="0.88"/>
<text x="436.0" y="71.0" font-size="5" text-anchor="middle" fill="#222" fill-opacity="0.85" stroke="#222" stroke-width="0.2" stroke-opacity="0.7">0</text>
<text x="451.0" y="61.5" font-size="5" text-anchor="middle" fill="#222" fill-opacity="0.85" stroke="#222" stroke-width="0.2" stroke-opacity="0.7">5</text>
<text x="463.0" y="78.0" font-size="5" text-anchor="middle" fill="#222" fill-opacity="0.85" stroke="#222" stroke-width="0.2" stroke-opacity="0.7">1</text>
<text x="444.0" y="94.0" font-size="5" text-anchor="middle" fill="#222" fill-opacity="0.85" stroke="#222" stroke-width="0.2" stroke-opacity="0.7">2</text>
<text x="458.5" y="93.5" font-size="5" text-anchor="middle" fill="#222" fill-opacity="0.85" stroke="#222" stroke-width="0.2" stroke-opacity="0.7">4</text>
<text x="448.0" y="74.0" font-size="5" text-anchor="middle" fill="#222" fill-opacity="0.85" stroke="#222" stroke-width="0.2" stroke-opacity="0.7">3</text>
<text x="419.5" y="86.5" font-size="5" text-anchor="middle" fill="#222" fill-opacity="0.85" stroke="#222" stroke-width="0.2" stroke-opacity="0.7">7</text>
<text x="425.0" y="97.5" font-size="5" text-anchor="middle" fill="#222" fill-opacity="0.85" stroke="#222" stroke-width="0.2" stroke-opacity="0.7">9</text>
<text x="422.0" y="79.0" font-size="5" text-anchor="middle" fill="#222" fill-opacity="0.85" stroke="#222" stroke-width="0.2" stroke-opacity="0.7">6</text>
<text x="445.0" y="80.0" font-size="5" text-anchor="middle" fill="#222" fill-opacity="0.85" stroke="#222" stroke-width="0.2" stroke-opacity="0.7">8</text>
<text x="438.7" y="31.9" font-size="4.4" text-anchor="middle" fill="#3A2030" stroke="#3A2030" stroke-width="0.2">10</text>
<text x="474.5" y="89.1" font-size="4.4" text-anchor="middle" fill="#3A1850" stroke="#3A1850" stroke-width="0.2">11</text>
<text x="490.3" y="94.1" font-size="4.4" text-anchor="middle" fill="#4A1A35" stroke="#4A1A35" stroke-width="0.2">12</text>
<text x="91.90" y="22.00" font-size="9.6" text-anchor="middle" font-weight="normal" fill="#1a1a1a" stroke="#1a1a1a" stroke-width="0.13" >Arm 1</text>
<line x1="49.2" y1="102.4" x2="134.8" y2="102.4" stroke="#111" stroke-width="1.2"/>
<line x1="66.4" y1="102.4" x2="66.4" y2="105" stroke="#111" stroke-width="1"/>
<text x="66.60" y="114.80" font-size="8.2" text-anchor="middle" font-weight="normal" fill="#1a1a1a" stroke="#1a1a1a" stroke-width="0.13" >&#8211;5</text>
<line x1="87.7" y1="102.4" x2="87.7" y2="105" stroke="#111" stroke-width="1"/>
<text x="87.90" y="114.80" font-size="8.2" text-anchor="middle" font-weight="normal" fill="#1a1a1a" stroke="#1a1a1a" stroke-width="0.13" >0</text>
<line x1="108.9" y1="102.4" x2="108.9" y2="105" stroke="#111" stroke-width="1"/>
<text x="109.10" y="114.80" font-size="8.2" text-anchor="middle" font-weight="normal" fill="#1a1a1a" stroke="#1a1a1a" stroke-width="0.13" >5</text>
<line x1="130.5" y1="102.4" x2="130.5" y2="105" stroke="#111" stroke-width="1"/>
<text x="130.70" y="114.80" font-size="8.2" text-anchor="middle" font-weight="normal" fill="#1a1a1a" stroke="#1a1a1a" stroke-width="0.13" >10</text>
<text x="181.90" y="22.00" font-size="9.6" text-anchor="middle" font-weight="normal" fill="#1a1a1a" stroke="#1a1a1a" stroke-width="0.13" >Arm 2</text>
<line x1="139.2" y1="102.4" x2="224.8" y2="102.4" stroke="#111" stroke-width="1.2"/>
<line x1="156.4" y1="102.4" x2="156.4" y2="105" stroke="#111" stroke-width="1"/>
<text x="156.60" y="114.80" font-size="8.2" text-anchor="middle" font-weight="normal" fill="#1a1a1a" stroke="#1a1a1a" stroke-width="0.13" >&#8211;5</text>
<line x1="177.7" y1="102.4" x2="177.7" y2="105" stroke="#111" stroke-width="1"/>
<text x="177.90" y="114.80" font-size="8.2" text-anchor="middle" font-weight="normal" fill="#1a1a1a" stroke="#1a1a1a" stroke-width="0.13" >0</text>
<line x1="198.9" y1="102.4" x2="198.9" y2="105" stroke="#111" stroke-width="1"/>
<text x="199.10" y="114.80" font-size="8.2" text-anchor="middle" font-weight="normal" fill="#1a1a1a" stroke="#1a1a1a" stroke-width="0.13" >5</text>
<line x1="220.5" y1="102.4" x2="220.5" y2="105" stroke="#111" stroke-width="1"/>
<text x="220.70" y="114.80" font-size="8.2" text-anchor="middle" font-weight="normal" fill="#1a1a1a" stroke="#1a1a1a" stroke-width="0.13" >10</text>
<text x="271.90" y="22.00" font-size="9.6" text-anchor="middle" font-weight="normal" fill="#1a1a1a" stroke="#1a1a1a" stroke-width="0.13" >Arm 3</text>
<line x1="229.2" y1="102.4" x2="314.8" y2="102.4" stroke="#111" stroke-width="1.2"/>
<line x1="246.4" y1="102.4" x2="246.4" y2="105" stroke="#111" stroke-width="1"/>
<text x="246.60" y="114.80" font-size="8.2" text-anchor="middle" font-weight="normal" fill="#1a1a1a" stroke="#1a1a1a" stroke-width="0.13" >&#8211;5</text>
<line x1="267.7" y1="102.4" x2="267.7" y2="105" stroke="#111" stroke-width="1"/>
<text x="267.90" y="114.80" font-size="8.2" text-anchor="middle" font-weight="normal" fill="#1a1a1a" stroke="#1a1a1a" stroke-width="0.13" >0</text>
<line x1="288.9" y1="102.4" x2="288.9" y2="105" stroke="#111" stroke-width="1"/>
<text x="289.10" y="114.80" font-size="8.2" text-anchor="middle" font-weight="normal" fill="#1a1a1a" stroke="#1a1a1a" stroke-width="0.13" >5</text>
<line x1="310.5" y1="102.4" x2="310.5" y2="105" stroke="#111" stroke-width="1"/>
<text x="310.70" y="114.80" font-size="8.2" text-anchor="middle" font-weight="normal" fill="#1a1a1a" stroke="#1a1a1a" stroke-width="0.13" >10</text>
<text x="361.90" y="22.00" font-size="9.6" text-anchor="middle" font-weight="normal" fill="#1a1a1a" stroke="#1a1a1a" stroke-width="0.13" >Arm 4</text>
<line x1="319.2" y1="102.4" x2="404.8" y2="102.4" stroke="#111" stroke-width="1.2"/>
<line x1="336.4" y1="102.4" x2="336.4" y2="105" stroke="#111" stroke-width="1"/>
<text x="336.60" y="114.80" font-size="8.2" text-anchor="middle" font-weight="normal" fill="#1a1a1a" stroke="#1a1a1a" stroke-width="0.13" >&#8211;5</text>
<line x1="357.7" y1="102.4" x2="357.7" y2="105" stroke="#111" stroke-width="1"/>
<text x="357.90" y="114.80" font-size="8.2" text-anchor="middle" font-weight="normal" fill="#1a1a1a" stroke="#1a1a1a" stroke-width="0.13" >0</text>
<line x1="378.9" y1="102.4" x2="378.9" y2="105" stroke="#111" stroke-width="1"/>
<text x="379.10" y="114.80" font-size="8.2" text-anchor="middle" font-weight="normal" fill="#1a1a1a" stroke="#1a1a1a" stroke-width="0.13" >5</text>
<line x1="400.5" y1="102.4" x2="400.5" y2="105" stroke="#111" stroke-width="1"/>
<text x="400.70" y="114.80" font-size="8.2" text-anchor="middle" font-weight="normal" fill="#1a1a1a" stroke="#1a1a1a" stroke-width="0.13" >10</text>
<text x="451.90" y="22.00" font-size="9.6" text-anchor="middle" font-weight="normal" fill="#1a1a1a" stroke="#1a1a1a" stroke-width="0.13" >Arm 5</text>
<line x1="409.2" y1="102.4" x2="494.8" y2="102.4" stroke="#111" stroke-width="1.2"/>
<line x1="426.4" y1="102.4" x2="426.4" y2="105" stroke="#111" stroke-width="1"/>
<text x="426.60" y="114.80" font-size="8.2" text-anchor="middle" font-weight="normal" fill="#1a1a1a" stroke="#1a1a1a" stroke-width="0.13" >&#8211;5</text>
<line x1="447.7" y1="102.4" x2="447.7" y2="105" stroke="#111" stroke-width="1"/>
<text x="447.90" y="114.80" font-size="8.2" text-anchor="middle" font-weight="normal" fill="#1a1a1a" stroke="#1a1a1a" stroke-width="0.13" >0</text>
<line x1="468.9" y1="102.4" x2="468.9" y2="105" stroke="#111" stroke-width="1"/>
<text x="469.10" y="114.80" font-size="8.2" text-anchor="middle" font-weight="normal" fill="#1a1a1a" stroke="#1a1a1a" stroke-width="0.13" >5</text>
<line x1="490.5" y1="102.4" x2="490.5" y2="105" stroke="#111" stroke-width="1"/>
<text x="490.70" y="114.80" font-size="8.2" text-anchor="middle" font-weight="normal" fill="#1a1a1a" stroke="#1a1a1a" stroke-width="0.13" >10</text>
<line x1="50" y1="25" x2="50" y2="103" stroke="#111" stroke-width="1.3"/>
<line x1="47.2" y1="52" x2="50" y2="52" stroke="#111" stroke-width="1"/>
<text x="43.90" y="55.00" font-size="8.2" text-anchor="end" font-weight="normal" fill="#1a1a1a" stroke="#1a1a1a" stroke-width="0.13" >5</text>
<line x1="47.2" y1="79.7" x2="50" y2="79.7" stroke="#111" stroke-width="1"/>
<text x="43.90" y="82.70" font-size="8.2" text-anchor="end" font-weight="normal" fill="#1a1a1a" stroke="#1a1a1a" stroke-width="0.13" >0</text>
<text transform="translate(31.6,64) rotate(-90)" x="0" y="0" font-size="8.7" text-anchor="middle" textLength="29" lengthAdjust="spacingAndGlyphs" fill="#1a1a1a" stroke="#1a1a1a" stroke-width="0.13">UMAP_2</text>
<text x="272" y="127.4" font-size="8.4" text-anchor="middle" textLength="29.4" lengthAdjust="spacingAndGlyphs" fill="#1a1a1a" stroke="#1a1a1a" stroke-width="0.13">UMAP_1</text>
<text x="96.80" y="157.40" font-size="9.8" text-anchor="middle" font-weight="normal" fill="#1a1a1a" stroke="#1a1a1a" stroke-width="0.13" >Cluster 0</text>
<rect x="63.15" y="181.30" width="11.8" height="40.20" fill="#F68C80"/>
<rect x="76.60" y="172.90" width="11.8" height="48.60" fill="#F68C80"/>
<rect x="90.05" y="177.00" width="11.8" height="44.50" fill="#F68C80"/>
<rect x="103.50" y="175.00" width="11.8" height="46.50" fill="#F68C80"/>
<rect x="116.95" y="181.20" width="11.8" height="40.30" fill="#F68C80"/>
<path d="M66.95 177.60H71.15M69.05 177.60V186.30M66.95 186.30H71.15" stroke="#1a1a1a" stroke-width="1" fill="none"/>
<path d="M80.40 164.40H84.60M82.50 164.40V185.00M80.40 185.00H84.60" stroke="#1a1a1a" stroke-width="1" fill="none"/>
<path d="M93.85 172.30H98.05M95.95 172.30V181.50M93.85 181.50H98.05" stroke="#1a1a1a" stroke-width="1" fill="none"/>
<path d="M107.30 171.80H111.50M109.40 171.80V179.70M107.30 179.70H111.50" stroke="#1a1a1a" stroke-width="1" fill="none"/>
<path d="M120.75 176.90H124.95M122.85 176.90V191.20M120.75 191.20H124.95" stroke="#1a1a1a" stroke-width="1" fill="none"/>
<line x1="61.5" y1="168.8" x2="61.5" y2="222.1" stroke="#111" stroke-width="1.1"/>
<line x1="61.0" y1="221.5" x2="131.0" y2="221.5" stroke="#111" stroke-width="1.15"/>
<line x1="58.3" y1="171.5" x2="61.5" y2="171.5" stroke="#111" stroke-width="1"/>
<text x="55.20" y="174.10" font-size="8.3" text-anchor="end" font-weight="normal" fill="#1a1a1a" stroke="#1a1a1a" stroke-width="0.13" textLength="22.24" lengthAdjust="spacingAndGlyphs">20.0%</text>
<line x1="58.3" y1="183.8" x2="61.5" y2="183.8" stroke="#111" stroke-width="1"/>
<text x="55.20" y="186.40" font-size="8.3" text-anchor="end" font-weight="normal" fill="#1a1a1a" stroke="#1a1a1a" stroke-width="0.13" textLength="22.24" lengthAdjust="spacingAndGlyphs">15.0%</text>
<line x1="58.3" y1="196.1" x2="61.5" y2="196.1" stroke="#111" stroke-width="1"/>
<text x="55.20" y="198.70" font-size="8.3" text-anchor="end" font-weight="normal" fill="#1a1a1a" stroke="#1a1a1a" stroke-width="0.13" textLength="22.24" lengthAdjust="spacingAndGlyphs">10.0%</text>
<line x1="58.3" y1="208.5" x2="61.5" y2="208.5" stroke="#111" stroke-width="1"/>
<text x="55.20" y="211.10" font-size="8.3" text-anchor="end" font-weight="normal" fill="#1a1a1a" stroke="#1a1a1a" stroke-width="0.13" textLength="17.88" lengthAdjust="spacingAndGlyphs">5.0%</text>
<line x1="58.3" y1="221.5" x2="61.5" y2="221.5" stroke="#111" stroke-width="1"/>
<text x="55.20" y="224.10" font-size="8.3" text-anchor="end" font-weight="normal" fill="#1a1a1a" stroke="#1a1a1a" stroke-width="0.13" textLength="17.88" lengthAdjust="spacingAndGlyphs">0.0%</text>
<text x="223.90" y="157.40" font-size="9.8" text-anchor="middle" font-weight="normal" fill="#1a1a1a" stroke="#1a1a1a" stroke-width="0.13" >Cluster 1</text>
<rect x="190.25" y="166.50" width="11.8" height="55.00" fill="#E49848"/>
<rect x="203.70" y="202.90" width="11.8" height="18.60" fill="#E49848"/>
<rect x="217.15" y="206.20" width="11.8" height="15.30" fill="#E49848"/>
<rect x="230.60" y="208.60" width="11.8" height="12.90" fill="#E49848"/>
<rect x="244.05" y="201.40" width="11.8" height="20.10" fill="#E49848"/>
<path d="M194.05 165.00H198.25M196.15 165.00V172.10M194.05 172.10H198.25" stroke="#1a1a1a" stroke-width="1" fill="none"/>
<path d="M207.50 199.70H211.70M209.60 199.70V211.20M207.50 211.20H211.70" stroke="#1a1a1a" stroke-width="1" fill="none"/>
<path d="M220.95 203.80H225.15M223.05 203.80V210.30M220.95 210.30H225.15" stroke="#1a1a1a" stroke-width="1" fill="none"/>
<path d="M234.40 206.80H238.60M236.50 206.80V212.00M234.40 212.00H238.60" stroke="#1a1a1a" stroke-width="1" fill="none"/>
<path d="M247.85 196.40H252.05M249.95 196.40V206.80M247.85 206.80H252.05" stroke="#1a1a1a" stroke-width="1" fill="none"/>
<line x1="188.6" y1="162.5" x2="188.6" y2="222.1" stroke="#111" stroke-width="1.1"/>
<line x1="188.1" y1="221.5" x2="258.1" y2="221.5" stroke="#111" stroke-width="1.15"/>
<line x1="185.4" y1="165" x2="188.6" y2="165" stroke="#111" stroke-width="1"/>
<text x="182.30" y="167.60" font-size="8.3" text-anchor="end" font-weight="normal" fill="#1a1a1a" stroke="#1a1a1a" stroke-width="0.13" textLength="22.24" lengthAdjust="spacingAndGlyphs">25.0%</text>
<line x1="185.4" y1="176.2" x2="188.6" y2="176.2" stroke="#111" stroke-width="1"/>
<text x="182.30" y="178.80" font-size="8.3" text-anchor="end" font-weight="normal" fill="#1a1a1a" stroke="#1a1a1a" stroke-width="0.13" textLength="22.24" lengthAdjust="spacingAndGlyphs">20.0%</text>
<line x1="185.4" y1="187.3" x2="188.6" y2="187.3" stroke="#111" stroke-width="1"/>
<text x="182.30" y="189.90" font-size="8.3" text-anchor="end" font-weight="normal" fill="#1a1a1a" stroke="#1a1a1a" stroke-width="0.13" textLength="22.24" lengthAdjust="spacingAndGlyphs">15.0%</text>
<line x1="185.4" y1="198.5" x2="188.6" y2="198.5" stroke="#111" stroke-width="1"/>
<text x="182.30" y="201.10" font-size="8.3" text-anchor="end" font-weight="normal" fill="#1a1a1a" stroke="#1a1a1a" stroke-width="0.13" textLength="22.24" lengthAdjust="spacingAndGlyphs">10.0%</text>
<line x1="185.4" y1="209.6" x2="188.6" y2="209.6" stroke="#111" stroke-width="1"/>
<text x="182.30" y="212.20" font-size="8.3" text-anchor="end" font-weight="normal" fill="#1a1a1a" stroke="#1a1a1a" stroke-width="0.13" textLength="17.88" lengthAdjust="spacingAndGlyphs">5.0%</text>
<line x1="185.4" y1="221.5" x2="188.6" y2="221.5" stroke="#111" stroke-width="1"/>
<text x="182.30" y="224.10" font-size="8.3" text-anchor="end" font-weight="normal" fill="#1a1a1a" stroke="#1a1a1a" stroke-width="0.13" textLength="17.88" lengthAdjust="spacingAndGlyphs">0.0%</text>
<text x="351.40" y="157.40" font-size="9.8" text-anchor="middle" font-weight="normal" fill="#1a1a1a" stroke="#1a1a1a" stroke-width="0.13" >Cluster 2</text>
<rect x="317.75" y="186.20" width="11.8" height="35.30" fill="#CDAA55"/>
<rect x="331.20" y="189.60" width="11.8" height="31.90" fill="#CDAA55"/>
<rect x="344.65" y="176.90" width="11.8" height="44.60" fill="#CDAA55"/>
<rect x="358.10" y="188.00" width="11.8" height="33.50" fill="#CDAA55"/>
<rect x="371.55" y="173.70" width="11.8" height="47.80" fill="#CDAA55"/>
<path d="M321.55 180.40H325.75M323.65 180.40V187.30M321.55 187.30H325.75" stroke="#1a1a1a" stroke-width="1" fill="none"/>
<path d="M335.00 177.40H339.20M337.10 177.40V196.00M335.00 196.00H339.20" stroke="#1a1a1a" stroke-width="1" fill="none"/>
<path d="M348.45 170.70H352.65M350.55 170.70V181.00M348.45 181.00H352.65" stroke="#1a1a1a" stroke-width="1" fill="none"/>
<path d="M361.90 182.20H366.10M364.00 182.20V191.70M361.90 191.70H366.10" stroke="#1a1a1a" stroke-width="1" fill="none"/>
<path d="M375.35 164.20H379.55M377.45 164.20V186.80M375.35 186.80H379.55" stroke="#1a1a1a" stroke-width="1" fill="none"/>
<line x1="316.1" y1="168.5" x2="316.1" y2="222.1" stroke="#111" stroke-width="1.1"/>
<line x1="315.6" y1="221.5" x2="385.6" y2="221.5" stroke="#111" stroke-width="1.15"/>
<line x1="312.90000000000003" y1="171.2" x2="316.1" y2="171.2" stroke="#111" stroke-width="1"/>
<text x="309.80" y="173.80" font-size="8.3" text-anchor="end" font-weight="normal" fill="#1a1a1a" stroke="#1a1a1a" stroke-width="0.13" textLength="22.24" lengthAdjust="spacingAndGlyphs">15.0%</text>
<line x1="312.90000000000003" y1="188" x2="316.1" y2="188" stroke="#111" stroke-width="1"/>
<text x="309.80" y="190.60" font-size="8.3" text-anchor="end" font-weight="normal" fill="#1a1a1a" stroke="#1a1a1a" stroke-width="0.13" textLength="22.24" lengthAdjust="spacingAndGlyphs">10.0%</text>
<line x1="312.90000000000003" y1="204.6" x2="316.1" y2="204.6" stroke="#111" stroke-width="1"/>
<text x="309.80" y="207.20" font-size="8.3" text-anchor="end" font-weight="normal" fill="#1a1a1a" stroke="#1a1a1a" stroke-width="0.13" textLength="17.88" lengthAdjust="spacingAndGlyphs">5.0%</text>
<line x1="312.90000000000003" y1="221.5" x2="316.1" y2="221.5" stroke="#111" stroke-width="1"/>
<text x="309.80" y="224.10" font-size="8.3" text-anchor="end" font-weight="normal" fill="#1a1a1a" stroke="#1a1a1a" stroke-width="0.13" textLength="17.88" lengthAdjust="spacingAndGlyphs">0.0%</text>
<text x="478.70" y="157.40" font-size="9.8" text-anchor="middle" font-weight="normal" fill="#1a1a1a" stroke="#1a1a1a" stroke-width="0.13" >Cluster 3</text>
<rect x="445.05" y="186.20" width="11.8" height="35.30" fill="#A8B662"/>
<rect x="458.50" y="188.50" width="11.8" height="33.00" fill="#A8B662"/>
<rect x="471.95" y="183.80" width="11.8" height="37.70" fill="#A8B662"/>
<rect x="485.40" y="176.90" width="11.8" height="44.60" fill="#A8B662"/>
<rect x="498.85" y="181.50" width="11.8" height="40.00" fill="#A8B662"/>
<path d="M448.85 176.50H453.05M450.95 176.50V195.40M448.85 195.40H453.05" stroke="#1a1a1a" stroke-width="1" fill="none"/>
<path d="M462.30 180.20H466.50M464.40 180.20V196.00M462.30 196.00H466.50" stroke="#1a1a1a" stroke-width="1" fill="none"/>
<path d="M475.75 178.00H479.95M477.85 178.00V189.60M475.75 189.60H479.95" stroke="#1a1a1a" stroke-width="1" fill="none"/>
<path d="M489.20 171.20H493.40M491.30 171.20V181.00M489.20 181.00H493.40" stroke="#1a1a1a" stroke-width="1" fill="none"/>
<path d="M502.65 164.20H506.85M504.75 164.20V194.50M502.65 194.50H506.85" stroke="#1a1a1a" stroke-width="1" fill="none"/>
<line x1="443.4" y1="167" x2="443.4" y2="222.1" stroke="#111" stroke-width="1.1"/>
<line x1="442.9" y1="221.5" x2="512.9" y2="221.5" stroke="#111" stroke-width="1.15"/>
<line x1="440.2" y1="169.5" x2="443.4" y2="169.5" stroke="#111" stroke-width="1"/>
<text x="437.10" y="172.10" font-size="8.3" text-anchor="end" font-weight="normal" fill="#1a1a1a" stroke="#1a1a1a" stroke-width="0.13" textLength="22.24" lengthAdjust="spacingAndGlyphs">15.0%</text>
<line x1="440.2" y1="186.8" x2="443.4" y2="186.8" stroke="#111" stroke-width="1"/>
<text x="437.10" y="189.40" font-size="8.3" text-anchor="end" font-weight="normal" fill="#1a1a1a" stroke="#1a1a1a" stroke-width="0.13" textLength="22.24" lengthAdjust="spacingAndGlyphs">10.0%</text>
<line x1="440.2" y1="203.7" x2="443.4" y2="203.7" stroke="#111" stroke-width="1"/>
<text x="437.10" y="206.30" font-size="8.3" text-anchor="end" font-weight="normal" fill="#1a1a1a" stroke="#1a1a1a" stroke-width="0.13" textLength="17.88" lengthAdjust="spacingAndGlyphs">5.0%</text>
<line x1="440.2" y1="221.5" x2="443.4" y2="221.5" stroke="#111" stroke-width="1"/>
<text x="437.10" y="224.10" font-size="8.3" text-anchor="end" font-weight="normal" fill="#1a1a1a" stroke="#1a1a1a" stroke-width="0.13" textLength="17.88" lengthAdjust="spacingAndGlyphs">0.0%</text>
<text x="96.80" y="244.80" font-size="9.8" text-anchor="middle" font-weight="normal" fill="#1a1a1a" stroke="#1a1a1a" stroke-width="0.13" >Cluster 4</text>
<rect x="63.15" y="261.20" width="11.8" height="47.30" fill="#78BE64"/>
<rect x="76.60" y="280.80" width="11.8" height="27.70" fill="#78BE64"/>
<rect x="90.05" y="263.30" width="11.8" height="45.20" fill="#78BE64"/>
<rect x="103.50" y="273.50" width="11.8" height="35.00" fill="#78BE64"/>
<rect x="116.95" y="284.50" width="11.8" height="24.00" fill="#78BE64"/>
<path d="M66.95 252.20H71.15M69.05 252.20V263.80M66.95 263.80H71.15" stroke="#1a1a1a" stroke-width="1" fill="none"/>
<path d="M80.40 272.80H84.60M82.50 272.80V294.20M80.40 294.20H84.60" stroke="#1a1a1a" stroke-width="1" fill="none"/>
<path d="M93.85 258.70H98.05M95.95 258.70V270.50M93.85 270.50H98.05" stroke="#1a1a1a" stroke-width="1" fill="none"/>
<path d="M107.30 271.20H111.50M109.40 271.20V280.40M107.30 280.40H111.50" stroke="#1a1a1a" stroke-width="1" fill="none"/>
<path d="M120.75 273.90H124.95M122.85 273.90V292.40M120.75 292.40H124.95" stroke="#1a1a1a" stroke-width="1" fill="none"/>
<line x1="61.5" y1="264" x2="61.5" y2="309.1" stroke="#111" stroke-width="1.1"/>
<line x1="61.0" y1="308.5" x2="131.0" y2="308.5" stroke="#111" stroke-width="1.15"/>
<line x1="58.3" y1="267.2" x2="61.5" y2="267.2" stroke="#111" stroke-width="1"/>
<text x="55.20" y="269.80" font-size="8.3" text-anchor="end" font-weight="normal" fill="#1a1a1a" stroke="#1a1a1a" stroke-width="0.13" textLength="22.24" lengthAdjust="spacingAndGlyphs">10.0%</text>
<line x1="58.3" y1="287.6" x2="61.5" y2="287.6" stroke="#111" stroke-width="1"/>
<text x="55.20" y="290.20" font-size="8.3" text-anchor="end" font-weight="normal" fill="#1a1a1a" stroke="#1a1a1a" stroke-width="0.13" textLength="17.88" lengthAdjust="spacingAndGlyphs">5.0%</text>
<line x1="58.3" y1="308.5" x2="61.5" y2="308.5" stroke="#111" stroke-width="1"/>
<text x="55.20" y="311.10" font-size="8.3" text-anchor="end" font-weight="normal" fill="#1a1a1a" stroke="#1a1a1a" stroke-width="0.13" textLength="17.88" lengthAdjust="spacingAndGlyphs">0.0%</text>
<text x="223.90" y="244.80" font-size="9.8" text-anchor="middle" font-weight="normal" fill="#1a1a1a" stroke="#1a1a1a" stroke-width="0.13" >Cluster 5</text>
<rect x="190.25" y="278.10" width="11.8" height="30.40" fill="#69BC78"/>
<rect x="203.70" y="287.80" width="11.8" height="20.70" fill="#69BC78"/>
<rect x="217.15" y="281.30" width="11.8" height="27.20" fill="#69BC78"/>
<rect x="230.60" y="280.80" width="11.8" height="27.70" fill="#69BC78"/>
<rect x="244.05" y="263.80" width="11.8" height="44.70" fill="#69BC78"/>
<path d="M194.05 272.30H198.25M196.15 272.30V282.70M194.05 282.70H198.25" stroke="#1a1a1a" stroke-width="1" fill="none"/>
<path d="M207.50 276.50H211.70M209.60 276.50V297.20M207.50 297.20H211.70" stroke="#1a1a1a" stroke-width="1" fill="none"/>
<path d="M220.95 275.30H225.15M223.05 275.30V282.00M220.95 282.00H225.15" stroke="#1a1a1a" stroke-width="1" fill="none"/>
<path d="M234.40 275.80H238.60M236.50 275.80V281.50M234.40 281.50H238.60" stroke="#1a1a1a" stroke-width="1" fill="none"/>
<path d="M247.85 252.20H252.05M249.95 252.20V273.50M247.85 273.50H252.05" stroke="#1a1a1a" stroke-width="1" fill="none"/>
<line x1="188.6" y1="252.2" x2="188.6" y2="309.1" stroke="#111" stroke-width="1.1"/>
<line x1="188.1" y1="308.5" x2="258.1" y2="308.5" stroke="#111" stroke-width="1.15"/>
<line x1="185.4" y1="254.5" x2="188.6" y2="254.5" stroke="#111" stroke-width="1"/>
<text x="182.30" y="257.10" font-size="8.3" text-anchor="end" font-weight="normal" fill="#1a1a1a" stroke="#1a1a1a" stroke-width="0.13" textLength="22.24" lengthAdjust="spacingAndGlyphs">15.0%</text>
<line x1="185.4" y1="272.4" x2="188.6" y2="272.4" stroke="#111" stroke-width="1"/>
<text x="182.30" y="275.00" font-size="8.3" text-anchor="end" font-weight="normal" fill="#1a1a1a" stroke="#1a1a1a" stroke-width="0.13" textLength="22.24" lengthAdjust="spacingAndGlyphs">10.0%</text>
<line x1="185.4" y1="290.2" x2="188.6" y2="290.2" stroke="#111" stroke-width="1"/>
<text x="182.30" y="292.80" font-size="8.3" text-anchor="end" font-weight="normal" fill="#1a1a1a" stroke="#1a1a1a" stroke-width="0.13" textLength="17.88" lengthAdjust="spacingAndGlyphs">5.0%</text>
<line x1="185.4" y1="308.5" x2="188.6" y2="308.5" stroke="#111" stroke-width="1"/>
<text x="182.30" y="311.10" font-size="8.3" text-anchor="end" font-weight="normal" fill="#1a1a1a" stroke="#1a1a1a" stroke-width="0.13" textLength="17.88" lengthAdjust="spacingAndGlyphs">0.0%</text>
<text x="351.40" y="244.80" font-size="9.8" text-anchor="middle" font-weight="normal" fill="#1a1a1a" stroke="#1a1a1a" stroke-width="0.13" >Cluster 6</text>
<rect x="317.75" y="306.60" width="11.8" height="1.90" fill="#69C3A5"/>
<rect x="331.20" y="263.10" width="11.8" height="45.40" fill="#69C3A5"/>
<rect x="344.65" y="278.50" width="11.8" height="30.00" fill="#69C3A5"/>
<rect x="358.10" y="269.50" width="11.8" height="39.00" fill="#69C3A5"/>
<rect x="371.55" y="293.30" width="11.8" height="15.20" fill="#69C3A5"/>
<path d="M321.55 305.10H325.75M323.65 305.10V308.10M321.55 308.10H325.75" stroke="#1a1a1a" stroke-width="1" fill="none"/>
<path d="M335.00 252.70H339.20M337.10 252.70V273.50M335.00 273.50H339.20" stroke="#1a1a1a" stroke-width="1" fill="none"/>
<path d="M348.45 273.90H352.65M350.55 273.90V283.80M348.45 283.80H352.65" stroke="#1a1a1a" stroke-width="1" fill="none"/>
<path d="M361.90 262.60H366.10M364.00 262.60V273.90M361.90 273.90H366.10" stroke="#1a1a1a" stroke-width="1" fill="none"/>
<path d="M375.35 286.80H379.55M377.45 286.80V300.20M375.35 300.20H379.55" stroke="#1a1a1a" stroke-width="1" fill="none"/>
<line x1="316.1" y1="258" x2="316.1" y2="309.1" stroke="#111" stroke-width="1.1"/>
<line x1="315.6" y1="308.5" x2="385.6" y2="308.5" stroke="#111" stroke-width="1.15"/>
<line x1="312.90000000000003" y1="260.3" x2="316.1" y2="260.3" stroke="#111" stroke-width="1"/>
<text x="309.80" y="262.90" font-size="8.3" text-anchor="end" font-weight="normal" fill="#1a1a1a" stroke="#1a1a1a" stroke-width="0.13" textLength="22.24" lengthAdjust="spacingAndGlyphs">15.0%</text>
<line x1="312.90000000000003" y1="276.2" x2="316.1" y2="276.2" stroke="#111" stroke-width="1"/>
<text x="309.80" y="278.80" font-size="8.3" text-anchor="end" font-weight="normal" fill="#1a1a1a" stroke="#1a1a1a" stroke-width="0.13" textLength="22.24" lengthAdjust="spacingAndGlyphs">10.0%</text>
<line x1="312.90000000000003" y1="292.1" x2="316.1" y2="292.1" stroke="#111" stroke-width="1"/>
<text x="309.80" y="294.70" font-size="8.3" text-anchor="end" font-weight="normal" fill="#1a1a1a" stroke="#1a1a1a" stroke-width="0.13" textLength="17.88" lengthAdjust="spacingAndGlyphs">5.0%</text>
<line x1="312.90000000000003" y1="308.5" x2="316.1" y2="308.5" stroke="#111" stroke-width="1"/>
<text x="309.80" y="311.10" font-size="8.3" text-anchor="end" font-weight="normal" fill="#1a1a1a" stroke="#1a1a1a" stroke-width="0.13" textLength="17.88" lengthAdjust="spacingAndGlyphs">0.0%</text>
<text x="478.70" y="244.80" font-size="9.8" text-anchor="middle" font-weight="normal" fill="#1a1a1a" stroke="#1a1a1a" stroke-width="0.13" >Cluster 7</text>
<rect x="445.05" y="296.50" width="11.8" height="12.00" fill="#64C4C8"/>
<rect x="458.50" y="281.10" width="11.8" height="27.40" fill="#64C4C8"/>
<rect x="471.95" y="260.80" width="11.8" height="47.70" fill="#64C4C8"/>
<rect x="485.40" y="266.10" width="11.8" height="42.40" fill="#64C4C8"/>
<rect x="498.85" y="262.60" width="11.8" height="45.90" fill="#64C4C8"/>
<path d="M448.85 293.80H453.05M450.95 293.80V299.30M448.85 299.30H453.05" stroke="#1a1a1a" stroke-width="1" fill="none"/>
<path d="M462.30 267.70H466.50M464.40 267.70V289.60M462.30 289.60H466.50" stroke="#1a1a1a" stroke-width="1" fill="none"/>
<path d="M475.75 255.50H479.95M477.85 255.50V269.30M475.75 269.30H479.95" stroke="#1a1a1a" stroke-width="1" fill="none"/>
<path d="M489.20 260.80H493.40M491.30 260.80V279.20M489.20 279.20H493.40" stroke="#1a1a1a" stroke-width="1" fill="none"/>
<path d="M502.65 252.20H506.85M504.75 252.20V285.50M502.65 285.50H506.85" stroke="#1a1a1a" stroke-width="1" fill="none"/>
<line x1="443.4" y1="249" x2="443.4" y2="309.1" stroke="#111" stroke-width="1.1"/>
<line x1="442.9" y1="308.5" x2="512.9" y2="308.5" stroke="#111" stroke-width="1.15"/>
<line x1="440.2" y1="251.1" x2="443.4" y2="251.1" stroke="#111" stroke-width="1"/>
<text x="437.10" y="253.70" font-size="8.3" text-anchor="end" font-weight="normal" fill="#1a1a1a" stroke="#1a1a1a" stroke-width="0.13" textLength="22.24" lengthAdjust="spacingAndGlyphs">12.5%</text>
<line x1="440.2" y1="262.4" x2="443.4" y2="262.4" stroke="#111" stroke-width="1"/>
<text x="437.10" y="265.00" font-size="8.3" text-anchor="end" font-weight="normal" fill="#1a1a1a" stroke="#1a1a1a" stroke-width="0.13" textLength="22.24" lengthAdjust="spacingAndGlyphs">10.0%</text>
<line x1="440.2" y1="273.9" x2="443.4" y2="273.9" stroke="#111" stroke-width="1"/>
<text x="437.10" y="276.50" font-size="8.3" text-anchor="end" font-weight="normal" fill="#1a1a1a" stroke="#1a1a1a" stroke-width="0.13" textLength="17.88" lengthAdjust="spacingAndGlyphs">7.5%</text>
<line x1="440.2" y1="285.3" x2="443.4" y2="285.3" stroke="#111" stroke-width="1"/>
<text x="437.10" y="287.90" font-size="8.3" text-anchor="end" font-weight="normal" fill="#1a1a1a" stroke="#1a1a1a" stroke-width="0.13" textLength="17.88" lengthAdjust="spacingAndGlyphs">5.0%</text>
<line x1="440.2" y1="296.7" x2="443.4" y2="296.7" stroke="#111" stroke-width="1"/>
<text x="437.10" y="299.30" font-size="8.3" text-anchor="end" font-weight="normal" fill="#1a1a1a" stroke="#1a1a1a" stroke-width="0.13" textLength="17.88" lengthAdjust="spacingAndGlyphs">2.5%</text>
<line x1="440.2" y1="308.5" x2="443.4" y2="308.5" stroke="#111" stroke-width="1"/>
<text x="437.10" y="311.10" font-size="8.3" text-anchor="end" font-weight="normal" fill="#1a1a1a" stroke="#1a1a1a" stroke-width="0.13" textLength="17.88" lengthAdjust="spacingAndGlyphs">0.0%</text>
<text x="96.80" y="335.60" font-size="9.8" text-anchor="middle" font-weight="normal" fill="#1a1a1a" stroke="#1a1a1a" stroke-width="0.13" >Cluster 8</text>
<rect x="63.15" y="358.40" width="11.8" height="41.10" fill="#5FB9E6"/>
<rect x="76.60" y="362.00" width="11.8" height="37.50" fill="#5FB9E6"/>
<rect x="90.05" y="366.10" width="11.8" height="33.40" fill="#5FB9E6"/>
<rect x="103.50" y="361.50" width="11.8" height="38.00" fill="#5FB9E6"/>
<rect x="116.95" y="370.90" width="11.8" height="28.60" fill="#5FB9E6"/>
<path d="M66.95 352.30H71.15M69.05 352.30V366.10M66.95 366.10H71.15" stroke="#1a1a1a" stroke-width="1" fill="none"/>
<path d="M80.40 342.70H84.60M82.50 342.70V374.00M80.40 374.00H84.60" stroke="#1a1a1a" stroke-width="1" fill="none"/>
<path d="M93.85 355.50H98.05M95.95 355.50V372.80M93.85 372.80H98.05" stroke="#1a1a1a" stroke-width="1" fill="none"/>
<path d="M107.30 349.50H111.50M109.40 349.50V370.40M107.30 370.40H111.50" stroke="#1a1a1a" stroke-width="1" fill="none"/>
<path d="M120.75 355.50H124.95M122.85 355.50V384.20M120.75 384.20H124.95" stroke="#1a1a1a" stroke-width="1" fill="none"/>
<line x1="61.5" y1="349.5" x2="61.5" y2="400.1" stroke="#111" stroke-width="1.1"/>
<line x1="61.0" y1="399.5" x2="131.0" y2="399.5" stroke="#111" stroke-width="1.15"/>
<line x1="58.3" y1="352.3" x2="61.5" y2="352.3" stroke="#111" stroke-width="1"/>
<text x="55.20" y="354.90" font-size="8.3" text-anchor="end" font-weight="normal" fill="#1a1a1a" stroke="#1a1a1a" stroke-width="0.13" textLength="17.88" lengthAdjust="spacingAndGlyphs">6.0%</text>
<line x1="58.3" y1="367.8" x2="61.5" y2="367.8" stroke="#111" stroke-width="1"/>
<text x="55.20" y="370.40" font-size="8.3" text-anchor="end" font-weight="normal" fill="#1a1a1a" stroke="#1a1a1a" stroke-width="0.13" textLength="17.88" lengthAdjust="spacingAndGlyphs">4.0%</text>
<line x1="58.3" y1="383.3" x2="61.5" y2="383.3" stroke="#111" stroke-width="1"/>
<text x="55.20" y="385.90" font-size="8.3" text-anchor="end" font-weight="normal" fill="#1a1a1a" stroke="#1a1a1a" stroke-width="0.13" textLength="17.88" lengthAdjust="spacingAndGlyphs">2.0%</text>
<line x1="58.3" y1="399.5" x2="61.5" y2="399.5" stroke="#111" stroke-width="1"/>
<text x="55.20" y="402.10" font-size="8.3" text-anchor="end" font-weight="normal" fill="#1a1a1a" stroke="#1a1a1a" stroke-width="0.13" textLength="17.88" lengthAdjust="spacingAndGlyphs">0.0%</text>
<text x="69.05" y="407.90" font-size="7.5" text-anchor="middle" font-weight="normal" fill="#1a1a1a" stroke="#1a1a1a" stroke-width="0.13" >1</text>
<text x="82.50" y="407.90" font-size="7.5" text-anchor="middle" font-weight="normal" fill="#1a1a1a" stroke="#1a1a1a" stroke-width="0.13" >2</text>
<text x="95.95" y="407.90" font-size="7.5" text-anchor="middle" font-weight="normal" fill="#1a1a1a" stroke="#1a1a1a" stroke-width="0.13" >3</text>
<text x="109.40" y="407.90" font-size="7.5" text-anchor="middle" font-weight="normal" fill="#1a1a1a" stroke="#1a1a1a" stroke-width="0.13" >4</text>
<text x="122.85" y="407.90" font-size="7.5" text-anchor="middle" font-weight="normal" fill="#1a1a1a" stroke="#1a1a1a" stroke-width="0.13" >5</text>
<text x="223.90" y="335.60" font-size="9.8" text-anchor="middle" font-weight="normal" fill="#1a1a1a" stroke="#1a1a1a" stroke-width="0.13" >Cluster 9</text>
<rect x="190.25" y="363.90" width="11.8" height="35.60" fill="#6EA5D7"/>
<rect x="203.70" y="363.90" width="11.8" height="35.60" fill="#6EA5D7"/>
<rect x="217.15" y="373.10" width="11.8" height="26.40" fill="#6EA5D7"/>
<rect x="230.60" y="353.10" width="11.8" height="46.40" fill="#6EA5D7"/>
<rect x="244.05" y="369.00" width="11.8" height="30.50" fill="#6EA5D7"/>
<path d="M194.05 357.70H198.25M196.15 357.70V373.30M194.05 373.30H198.25" stroke="#1a1a1a" stroke-width="1" fill="none"/>
<path d="M207.50 349.50H211.70M209.60 349.50V377.70M207.50 377.70H211.70" stroke="#1a1a1a" stroke-width="1" fill="none"/>
<path d="M220.95 367.50H225.15M223.05 367.50V380.50M220.95 380.50H225.15" stroke="#1a1a1a" stroke-width="1" fill="none"/>
<path d="M234.40 342.70H238.60M236.50 342.70V364.90M234.40 364.90H238.60" stroke="#1a1a1a" stroke-width="1" fill="none"/>
<path d="M247.85 355.20H252.05M249.95 355.20V388.30M247.85 388.30H252.05" stroke="#1a1a1a" stroke-width="1" fill="none"/>
<line x1="188.6" y1="337.9" x2="188.6" y2="400.1" stroke="#111" stroke-width="1.1"/>
<line x1="188.1" y1="399.5" x2="258.1" y2="399.5" stroke="#111" stroke-width="1.15"/>
<line x1="185.4" y1="340.3" x2="188.6" y2="340.3" stroke="#111" stroke-width="1"/>
<text x="182.30" y="342.90" font-size="8.3" text-anchor="end" font-weight="normal" fill="#1a1a1a" stroke="#1a1a1a" stroke-width="0.13" textLength="17.88" lengthAdjust="spacingAndGlyphs">6.0%</text>
<line x1="185.4" y1="359.8" x2="188.6" y2="359.8" stroke="#111" stroke-width="1"/>
<text x="182.30" y="362.40" font-size="8.3" text-anchor="end" font-weight="normal" fill="#1a1a1a" stroke="#1a1a1a" stroke-width="0.13" textLength="17.88" lengthAdjust="spacingAndGlyphs">4.0%</text>
<line x1="185.4" y1="379.3" x2="188.6" y2="379.3" stroke="#111" stroke-width="1"/>
<text x="182.30" y="381.90" font-size="8.3" text-anchor="end" font-weight="normal" fill="#1a1a1a" stroke="#1a1a1a" stroke-width="0.13" textLength="17.88" lengthAdjust="spacingAndGlyphs">2.0%</text>
<line x1="185.4" y1="399.5" x2="188.6" y2="399.5" stroke="#111" stroke-width="1"/>
<text x="182.30" y="402.10" font-size="8.3" text-anchor="end" font-weight="normal" fill="#1a1a1a" stroke="#1a1a1a" stroke-width="0.13" textLength="17.88" lengthAdjust="spacingAndGlyphs">0.0%</text>
<text x="196.15" y="407.90" font-size="7.5" text-anchor="middle" font-weight="normal" fill="#1a1a1a" stroke="#1a1a1a" stroke-width="0.13" >1</text>
<text x="209.60" y="407.90" font-size="7.5" text-anchor="middle" font-weight="normal" fill="#1a1a1a" stroke="#1a1a1a" stroke-width="0.13" >2</text>
<text x="223.05" y="407.90" font-size="7.5" text-anchor="middle" font-weight="normal" fill="#1a1a1a" stroke="#1a1a1a" stroke-width="0.13" >3</text>
<text x="236.50" y="407.90" font-size="7.5" text-anchor="middle" font-weight="normal" fill="#1a1a1a" stroke="#1a1a1a" stroke-width="0.13" >4</text>
<text x="249.95" y="407.90" font-size="7.5" text-anchor="middle" font-weight="normal" fill="#1a1a1a" stroke="#1a1a1a" stroke-width="0.13" >5</text>
<text x="351.40" y="335.60" font-size="9.8" text-anchor="middle" font-weight="normal" fill="#1a1a1a" stroke="#1a1a1a" stroke-width="0.13" >Cluster 10</text>
<rect x="317.75" y="369.90" width="11.8" height="29.60" fill="#A09BCD"/>
<rect x="331.20" y="354.00" width="11.8" height="45.50" fill="#A09BCD"/>
<rect x="344.65" y="377.20" width="11.8" height="22.30" fill="#A09BCD"/>
<rect x="358.10" y="368.70" width="11.8" height="30.80" fill="#A09BCD"/>
<rect x="371.55" y="367.50" width="11.8" height="32.00" fill="#A09BCD"/>
<path d="M321.55 363.70H325.75M323.65 363.70V378.10M321.55 378.10H325.75" stroke="#1a1a1a" stroke-width="1" fill="none"/>
<path d="M335.00 342.70H339.20M337.10 342.70V376.40M335.00 376.40H339.20" stroke="#1a1a1a" stroke-width="1" fill="none"/>
<path d="M348.45 370.90H352.65M350.55 370.90V384.20M348.45 384.20H352.65" stroke="#1a1a1a" stroke-width="1" fill="none"/>
<path d="M361.90 364.40H366.10M364.00 364.40V375.70M361.90 375.70H366.10" stroke="#1a1a1a" stroke-width="1" fill="none"/>
<path d="M375.35 346.30H379.55M377.45 346.30V380.80M375.35 380.80H379.55" stroke="#1a1a1a" stroke-width="1" fill="none"/>
<line x1="316.1" y1="340.5" x2="316.1" y2="400.1" stroke="#111" stroke-width="1.1"/>
<line x1="315.6" y1="399.5" x2="385.6" y2="399.5" stroke="#111" stroke-width="1.15"/>
<line x1="312.90000000000003" y1="342.7" x2="316.1" y2="342.7" stroke="#111" stroke-width="1"/>
<text x="309.80" y="345.30" font-size="8.3" text-anchor="end" font-weight="normal" fill="#1a1a1a" stroke="#1a1a1a" stroke-width="0.13" textLength="17.88" lengthAdjust="spacingAndGlyphs">6.0%</text>
<line x1="312.90000000000003" y1="361.4" x2="316.1" y2="361.4" stroke="#111" stroke-width="1"/>
<text x="309.80" y="364.00" font-size="8.3" text-anchor="end" font-weight="normal" fill="#1a1a1a" stroke="#1a1a1a" stroke-width="0.13" textLength="17.88" lengthAdjust="spacingAndGlyphs">4.0%</text>
<line x1="312.90000000000003" y1="380.1" x2="316.1" y2="380.1" stroke="#111" stroke-width="1"/>
<text x="309.80" y="382.70" font-size="8.3" text-anchor="end" font-weight="normal" fill="#1a1a1a" stroke="#1a1a1a" stroke-width="0.13" textLength="17.88" lengthAdjust="spacingAndGlyphs">2.0%</text>
<line x1="312.90000000000003" y1="399.5" x2="316.1" y2="399.5" stroke="#111" stroke-width="1"/>
<text x="309.80" y="402.10" font-size="8.3" text-anchor="end" font-weight="normal" fill="#1a1a1a" stroke="#1a1a1a" stroke-width="0.13" textLength="17.88" lengthAdjust="spacingAndGlyphs">0.0%</text>
<text x="323.65" y="407.90" font-size="7.5" text-anchor="middle" font-weight="normal" fill="#1a1a1a" stroke="#1a1a1a" stroke-width="0.13" >1</text>
<text x="337.10" y="407.90" font-size="7.5" text-anchor="middle" font-weight="normal" fill="#1a1a1a" stroke="#1a1a1a" stroke-width="0.13" >2</text>
<text x="350.55" y="407.90" font-size="7.5" text-anchor="middle" font-weight="normal" fill="#1a1a1a" stroke="#1a1a1a" stroke-width="0.13" >3</text>
<text x="364.00" y="407.90" font-size="7.5" text-anchor="middle" font-weight="normal" fill="#1a1a1a" stroke="#1a1a1a" stroke-width="0.13" >4</text>
<text x="377.45" y="407.90" font-size="7.5" text-anchor="middle" font-weight="normal" fill="#1a1a1a" stroke="#1a1a1a" stroke-width="0.13" >5</text>
<text x="478.70" y="335.60" font-size="9.8" text-anchor="middle" font-weight="normal" fill="#1a1a1a" stroke="#1a1a1a" stroke-width="0.13" >Cluster 11</text>
<rect x="445.05" y="375.70" width="11.8" height="23.80" fill="#C08CC3"/>
<rect x="458.50" y="359.10" width="11.8" height="40.40" fill="#C08CC3"/>
<rect x="471.95" y="376.90" width="11.8" height="22.60" fill="#C08CC3"/>
<rect x="485.40" y="386.80" width="11.8" height="12.70" fill="#C08CC3"/>
<rect x="498.85" y="381.30" width="11.8" height="18.20" fill="#C08CC3"/>
<path d="M448.85 363.20H453.05M450.95 363.20V383.70M448.85 383.70H453.05" stroke="#1a1a1a" stroke-width="1" fill="none"/>
<path d="M462.30 342.70H466.50M464.40 342.70V378.90M462.30 378.90H466.50" stroke="#1a1a1a" stroke-width="1" fill="none"/>
<path d="M475.75 369.50H479.95M477.85 369.50V383.20M475.75 383.20H479.95" stroke="#1a1a1a" stroke-width="1" fill="none"/>
<path d="M489.20 383.70H493.40M491.30 383.70V390.40M489.20 390.40H493.40" stroke="#1a1a1a" stroke-width="1" fill="none"/>
<path d="M502.65 366.30H506.85M504.75 366.30V393.30M502.65 393.30H506.85" stroke="#1a1a1a" stroke-width="1" fill="none"/>
<line x1="443.4" y1="353.6" x2="443.4" y2="400.1" stroke="#111" stroke-width="1.1"/>
<line x1="442.9" y1="399.5" x2="512.9" y2="399.5" stroke="#111" stroke-width="1.15"/>
<line x1="440.2" y1="356.4" x2="443.4" y2="356.4" stroke="#111" stroke-width="1"/>
<text x="437.10" y="359.00" font-size="8.3" text-anchor="end" font-weight="normal" fill="#1a1a1a" stroke="#1a1a1a" stroke-width="0.13" textLength="17.88" lengthAdjust="spacingAndGlyphs">4.0%</text>
<line x1="440.2" y1="377.6" x2="443.4" y2="377.6" stroke="#111" stroke-width="1"/>
<text x="437.10" y="380.20" font-size="8.3" text-anchor="end" font-weight="normal" fill="#1a1a1a" stroke="#1a1a1a" stroke-width="0.13" textLength="17.88" lengthAdjust="spacingAndGlyphs">2.0%</text>
<line x1="440.2" y1="399.5" x2="443.4" y2="399.5" stroke="#111" stroke-width="1"/>
<text x="437.10" y="402.10" font-size="8.3" text-anchor="end" font-weight="normal" fill="#1a1a1a" stroke="#1a1a1a" stroke-width="0.13" textLength="17.88" lengthAdjust="spacingAndGlyphs">0.0%</text>
<text x="450.95" y="407.90" font-size="7.5" text-anchor="middle" font-weight="normal" fill="#1a1a1a" stroke="#1a1a1a" stroke-width="0.13" >1</text>
<text x="464.40" y="407.90" font-size="7.5" text-anchor="middle" font-weight="normal" fill="#1a1a1a" stroke="#1a1a1a" stroke-width="0.13" >2</text>
<text x="477.85" y="407.90" font-size="7.5" text-anchor="middle" font-weight="normal" fill="#1a1a1a" stroke="#1a1a1a" stroke-width="0.13" >3</text>
<text x="491.30" y="407.90" font-size="7.5" text-anchor="middle" font-weight="normal" fill="#1a1a1a" stroke="#1a1a1a" stroke-width="0.13" >4</text>
<text x="504.75" y="407.90" font-size="7.5" text-anchor="middle" font-weight="normal" fill="#1a1a1a" stroke="#1a1a1a" stroke-width="0.13" >5</text>
<text x="55.70" y="407.90" font-size="7.6" text-anchor="end" font-weight="normal" fill="#1a1a1a" stroke="#1a1a1a" stroke-width="0.13" textLength="17" lengthAdjust="spacingAndGlyphs">Arm:</text>
<text transform="translate(26.3,281.0) rotate(-90)" x="0" y="0" font-size="8.8" text-anchor="middle" textLength="229" lengthAdjust="spacingAndGlyphs" fill="#1a1a1a" stroke="#1a1a1a" stroke-width="0.13">Proportion of cells median + error bars (95% CIs) from bootstrapping</text>
<path d="M0.5 0V415M0 0.5H520M519.5 0V415M0 414.5H520" stroke="#000" stroke-width="1" fill="none"/>
<path d="M518.5 0V415" stroke="#000" stroke-width="1" opacity="0.25" fill="none"/>
<path d="M0 413.5H520" stroke="#000" stroke-width="1" opacity="0.4" fill="none"/>
</svg>
</body></html>
